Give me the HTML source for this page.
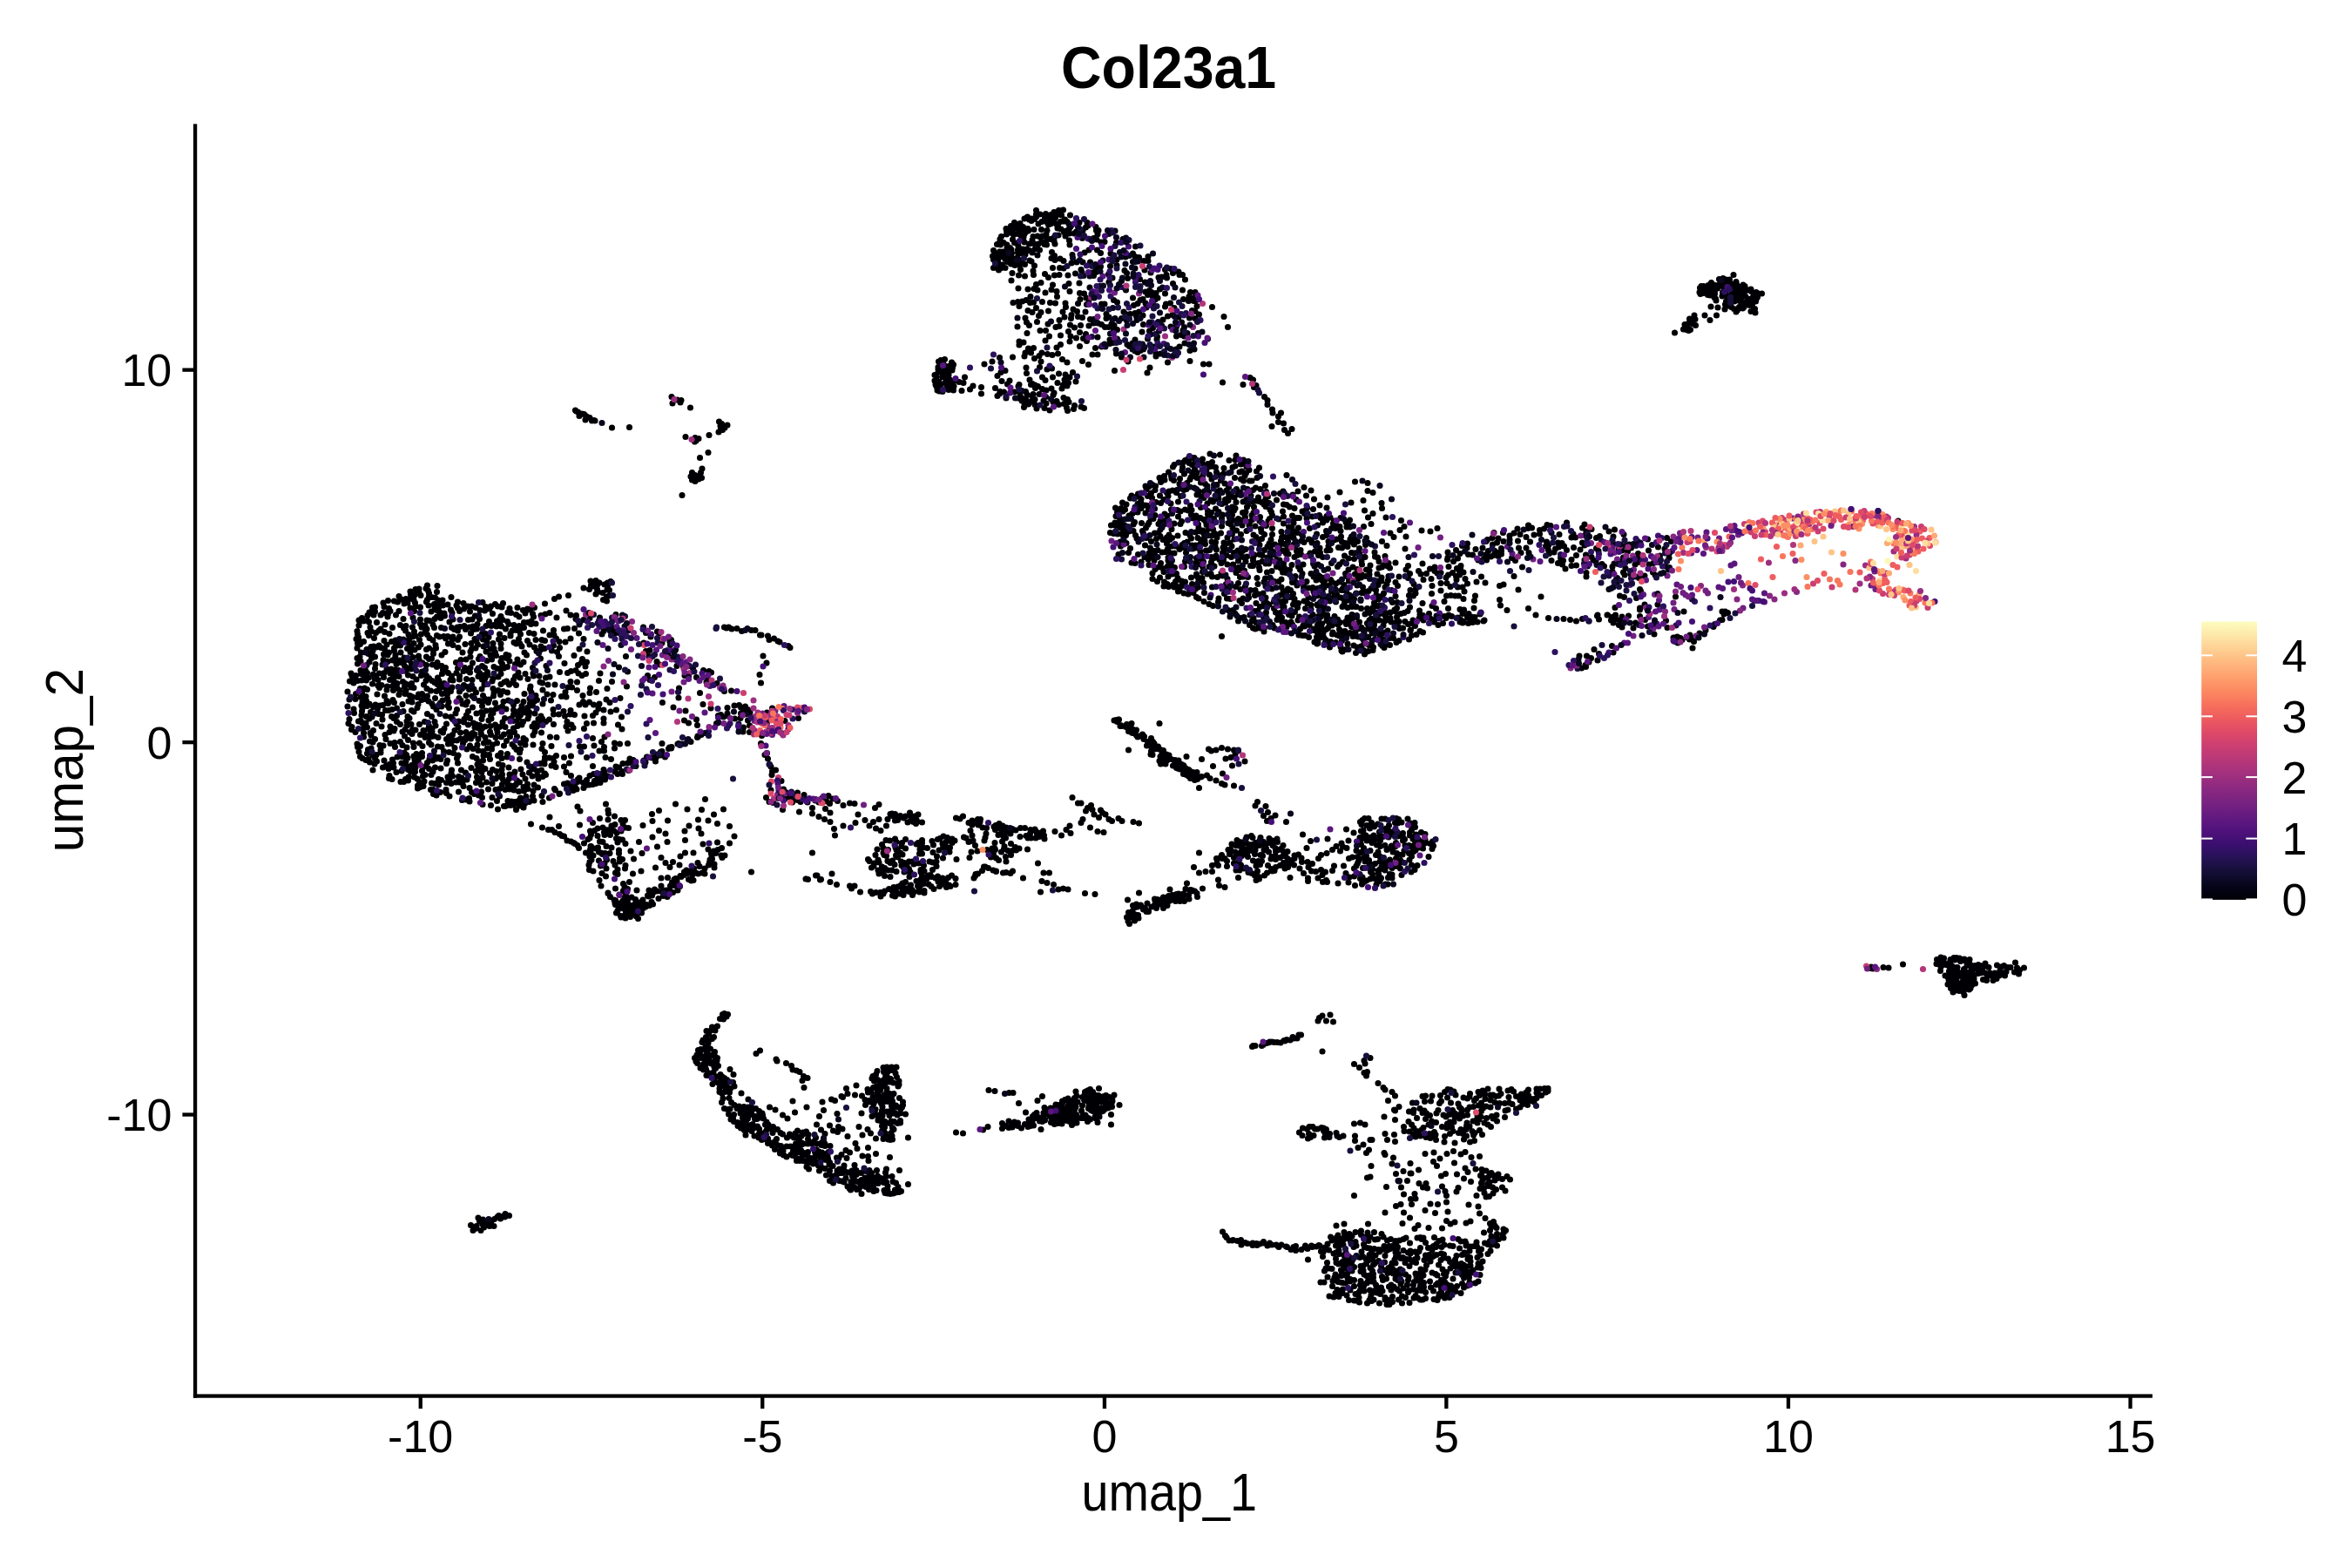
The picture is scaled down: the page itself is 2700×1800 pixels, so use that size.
<!DOCTYPE html>
<html><head><meta charset="utf-8"><title>Col23a1</title>
<style>html,body{margin:0;padding:0;background:#fff;}svg{display:block;}
text{font-family:"Liberation Sans",Arial,sans-serif;fill:#000;}</style></head>
<body><svg width="2700" height="1800" viewBox="0 0 2700 1800">
<rect width="2700" height="1800" fill="#fff"/>
<text x="1341.6" y="100.7" text-anchor="middle" font-size="69" font-weight="bold" textLength="247" lengthAdjust="spacingAndGlyphs">Col23a1</text>
<g fill="none" stroke-linecap="round" stroke-width="7.10">
<path stroke="#000004" d="M925 1009h0m614.5 449h0m90.5-752.5h0m-383-363.5h0m-669.5 451.5h0m983-79.5h0m-362.5 563.5h0m152.5-902.5h0m-352.5 968.5h0m-362.5-602.5h0m929-67h0m-870 305.5h0m570-630.5h0m-813 527h0m1100.5-179.5h0m-910.5 57h0m118 270h0m541 28.5h0m-604.5-69h0m916 315.5h0m-1065.5-467h0m930 112h0m-955-221h0m804.5-69h0m-576 371h0m726.5-367h0m-950 170.5h0m818-243h0m96.5 615.5h0m-207 83.5h0m-704.5-400h0m833 1h0m955 233h0m-1495-287.5h0m483.5-482h0m123.5 245.5h0m542.5-241h0m-708-75h0m-493.5 456.5h0m847.5 761h0m-470-1202h0m-569 439h0m716-317.5h0m-657 465.5h0m699.5-528.5h0m99.5 239.5h0m-503 719h0m691.5 139h0m-16 46.5h0m-1043.5-677.5h0m1020.5 170.5h0m-360-608.5h0m454 1097.5h0m-281.5-791h0m170.5 61h0m283-37.5h0m-775.5 301.5h0m-403-264h0m-175.5-27.5h0m36.5 88.5h0m319.5 467.5h0m638-554.5h0m-995.5 13h0m100.5 118h0m638 426.5h0m320 30h0m-817-589.5h0m860 774.5h0m145-865.5h0m-205.5-24.5h0m-845 120h0m639.5-171h0m-133 732.5h0m215-673h0m-605.5 384h0m422-81.5h0m-550 66.5h0m1574 143h0m-934-268.5h0m488.5-143.5h0m-1055 12h0m574-338.5h0m207 324.5h0m-326 304.5h0m-768.5-243h0m440.5 98.5h0m691.5 105.5h0m-551.5 352h0m748-71h0m-1183-355.5h0m0.5 18h0m672-645h0m-641.5 629h0m-162-91h0m257.5 128.5h0m365 34.5h0m868.5-602.5h0m-388.5 298.5h0m-650 653.5h0m768 135h0m20-180h0m-1223.5-402h0m1037.5-220h0m-945.5 98.5h0m-112.5 24.5h0m1192 661.5h0m-98 44h0m-1072.5-687h0m1000-117h0m-808 174h0m752.5 9h0m10.5 113h0m-1002.5-236.5h0m947.5-102h0m262 624h0m-212-602h0m-942 72h0m518 289h0m-376.5-170h0m745 34.5h0m182 593h0m-123-794h0m-576 568h0m632-762.5h0m-643.5 300.5h0m330.5-401h0m69-136.5h0m381.5 1127h0m-316-538.5h0m223-178.5h0m-835.5 284.5h0m516-542.5h0m260 283h0m122 635h0m-460.5-330.5h0m631.5 270h0m-111-658.5h0m39.5 854.5h0m-88.5-761h0m-371-398h0m-533.5 388h0m677.5 335.5h0m121 278h0m165.5-619.5h0m302.5-316.5h0m-1432.5 551h0m1080-197.5h0m60 725h0m-1034-540.5h0m1005.5 476.5h0m36-105.5h0m-1202-404.5h0m11.5-69.5h0m1173 570h0m-517-372.5h0m288-418h0m-608 385h0m398.5 307h0m219-552h0m145.5 743.5h0m-135.5-755h0m-296 239.5h0m391.5 501.5h0m80-153h0m-841-297.5h0m819-328.5h0m-71.5-66h0m-979.5 309h0m623 35h0m-469-135.5h0m974.5-150.5h0m-439 276h0m-768-151h0m465.5 492h0m661 29h0m193-667h0m-1165.5 142.5h0m629.5 484h0m164.5-303.5h0m542.5-640.5h0m-1024 684h0m-429-179h0m198.5 132.5h0m1122.5-256.5h0m432.5 415h0m-1611-416h0m-1.5 170h0m774-348h0m-133 505h0m-48-649.5h0m-524.5 660h0m458.5-643.5h0m-510 75.5h0m929 853.5h0m-13-678h0m32.5 785h0m-176.5-8.5h0m206.5 0.5h0m-339-844.5h0m-623.5 389.5h0m981.5 457.5h0m-439.5-1183.5h0m-58 51.5h0m-357 888.5h0m-102-333h0m-37.5-375.5h0m-234 279h0m822 524.5h0m-174.5-853h0m-3.5-4.5h0m648 835h0m103.5-509h0m-528-180.5h0m288 82h0m-263-5.5h0m23-77h0m230.5 97.5h0m11 47h0m-1041 68.5h0m-51.5-51.5h0m1079 706h0m35.5-713.5h0m624 376h0m-990 164h0m-735-364h0m435 44h0m-255.5-274.5h0m75 320.5h0m766-275h0m40.5 726.5h0m-292-857.5h0m-289.5 762.5h0m18-349.5h0m440-426.5h0m-773 383.5h0m1075.5 310h0m-550.5-840.5h0m303.5 243h0m-659.5 623h0m366.5-1026h0m530 1004.5h0m-124-323h0m-917.5 94h0m808.5-458.5h0m-489 446h0m624.5 447h0m-463-1061.5h0m538.5 999.5h0m-1034-730.5h0m315.5 669.5h0m484-50h0m-176.5-742h0m-107 724.5h0m-61.5-295h0m494.5 314h0m-380-44h0m-258-263.5h0m320.5-653h0m21.5 692h0m-75-672.5h0m32.5 696.5h0m-280.5-50.5h0m-507.5-234h0m118 31.5h0m681.5-164.5h0m-313 719.5h0m-127.5-575h0m324 498.5h0m-508.5-384h0m533.5 384h0m117-717h0m-801 226h0m498 473.5h0m535-543h0m-893.5 249.5h0m683 49h0m256 267h0m-456-1025.5h0m-154 713h0m396.5-87h0m-154 363.5h0m347-278h0m-402.5-594h0m-362.5 893h0m894-661h0m-808 320.5h0m443.5-320.5h0m11.5-0.5h0m-434.5 394h0m590.5-398.5h0m-782.5 140h0m-146 142.5h0m1077-239.5h0m-314.5-95h0m-720 403h0m885 462.5h0m-778.5-459h0m823-301.5h0m-218.5 221h0m-921.5-50h0m254 61.5h0m360 45h0m-240 276h0m-127.5-241.5h0m407-4.5h0m166 283.5h0m350 35h0m-1010.5-399.5h0m732.5-34.5h0m-246.5-427.5h0m-480.5 474h0m542.5 80.5h0m-429-252h0m742.5-62.5h0m-283.5-333h0m-687.5 566.5h0m904.5-319.5h0m309 794.5h0m315-1015h0m-855.5 935h0m206-707.5h0m-528.5-94h0m527 388h0m22-333.5h0m-600 437.5h0m719.5-267h0m-755.5 306h0m-201-231h0m996-44h0m-770.5-6.5h0m543.5-441h0m418 952.5h0m-524-919.5h0m526 287h0m-581-341h0m-659.5 500h0m627 227h0m-703.5-135h0m1211 573.5h0m-1029-561h0m-132-90h0m679.5-494.5h0m104.5 46h0m-227 942.5h0m168-994h0m136 113h0m-691.5 317.5h0m-167.5 146.5h0m958-267h0m241 879h0m-1161-642.5h0m1002-117.5h0m-991 58.5h0m1458-452.5h0m-350 1134h0m-479.5-1154h0m-316 856.5h0m-261-471h0m-135 120h0m1246 488h0m-340.5-700.5h0m-7 259.5h0m-326.5 464h0m320-712.5h0m-430 712h0m636-639h0m134 791h0m-745.5-172h0m465.5-414h0m-68.5-462h0m140.5 167.5h0m108.5 622h0m-1035-318.5h0m750-295.5h0m291.5 829.5h0m79 56h0m-529.5-512h0m465.5-16.5h0m-1030-264h0m583 284.5h0m-316 262h0m-323-513.5h0m1117 697.5h0m-1082-621.5h0m710.5 476.5h0m-637.5-336h0m861-472h0m757.5 625h0m-553.5-415h0m-1067 236h0m900.5-258h0m142 830.5h0m-121-68.5h0m3 42.5h0m139 16h0m-622-490.5h0m111.5-689h0m410.5 375.5h0m-549 597h0m164-964.5h0m415.5 947h0m-35 173.5h0m-327-1095h0m-4-70.5h0m-64.5-9.5h0m431.5 1186h0m625-328h0m-1245.5-170h0m249.5-517h0m684 226.5h0m-470 314h0m25.5 461h0m193.5-141h0m-284.5-624.5h0m-905 75h0m1074.5-133.5h0m-80.5 38h0m64.5 802h0m-179-562h0m-727.5-118.5h0m568 532h0m-714.5-425h0m1063 547.5h0m311-713h0m-292 711.5h0m-47.5-718h0m-42 0.5h0m347 63.5h0m-177-99h0m596.5 470h0m-295-398h0m-1002 560.5h0m277-33h0m107.5-855h0m295 554h0m-401-506.5h0m-738 444h0m1004.5 530h0m-885-508h0m190.5-71h0m285-413.5h0m434 301h0m-256.5-368h0m550.5 242h0m-919 687.5h0m794 137.5h0m-99.5-15.5h0m49-118.5h0m-420.5-1052h0m722.5 126h0m57.5-62.5h0m-985 666h0m-419-57h0m1069.5 369h0m-938-343.5h0m505 312.5h0m464.5 8.5h0m-777 55.5h0m703-696.5h0m-1146 228h0m-68-47h0m378 200.5h0m1059.5-396h0m-386 810h0m237.5 22.5h0m252-716h0m-1081.5 552h0m683-608.5h0m-991 35h0m1279.5 35h0m-1020.5 479.5h0m392.5-974.5h0m710.5 462h0m-847 292.5h0m472 434.5h0m-979-541.5h0m389 30.5h0m-37 393h0m718.5 37h0m-0.5-703h0m-1206.5 51h0m394.5 65.5h0m718-89.5h0m-926.5 119.5h0m811-144.5h0m-1005.5 211h0m567.5 148.5h0m597 464.5h0m-167.5-915h0m140 55.5h0m-1125 195.5h0m488.5 99h0m418-308.5h0m291 687h0m-845.5-836h0m329 502h0m-21 55.5h0m625 408h0m-1081-472h0m-90-128h0m619.5-387.5h0m374 1026h0m-1057.5-738h0m896.5-389.5h0m286.5 1136h0m-345.5-623h0m-639.5-88.5h0m252.5 511h0m603.5 205.5h0m-305.5-1211.5h0m-601 527h0m763.5-259.5h0m-20 489h0m179-69.5h0m-1031.5-258h0m565.5-249.5h0m-252.5 789h0m556.5-678h0m174 937.5h0m-1151-674.5h0m711 126h0m182.5-355h0m68.5 36.5h0m-679.5 147h0m1127.5-167h0m-830.5 687.5h0m953.5-927.5h0m-525.5 603h0m188.5-1.5h0m-1124.5-102h0m1792.5 247h0m-1251.5 118h0m1223-91.5h0m-1226 161.5h0m-63.5 43.5h0m-400-443h0m690 358.5h0m-607.5-445h0m1064 637.5h0m-319-920h0m60.5 473h0m-163.5-686h0m102.5 572.5h0m-185.5 67h0m351.5-228h0m-62-27h0m273-81.5h0m-546-350h0m-181.5 728.5h0m-258.5-141.5h0m-340-10.5h0m1330.5-234.5h0m-513 650h0m343.5 98.5h0m-23-127.5h0m-739 5h0m-10-305h0m322.5 39h0m280-3h0m-159.5-642.5h0m-555.5 551.5h0m236.5 431.5h0m741-31.5h0m2.5 192h0m-322.5-444.5h0m-224-729.5h0m743 380.5h0m-633.5-304.5h0m663.5 243.5h0m-439.5 79h0m217 761.5h0m-655.5-490.5h0m-219.5 21.5h0m-218.5-73h0m920.5-236h0m54 23.5h0m-278-308h0m-863.5 372h0m1071 240.5h0m-1051-220.5h0m1080-186.5h0m-110 391h0m243 287.5h0m129.5-656h0m-1116 359.5h0m537 295.5h0m125.5-405.5h0m-22-21.5h0m-89 427h0m470 19h0m-447-347.5h0m-255.5 411.5h0m40.5-93h0m51-844.5h0m548.5 533.5h0m-414-593.5h0m-13 89.5h0m143 210h0m-321 699h0m602-715.5h0m-513 356.5h0m893-663.5h0m-641.5 198.5h0m-209.5-242h0m64.5 143h0m188.5 166.5h0m45 49.5h0m135.5 348h0m-85-327h0m-833 299h0m955.5-283h0m-678 657.5h0m584-740.5h0m43 634h0m-55-649.5h0m-519.5 657.5h0m980.5-916h0m-675.5 706.5h0m183-84h0m-206.5-683.5h0m-769 575.5h0m1727.5 283h0m-1713.5-283.5h0m1004.5 127.5h0m-709 266h0m850.5-555.5h0m-444 601.5h0m397.5-582.5h0m-745 26.5h0m543.5-171.5h0m-29.5 420h0m42.5-361h0m-546 701h0m564-322h0m61.5-346.5h0m-169 378h0m22.5-482h0m-803.5 248.5h0m1011.5 619h0m-998-692.5h0m765 309h0m-669-133.5h0m159-89.5h0m-131.5 179h0m591.5-586h0m316.5 320h0m619 388h0m-578.5 171h0m595-139.5h0m-794.5-536h0m171 875h0m-599.5-240.5h0m552-516h0m-970.5 105.5h0m-192-58h0m-9-36.5h0m639.5 275.5h0m249.5-172.5h0m487-192.5h0m-155 716.5h0m-365.5-1085.5h0m582.5 464h0m-1353.5 144.5h0m525 104.5h0m587-46.5h0m-43.5-339.5h0m-918 265h0m363.5 84h0m-578-156.5h0m763-542.5h0m232 742.5h0m-945-257h0m297 253h0m866 498.5h0m-335-1110.5h0m-574.5 660h0m274-16.5h0m562.5 190h0m-476-206h0m-275 213h0m-6-408.5h0m667-199.5h0m-746.5 434.5h0m682.5-471.5h0m-450 761.5h0m568.5-32.5h0m-510-363.5h0m-472.5-167h0m-151 0.5h0m1058.5-77h0m-130 178.5h0m-769.5-43.5h0m1425-494h0m-497.5 266.5h0m-997.5 126.5h0m1082.5 271h0m-234.5-341.5h0m279.5 629h0m-606.5-317.5h0m-204 228h0m-358.5-424h0m1064.5 694.5h0m100-532h0m237.5-332h0m-810 381h0m162.5 283h0m-631.5-504.5h0m960 656.5h0m-911-700h0m461.5-284.5h0m-407.5 350.5h0m512.5 487.5h0m69.5-990.5h0m725.5 40h0m-1305.5 156h0m654-165h0m16.5 83h0m-276 607h0m-409.5-34.5h0m-184-97.5h0m131.5-21h0m970 123h0m183 275.5h0m-356.5-259h0m-437 255h0m412.5-715.5h0m1 5h0m53.5 23.5h0m58.5 60h0m-292.5-236.5h0m372 1080.5h0m-224-873.5h0m-350 770h0m696.5 100.5h0m-1288.5-735.5h0m497.5 576h0m331-979h0m469 966h0m-178-565h0m-1100 53h0m805-341h0m-660 306.5h0m816.5-214h0m-702 463.5h0m55.5-240.5h0m856.5 218.5h0m301.5-278h0m-387.5-2.5h0m-822 264h0m730.5-279h0m-372 292.5h0m147 302.5h0m-184.5 86h0m310-959.5h0m502 357.5h0m-273.5-25h0m-560 621.5h0m389.5-735h0m-793 307h0m785-262h0m107.5 772.5h0m-529-422h0m532-395h0m-647 655.5h0m850.5 83.5h0m-1273-561h0m416.5 458h0m628-577.5h0m94 280h0m-261.5-623h0m303.5 657.5h0m-785-207.5h0m813 627.5h0m-28.5-678h0m112.5 517.5h0m-591-807h0m206 113.5h0m308.5 909.5h0m-281-1080h0m167.5 293h0m-161-6.5h0m213 742.5h0m204.5-161h0m-112.5 230.5h0m-941.5-451.5h0m619-416h0m44 7.5h0m359-3.5h0m-1165.5 273h0m1107.5 380h0m-969.5-240h0m852 187h0m37-529.5h0m99.5 672.5h0m-459-101.5h0m180.5-611h0m-21.5-212.5h0m-709.5 232h0m506.5 602.5h0m436-15.5h0m-403-792.5h0m143 513.5h0m635.5-637.5h0m-951 681h0m103.5 265.5h0m547-649h0m-494-254h0m-187 599h0m649.5 468h0m-164-744h0m-969.5 87h0m726.5 145.5h0m1006.5 168.5h0m-935.5-474h0m279 35.5h0m-760 609h0m787.5 103h0m63.5-33.5h0m-411.5-509.5h0m-159.5-548.5h0m-615.5 485h0m1248-154h0m-274 685h0m-265-949.5h0m188 192.5h0m120 108.5h0m-251-297.5h0m-90-4h0m187 231.5h0m-875.5 217.5h0m561.5 200h0m397-28.5h0m-756 61.5h0m453-734.5h0m1053 797h0m-847-99.5h0m-345.5-24.5h0m-473-111h0m470.5 115.5h0m647 302h0m-888.5-468h0m233.5 204.5h0m-43.5 336h0m224-1085h0m-493 684.5h0m741-311.5h0m-500.5 704.5h0m-412.5-489h0m660.5 427.5h0m-191.5-14h0m363.5-917h0m582.5-21h0m-450 654h0m-3-260h0m739 395h0m-1663-408.5h0m441 265.5h0m537 477.5h0m140.5-195.5h0m-158 157h0m-638.5-120h0m-35.5-6h0m479.5-702.5h0m-796 130.5h0m781.5 309.5h0m-293.5 213h0m159.5-801.5h0m-691.5 389.5h0m-30-75h0m404.5 550.5h0m-222.5-469.5h0m826 138.5h0m125-38h0m-112.5-247h0m-393.5 323h0m-683-256.5h0m925 107h0m-738-18.5h0m489.5-411.5h0m590.5 243h0m-336.5 192.5h0m175.5-175.5h0m-17 21.5h0m-1026 163.5h0m848.5-297h0m-464 693.5h0m705-596.5h0m-871.5 188.5h0m555-582.5h0m641.5 332h0m-1035.5 684h0m-416.5-493.5h0m698 174.5h0m380.5 20.5h0m-1070-170.5h0m35.5-58.5h0m846.5-174h0m-37.5 13h0m273 359h0m-860-120.5h0m-199-132.5h0m-60.5 95h0m777-467.5h0m149.5 281h0m280 637.5h0m-250.5-608.5h0m-887.5 81h0m149-266h0m1603.5 635.5h0m-674.5 383.5h0m99.5-794h0m-683 582h0m499 23.5h0m108.5 134.5h0m-254.5-569.5h0m247.5 619.5h0m-89-29h0m-163-1126h0m-56 17.5h0m-698.5 467.5h0m-193-93.5h0m304 112.5h0m-138.5 9h0m456 425h0m-229.5-767.5h0m983.5 126.5h0m-1360.5 90h0m809 553h0m-629.5-521h0m-182 108.5h0m282.5-133h0m-13.5 253h0m-113-124.5h0m726-18h0m-876 0.5h0m549.5 524.5h0m-486.5-685h0m815.5-93.5h0m-91.5 699.5h0m493-651.5h0m-1097 134h0m354.5 559h0m-420.5-618.5h0m1075 22.5h0m-401.5 560.5h0m16.5-902h0m182.5 590h0m-607 205.5h0m760-464.5h0m-871 260.5h0m24-2.5h0m849.5 512.5h0m-1031-621h0m702-400h0m179 170h0m-183.5-295h0m442 1081.5h0m-686-128.5h0m-470.5-572.5h0m231 3h0m205 192.5h0m-402.5-182.5h0m734.5-423.5h0m-153-6h0m71-57.5h0m516 1016.5h0m-65-606.5h0m-217-84.5h0m97.5 888h0m56.5-1.5h0m-575.5-111.5h0m-16-351.5h0m497-299.5h0m-159 328h0m-193.5-577.5h0m434.5 235.5h0m-938 109h0m596-504.5h0m-372.5 439h0m688-94h0m-1013.5 235.5h0m269.5 350.5h0m656.5-589h0m-847.5 103.5h0m1046.5 632.5h0m-89.5-680h0m-1145.5 18h0m75.5 142.5h0m1199 581h0m7-142.5h0m-1050.5-511.5h0m560-494.5h0m300.5 398h0m33 329.5h0m-312.5-749.5h0m-395 1011.5h0m433.5-860.5h0m-96.5-139h0m354 458h0m91.5 697.5h0m-19-456h0m-421-699.5h0m281.5 444.5h0m-470.5 565.5h0m-243-259h0m928-332.5h0m-408.5 136.5h0m418.5 446h0m-1177-396h0m1188 487h0m205-741.5h0m-350-4h0m-152.5-8.5h0m-803 292h0m319 412h0m680.5-349.5h0m-823 39h0m35-181h0m271.5 143.5h0m-499-226h0m409 627.5h0m20-348h0m-8.5 286.5h0m609.5 176.5h0m-62-28.5h0m-467.5-514h0m454.5-233.5h0m-225-369h0m-880.5 412.5h0m625 221h0m-394.5-79.5h0m1577 248.5h0m-868-480h0m-65.5 193h0m236.5-136h0m-191-313.5h0m-727.5 330.5h0m998.5 572.5h0m-30-315h0m-139.5-512.5h0m144.5 498.5h0m-362 293h0m-644.5-534h0m828.5 234h0m127.5 505.5h0m141.5-833h0m-508-227h0m-634.5 391.5h0m479 167.5h0m-442-54h0m882 71.5h0m-156.5-125h0m-524-360.5h0m1465.5 607.5h0m-1469-346h0m522-187h0m-22 259h0m86-170.5h0m211 763.5h0m-9.5-727.5h0m-94-93.5h0m-1017.5 271.5h0m697-426h0m310 164.5h0m-299-372.5h0m130.5 324h0m4.5-249h0m251.5 638h0m-306 326.5h0m-242.5 62h0m421-710h0m-208.5 649h0m-225.5-52h0m906.5-607.5h0m-958 303h0m-144 70h0m593.5-424.5h0m454 85h0m-680.5-254.5h0m-168.5 943.5h0m227-1038.5h0m670.5 331.5h0m-1230 318h0m890 495h0m90 16h0m-1064.5-617h0m1065 504.5h0m-710.5-37.5h0m13.5-365.5h0m685 328h0m-728-368.5h0m667.5 87h0m322.5-367.5h0m-197.5 801.5h0m-1215.5-683h0m653.5 202h0m60.5-712h0m262 380h0m-669 151h0m981.5-134h0m-1228 243h0m-102.5-14.5h0m923-527.5h0m-796.5 534h0m49.5-50h0m984.5 516h0m-1021.5-535.5h0m561.5 139h0m-205.5 326.5h0m-482-377h0m622 74h0m107.5-519h0m-562.5 463.5h0m571.5 97.5h0m-521.5-113h0m271.5 436.5h0m-538.5-546.5h0m1240 467h0m-749.5 26.5h0m166.5-294h0m-238.5-8h0m-419-228h0m1087-159h0m-287-196h0m373.5 184.5h0m-728.5 235.5h0m987-113h0m-656 256h0m405.5-14.5h0m-2.5 550h0m-1139.5-691h0m-2.5 8h0m442 403.5h0m-45 74.5h0m225-272h0m371 409h0m115.5-808h0m-715.5 625.5h0m662.5-627h0m-329.5-351.5h0m403 444h0m-15.5 298.5h0m-820 17h0m998.5-421h0m-1065 371.5h0m863-301h0m15.5-18.5h0m734 464h0m-1057-653.5h0m174 104h0m184 130h0m-566.5 230.5h0m-604-61.5h0m88.5-31.5h0m814-269.5h0m-848.5 205h0m376 48h0m-139 202.5h0m1007.5-404h0m-216 678.5h0m-673.5-65.5h0m342.5-926.5h0m-298.5 973.5h0m616-688.5h0m-273.5-353h0m-735 501.5h0m1088 721.5h0m-993.5-757h0m1061 682h0m-151 42h0m205.5-717h0m-510.5-452h0m198.5 320h0m-821 145h0m460 255h0m464-305h0m-884 85.5h0m965.5 674h0m-625-124h0m329-54.5h0m74.5-585h0m-889.5 207.5h0m1213-207.5h0m-912.5 322.5h0m720-409h0m70 90.5h0m120.5 28.5h0m-218 300.5h0m-187.5 267.5h0m-45 8h0m325.5 202.5h0m-522.5-479h0m-441.5-295h0m470 296h0m524.5-352.5h0m-527 369h0m492.5-51.5h0m-578 383.5h0m367.5-1005.5h0m89 237.5h0m-96.5 459.5h0m-772.5-216.5h0m-74.5-25h0m38 52.5h0m540.5 170h0m-564.5-344h0m1035 482.5h0m-697 47h0m-45.5-204.5h0m-250-274h0m744 523h0m-17-333h0m472 438.5h0m-310-772h0m193 406h0m373-647.5h0m-1074 952.5h0m-335-434.5h0m1039.5 555h0m-148.5-226h0m89 253.5h0m122-741h0m-635.5 281.5h0m-267-133h0m873.5 445.5h0m-934-537h0m452.5-418.5h0m847.5-13h0m-1563 446h0m250.5 245h0m2-219h0m725.5-265.5h0m115.5 207h0m-1119.5 62.5h0m1128-213.5h0m270 17.5h0m-634 667h0m-204.5 56h0m-287.5-475.5h0m476.5-466h0m165.5 465.5h0m178 124h0m-1107.5-201.5h0m1608-446.5h0m-495.5 279h0m-74-45.5h0m476.5 161h0m-435 250h0m-325-695.5h0m425.5 448h0m419.5-390.5h0m-777.5 29h0m-783.5 386.5h0m130 105h0m-99.5-163h0m526 652.5h0m316.5-712h0m134.5-84.5h0m234.5 878.5h0m-1153-696.5h0m837-193h0m218 197h0m-438-448.5h0m-735.5 414.5h0m995.5 714.5h0m-25-866h0m-353.5 468h0m246-413.5h0m39-223.5h0m-21.5 221h0m146 82.5h0m-435 562h0m655.5-556h0m-59-0.5h0m-938.5-220.5h0m421-41h0m304 99h0m-149 748h0m74-948.5h0m249.5 661.5h0m-242.5-661h0m265.5 1134h0m574.5-877h0m-1226 325h0m718.5 552h0m-276.5-836.5h0m-894 170.5h0m930.5-233.5h0m527.5-198.5h0m-698.5 912h0m207-575.5h0m158-110.5h0m-1149 234h0m885.5-282h0m-317 682.5h0m-481-413h0m294.5 465h0m-382-566.5h0m265.5 312.5h0m770.5 265h0m-956.5-375h0m1086 567.5h0m-1184-791h0m1009-15.5h0m850.5 427.5h0m-1798-210h0m1022.5-277h0m-251-227h0m-69 76.5h0m403.5 892h0m-889-575h0m442-497.5h0m-628 476h0m1011-143h0m-98 369h0m124.5-53h0m-761.5 277.5h0m-92.5-186h0m-231-192.5h0m1033.5 456.5h0m-364.5-1032.5h0m-706 505.5h0m432.5 544.5h0m984.5-660h0m-460.5 29h0m283 749.5h0m-537-429h0m424.5-412.5h0m-52.5 116.5h0m-804.5 339.5h0m495-783.5h0m357 485.5h0m-877 138.5h0m753 75.5h0m362.5-312.5h0m-568.5-339.5h0m-354.5 576h0m772 604.5h0m-956.5-769.5h0m-230.5-38h0m1332.5-65.5h0m-719.5-204.5h0m106-43h0m529.5 269h0m-1006.5 184.5h0m320.5 450h0m-337-596h0m317.5 627h0m-43 41.5h0m461-362h0m-236.5-706h0m29-23h0m-418 939.5h0m486-615h0m-11-274.5h0m-97-14.5h0m678.5 367h0m-1208 233.5h0m1243.5-162.5h0m-314.5 757.5h0m-407-208.5h0m-398.5-423.5h0m701.5-271.5h0m843 529h0m-1093 164h0m-266.5 71.5h0m43.5-107h0m-579-465.5h0m-11.5-61h0m985.5-109h0m187.5 647h0m-144.5-599.5h0m-150-17h0m389 74h0m38.5 547h0m-424-686.5h0m-686.5 207h0m719.5-178h0m-170.5 693.5h0m188.5-664.5h0m-727.5 157h0m929.5 635h0m-754.5-912h0m-227.5 329.5h0m640.5 442.5h0m642.5-632h0m-937 675.5h0m121-327h0m-521-281.5h0m1115.5 241.5h0m256.5-294.5h0m-287 785h0m-38-786.5h0m-886 330h0m836-251.5h0m728 395.5h0m-1833-293h0m57-3h0m1387-88.5h0m-1054-203.5h0m1364 565h0m-1685.5-418.5h0m1180.5 588h0m-654.5-31.5h0m-495-452h0m869 108h0m-319.5 94h0m459.5-17h0m-994.5-123h0m883-321h0m130.5 113h0m-1046 125h0m97-72h0m299.5 186h0m578.5 106h0m-901-250.5h0m760-368.5h0m-94.5 9.5h0m752.5-40h0m-491 304.5h0m-14 780.5h0m755-331h0m-1162.5-82.5h0m288 10.5h0m-796-201h0m974 638.5h0m130-60.5h0m597-280h0m-1802.5-384h0m322.5 265.5h0m576.5 19.5h0m896.5 75h0m-1453.5-98h0m371-703h0m1086 828.5h0m-739-458.5h0m-199-41h0m-567 240h0m-122.5 69h0m771.5-38.5h0m323.5-228.5h0m550.5 453.5h0m-1846-422.5h0m239 196.5h0m752.5 91h0m-3-466.5h0m-897 315.5h0m529.5 107h0m288.5-275h0m-12 188.5h0m-70.5 417h0m571.5-633h0m-362 787.5h0m-639.5-610h0m475.5-512.5h0m315.5 647.5h0m-404 326h0m-481-315h0m664-304h0m-28.5-32.5h0m72 295h0m-586 365.5h0m554-626h0m-829.5 160h0m181-18h0m935.5 482.5h0m-345.5-723.5h0m930.5 553.5h0m-647-150h0m8 337.5h0m81.5-670.5h0m-690 343h0m353-389h0m-206.5 372h0m134-652h0m226.5 421h0m-237-116.5h0m-594.5 431h0m949 265.5h0m-216-300.5h0m84.5-267.5h0m-310.5-375.5h0m247 300h0m-947 123.5h0m800-173.5h0m-86.5-252h0m-668.5 486.5h0m81 59.5h0m162.5 293h0m21.5-383.5h0m573.5 195.5h0m-416.5 229.5h0m1020-917.5h0m-628 289h0m-465 646.5h0m504.5-682h0m284 811h0m-1103.5-621h0m993 476.5h0m41.5 231h0m308.5-1108h0m-1432.5 322.5h0m649.5 295h0m464-44h0m-1128.5-146h0m944-81.5h0m-990.5 74.5h0m191.5 28h0m587.5-390h0m-148 3h0m501 313.5h0m-1090.5 144.5h0m525.5 138h0m444 401h0m542.5-1097.5h0m-605 275h0m-106.5 14.5h0m-222 386.5h0m586 455.5h0m-1092.5-60h0m-15-559h0m473.5 524.5h0m-545.5-571h0m1068 627h0m-280.5-1165h0m202.5 704.5h0m123.5 33h0m-780.5 211.5h0m904-590h0m-87.5 381.5h0m-218.5-449.5h0m-93 293.5h0m-308 501.5h0m-37.5-17h0m-155.5-108h0m1466-104.5h0m-1671.5-320.5h0m1062 693h0m-333-453.5h0m-148.5-79h0m276.5-17.5h0m-966.5-255h0m666 268h0m194-376.5h0m54 842.5h0m237.5 42.5h0m-699.5-131h0m532.5-610.5h0m-272.5 282.5h0m401.5-340h0m-587 575h0m-119.5-331h0m452-320.5h0m-528 592.5h0m-342-325h0m784 80h0m-640-63.5h0m173.5 132.5h0m729.5-355.5h0m-651.5 661h0m487.5-962h0m219.5 637.5h0m-29.5 471.5h0m-358-196h0m-320 25.5h0m432.5-881.5h0m-123 50h0m-645.5 954h0m448.5-36h0m-282.5-350.5h0m129.5-187h0m1134.5-471h0m-1097 491.5h0m-222-132h0m1095.5 538.5h0m-1173.5-532h0m950.5 700h0m-470-493h0m139.5-513.5h0m373 329.5h0m0.5 540h0m-491-843h0m511 1034h0m-997-575h0m1104 435h0m-510.5-380h0m400.5-2.5h0m-401-7h0m-260-35h0m283-643h0m-123.5 710.5h0m634.5 438.5h0m-1160.5-722.5h0m1103 646.5h0m-1037.5-434h0m208.5 256.5h0m-298-471h0m843-25h0m-957.5 102.5h0m454.5 429.5h0m123.5 44.5h0m678 172h0m-449-979.5h0m633.5 274.5h0m455 387.5h0m-1717.5-386.5h0m1010.5 763.5h0m-224.5-869.5h0m180.5 341.5h0m-44-357.5h0m-1057.5 288.5h0m1218-170h0m319-369h0m-55.5 387.5h0m-1334 74h0m-77 46h0m1464-509.5h0m-1432 580.5h0m722.5-91h0m-377.5 390h0m-175.5-183.5h0m-288-332h0m783-316h0m-729 304.5h0m830.5 163h0m-839-131h0m352.5 231.5h0m141 358.5h0m713 132h0m-89-6h0m-844.5-575.5h0m520-269h0m-195 407.5h0m-281-238h0m733 679.5h0m-943-628h0m858.5 376h0m-966-406.5h0m95.5 55h0m548.5 448h0m-431.5-802.5h0m889.5 135.5h0m-1-32.5h0m27 851.5h0m-1115-599h0m-20.5-149.5h0m1135 282.5h0m-1191-224h0m158.5-57h0m201.5 266h0m646-302h0m-377.5 351.5h0m627 308.5h0m-94 97.5h0m12.5-425.5h0m-1117-266.5h0m936-166.5h0m-930 202h0m535 224.5h0m123-38.5h0m-512-118h0m564-581h0m212.5 372.5h0m-463 297h0m47.5 66.5h0m-486.5-150h0m490.5 159.5h0m684 480h0m-310-446.5h0m-551 185h0m-222.5-454.5h0m713.5-180h0m-720.5 117.5h0m1253-87.5h0m-900 731.5h0m757 11h0m-786-20h0m80-384.5h0m-579.5-158h0m1187.5-54.5h0m374-380.5h0m-1405 418.5h0m1078-67h0m-271.5-61.5h0m306.5 808h0m-329.5-574.5h0m323.5 462.5h0m573.5-221.5h0m-1533-107h0m-18.5-24h0m179-68h0m671.5 301h0m-307 31h0m-364-375h0m-317-78.5h0m364 530.5h0m566-655h0m-161 355.5h0m-687-208h0m-57-59.5h0m-96 136.5h0m833-231.5h0m117.5-69.5h0m318 662.5h0m-1346.5-419h0m1033.5-116.5h0m-913.5 107h0m1067 113h0m-843 83.5h0m800.5 442h0m-1120-627h0m1194.5 640h0m86-788.5h0m-1301 17.5h0m437 561.5h0m458-418h0m-802-2h0m300.5 329.5h0m-370-431.5h0m993.5-316h0m-138 603.5h0m-181-69h0m184 71h0m167-320h0m-344-277h0m263.5 129.5h0m-952 212.5h0m115.5-6.5h0m1111 668.5h0m-1218.5-566h0m1037.5-290.5h0m398 48h0m-315.5 591.5h0m-799.5-289.5h0m773-326h0m-390 334.5h0m-490.5-198h0m-82 76.5h0m1680 294.5h0m-606 151h0m-1048-419.5h0m55-19.5h0m339 516.5h0m30-359.5h0m-329.5-320h0m680.5-78h0m193 830h0m-46 31.5h0m-326.5-497h0m-50-651h0m-657 529h0m380 464.5h0m494-936.5h0m38 226h0m-290.5 393.5h0m1126 122h0m-1070.5 182.5h0m493.5-38.5h0m-458.5-992.5h0m381 472h0m172 531h0m-66-624h0m-462.5-302.5h0m-558 399h0m331.5 292.5h0m553-338.5h0m-112.5 27h0m134-17h0m85 777h0m-404-448h0m184-422.5h0m255 110h0m-294-67.5h0m-231 314h0m342 47.5h0m-84-134h0m288.5 491.5h0m-529.5-923.5h0m219 135h0m-211-172h0m211.5 265.5h0m20-8.5h0m-727 296.5h0m612.5-110h0m-687.5-155.5h0m968.5-31.5h0m-1012 263h0m869-256.5h0m-1039 195h0m429.5 379.5h0m-333-473.5h0m1164 579h0m-396.5-81h0m-711-367.5h0m1013.5 523.5h0m-152-834.5h0m23 394h0m-238-735h0m274 377h0m764 506.5h0m-1158.5-113.5h0m63-61.5h0m493-300.5h0m-271.5-273h0m-343 878h0m195.5-827.5h0m483.5 860.5h0m107.5-650.5h0m-707 301.5h0m-473-235.5h0m-127 197.5h0m1065.5-214.5h0m-1133.5 48h0m888-124.5h0m-360 714h0m-251.5-309h0m261.5 292h0m-367-578h0m-125.5 11h0m208.5 195.5h0m852-214.5h0m-292 557.5h0m186.5-637.5h0m-825 185.5h0m929 627h0m-364.5-1205.5h0m454.5 1110.5h0m325-1033h0m-301.5 1060h0m-188.5-812h0m-856.5 311h0m670.5-567.5h0m258.5 1123h0m-231.5-819.5h0m-290 638h0m522-552h0m-733.5 519.5h0m-115.5-340.5h0m1236.5-514.5h0m-1314 406.5h0m1.5 58h0m-154.5-8h0m1347-202h0m-1282 61.5h0m75.5 34h0m-172.5 14.5h0m134 165.5h0m1004 549h0m-921.5-683h0m269.5 468h0m-397.5-342.5h0m-100-168.5h0m289.5 323.5h0m-115.5-193h0m799.5-243h0m-883.5 184.5h0m823.5-211.5h0m290.5 900h0m637.5-371.5h0m-546 234h0m-1261-555h0m750.5-364.5h0m-26.5 854.5h0m414.5 166.5h0m-117-849h0m-693.5 170.5h0m206 568.5h0m164-1043.5h0m-746 553.5h0m752 122.5h0m-22 22.5h0m-647.5-152.5h0m45-30h0m1070 640.5h0m-59.5-444h0m-35.5-318h0m-988 119.5h0m832.5-189h0m80-73.5h0m243.5 915h0m-276.5-838.5h0m226.5 863.5h0m-130.5-518.5h0m-27-409.5h0m152 812h0m19 59h0m-218.5-452.5h0m-438 380h0m-342.5-403h0m-2.5-216h0m537 231.5h0m347.5-343.5h0m-86 342h0m149 418.5h0m8.5-700.5h0m-203-107.5h0m-223.5-315h0m-749 602.5h0m850-507.5h0m325 594h0m-29-10.5h0m-181-297h0m128-56h0m-959.5 172h0m740-369h0m242.5 197h0m-969.5 219h0m474 184h0m-440.5-293.5h0m1084.5 739.5h0m-764.5-531h0m518.5 55h0m-543 312.5h0m-328.5-394.5h0m602.5 409.5h0m644-584.5h0m-800 532.5h0m245 34.5h0m-42-10.5h0m-205.5-241h0m813-418.5h0m-1307.5 283.5h0m1725.5 225h0m-229.5-770h0m-426 367h0m-728 578.5h0m349-15.5h0m290 20h0m-14.5-656.5h0m-535 274h0m-289.5-441.5h0m-120.5 409.5h0m839.5 138.5h0m-575.5-176.5h0m409.5-584h0m-762 430.5h0m144 235h0m577.5-662.5h0m328 733h0m-558.5 327.5h0m219.5-68.5h0m-210.5 80h0m253.5-1077.5h0m-363.5 1030.5h0m750.5-563.5h0m7 753h0m178.5-841.5h0m-160 762.5h0m-318-1056h0m943 771.5h0m-595.5 349h0m31-758h0m-245-101.5h0m-428 644.5h0m20.5 40h0m522-620.5h0m-388.5 335.5h0m425.5 5.5h0m-944-188h0m637-475.5h0m-273 606.5h0m377.5-330h0m-142 323.5h0m188-353.5h0m-231.5 363h0m343.5 530.5h0m-1076.5-639.5h0m-43-53.5h0m1061.5-84.5h0m-714 29.5h0m809.5-3h0m-62 703h0m-764-562.5h0m877.5-149.5h0m-283.5-411h0m112.5 672.5h0m-213.5 39.5h0m310-472.5h0m-1045.5 231.5h0m446 132.5h0m-57.5 12.5h0m1393.5 194h0m-1027.5-751h0m449.5 997.5h0m-46.5 82h0m-634-174h0m-332.5-610.5h0m-53.5 232.5h0m-184.5-166h0m1514-22.5h0m-1164 503.5h0m748 228.5h0m-599.5-144h0m240.5-1035h0m217 734.5h0m-836.5-204h0m16.5-53h0m792.5 251.5h0m-872-168h0m348 456h0m784 170.5h0m-1085.5-673h0m446.5 519.5h0m519-582.5h0m491-379h0m-1481.5 401.5h0m751.5 96h0m-575 107h0m495 348h0m-330.5 1.5h0m-166.5-268.5h0m501.5 248.5h0m-641-515.5h0m421.5 610h0m749-109.5h0m-156.5 236h0m-271-857h0m-740.5 290.5h0m1118 529.5h0m-223-862h0m-150.5 71.5h0m-80-363.5h0m-344.5 1001h0m-284.5-483h0m946 664.5h0m-720.5-218h0m1022.5-633.5h0m-585 628h0m-376-432.5h0m689 614h0m-562.5-412.5h0m59-10.5h0m-490.5-310.5h0m343 625.5h0m-88.5-514.5h0m-96.5 47h0m678 561.5h0m-985-700h0m841.5-150.5h0m-16.5 695h0m-675-456.5h0m1026 674.5h0m-1080.5-648.5h0m1010 142.5h0m-111.5-8h0m-840.5-147.5h0m1108 533h0m-1245.5-651h0m370.5 539h0m-272-536h0m708.5 550.5h0m-733.5-475.5h0m1433.5-443.5h0m-1458 449h0m-84-47h0m299 297h0m894.5 222h0m-104-600h0m-79 55h0m108.5-93.5h0m-1042.5 160h0m1018 223h0m-142-360h0m235 824.5h0m3.5-128h0m-899-305h0m-34.5-365.5h0m-277 120h0m1427-85.5h0m-1361.5-2h0m1101.5 750h0m-413.5-1145.5h0m380.5 1140.5h0m-959-650h0m724 221h0m-696.5-191h0m616.5-566h0m-272.5 735h0m744 361.5h0m-333-750h0m-453 709h0m632-724h0m-47.5-10h0m42 833h0m-227-810h0m-220 392.5h0m-634.5-320.5h0m900.5 204h0m-362 365.5h0m673.5 58h0m-27.5 120.5h0m-283-398h0m211 370.5h0m-811.5-397h0m725 182.5h0m-455.5-169.5h0m969.5-682h0m-672 695h0m-927-240h0m811.5 496.5h0m227-694h0m139 114.5h0m-518 256.5h0m-508-135h0m1050.5-116.5h0m-632.5 624.5h0m753-668h0m-1226.5 182.5h0m1086.5-215h0m-52 88h0m345.5-7h0m-1292.5 44.5h0m261 59.5h0m752 162h0m-719.5-234h0m743-75.5h0m-418.5-432h0m-217.5 1103h0m-385.5-627h0m321.5 199h0m-200.5 107h0m97 176.5h0m-333-300.5h0m736 382.5h0m1032-152.5h0m-1533.5-115.5h0m810 147h0m-1025.5-399.5h0m-25.5-19.5h0m1097.5-46h0m-914 21.5h0m756-73.5h0m-831 138h0m594-357.5h0m-634 483h0m431 105.5h0m-129 271.5h0m666 7.5h0m-464-352.5h0m163 340.5h0m220.5-309.5h0m125.5-244h0m125 723h0m-387.5-396h0m-197-71h0m126-34h0m-281 362h0m580-335h0m-1099-276.5h0m7.5 73.5h0m1186.5 210.5h0m-752 317h0m831-661h0m-378 5.5h0m-168.5 317.5h0m-698-219h0m1182.5 528h0m-282-401.5h0m318.5-212h0m-961 314.5h0m-259-183.5h0m1148.5 637h0m-1088.5-607.5h0m406.5 484h0m-429-426.5h0m902-257.5h0m-686.5 331.5h0m-111.5-230h0m878.5-14.5h0m-734 329h0m-111-260h0m-58 29h0m888.5-133.5h0m-23.5 12.5h0m249.5 741.5h0m-278-804.5h0m161 840h0m1-758h0m-1068 78.5h0m634 192h0m226.5-325h0m-345.5 575h0m-212.5-284.5h0m-278.5-122h0m865-125.5h0m-901.5 148.5h0m608-394h0m362 199h0m-780 254h0m-124 8h0m944 93.5h0m-904.5-101.5h0m775.5-283h0m304 13.5h0m-419.5 636.5h0m-646-362.5h0m545-616.5h0m547 996h0m-795.5-64.5h0m471.5-672h0m-868 333.5h0m182-74h0m-188.5-122h0m1779.5 420h0m-1150.5 191h0m-608.5-586h0m1003-96.5h0m51.5 879h0m285-809.5h0m-716 316.5h0m179-365h0m-700 314.5h0m641 326.5h0m-95-989.5h0m343 444.5h0m-43.5-135.5h0m-182.5-1h0m376 47.5h0m-848.5 332.5h0m810.5 473h0m-827.5-437.5h0m232 358.5h0m-305.5-878.5h0m-303 279h0m922.5 97.5h0m-752-149.5h0m1009.5 715h0m65.5 23.5h0m-471.5-173h0m325 159.5h0m-513-179h0m-595.5-519.5h0m1103-96h0m474.5-302.5h0m-750.5 919.5h0m308-580h0m-50.5 304.5h0m-986-294.5h0m937 314h0m-126.5-409h0m-93.5-128.5h0m106 97.5h0m-303.5 369h0m-227 52.5h0m1190-656h0m-1379 573.5h0m913.5 527h0m374.5-775h0m-1221 327h0m647-395.5h0m-823.5 186.5h0m1036.5-35.5h0m86.5 215.5h0m-476 20h0m-328 1.5h0m561-415.5h0m-590-96h0m273.5 547h0m505.5-52.5h0m-40-342.5h0m-669.5 650.5h0m157.5 37.5h0m-480-606h0m653-339.5h0m331 650h0m-79-24h0m-44-425.5h0m-927 168h0m1231.5-62h0m-165 58h0m-311 229.5h0m117-297.5h0m-18.5 200h0m-847-106h0m66 145.5h0m1166.5-281h0m56 67.5h0m-186.5 762.5h0m34.5 18.5h0m103-118h0m-705.5-117.5h0m-74.5-309.5h0m569.5-288h0m179.5 695.5h0m-114.5-588h0m4-101.5h0m-160.5-55.5h0m-231.5-304h0m189.5 326.5h0m91.5-121.5h0m-856.5 398.5h0m780.5-221h0m79.5-51.5h0m-711 243h0m188 478h0m541-659.5h0m757 453.5h0m-794.5-512h0m223.5 41.5h0m-207 320.5h0m-241-718.5h0m-82 694h0m185-300h0m-915 159h0m300.5 204.5h0m-154.5-283h0m624-373h0m-282 969.5h0m282-1052.5h0m-96.5 699h0m-495-78.5h0m631-428h0m-305 852.5h0m1046.5-984h0m-1448 517h0m1047.5-175h0m-199.5 210.5h0m-589 125.5h0m410.5-709.5h0m77 960h0m182-671.5h0m-759.5 220h0m483-372h0m506 258h0m-939 341.5h0m545-743h0m313 1136h0m-746.5-143.5h0m-188-819.5h0m-194.5 408h0m965-306h0m552.5 130.5h0m-519.5 232.5h0m-583.5-106.5h0m-198 67h0m626-576h0m-120 125h0m-437 575.5h0m-81.5-309.5h0m1046.5 639.5h0m-514.5-927h0m-777.5 427h0m471 470h0m185-307h0m912.5-656h0m-335 332.5h0m-471.5 601.5h0m-639.5 115.5h0m275.5-171.5h0m1478-119h0m-378-735h0m-519 279h0m845.5 474h0m-1017 154.5h0m-232-35.5h0m578.5-551h0m-970-3h0m-39.5 194h0m771.5-478h0m-127.5-81.5h0m-28 106h0m-455.5 592h0m726.5-434.5h0m-485 754.5h0m425.5-367h0m-446 344.5h0m653.5-335.5h0m-1069-154h0m711.5-579.5h0m-9.5 1022.5h0m-191.5-267.5h0m-221 207.5h0m201 19.5h0m944-900h0m-436 1095h0m479.5-1082h0m-610.5 239.5h0m-422 755.5h0m640.5-635.5h0m-1007.5-18h0m933 765h0m-175-567h0m-521 399.5h0m-151.5-342.5h0m-11-283.5h0m856 55.5h0m-112.5 256h0m87-341h0m-88.5-9h0m115 372h0m-536.5 246h0m142-944.5h0m-588.5 1103.5h0m265-170.5h0m-0.5 9.5h0m760-625h0m-387.5-341h0m-704 609h0m1756 231h0m-1492-103.5h0m-197.5-150.5h0m1109.5 587.5h0m-1206-657.5h0m55-56h0m359.5 175h0m-288-139h0m955.5-79h0m-188-135h0m87 865.5h0m-887-669.5h0m298 527h0m605-652h0m-748.5 418.5h0m-181.5-149.5h0m954 83h0m-273-522.5h0m-189 536h0m51-555.5h0m-112.5 850h0m540-562h0m478.5-405h0m-1287 625.5h0m774 479.5h0m-757.5-394.5h0m-199-304h0m1059-1.5h0m-39 262.5h0m-384.5-48.5h0m536 458.5h0m-968.5-440h0m905.5 383h0m-134-659.5h0m249 563h0m-1266.5-475.5h0m28.5-58h0m747.5-380h0m-662.5 532h0m211-322h0m174.5 712.5h0m-334.5-380.5h0m916 128h0m-97.5-375.5h0m-406.5 369.5h0m261.5 49.5h0m223-51h0m-1077-255.5h0m918.5-184h0m216 181.5h0m-1087.5 139.5h0m-1-187.5h0m816.5-345.5h0m-772.5 413h0m913 171.5h0m103.5-271.5h0m-258 282.5h0m289-203h0m-390-304h0m-646 384.5h0m980 628.5h0m44.5 0.5h0m-154.5-795.5h0m109.5 775.5h0m30.5-697.5h0m-330 536.5h0m426.5 191.5h0m-312.5-1107h0m175.5 950h0m16.5 161h0m-115-487h0m372-324.5h0m-787 590h0m559.5 253h0m384-1163h0m-515 655h0m-612.5 265.5h0m467.5-200.5h0m68.5-170.5h0m-170-602.5h0m-643.5 460h0m1076 705.5h0m-10.5-24.5h0m-971.5-649.5h0m29.5-289.5h0m1082.5 121h0m-742 689.5h0m-294.5-243h0m597-6h0m385.5 232h0m-336-384.5h0m448.5-138h0m-155.5 687h0m-497-458.5h0m-221 356.5h0m382.5-699h0m-34.5-273.5h0m306.5 595.5h0m-164-373.5h0m88 98h0m-613 56h0m-249.5 29h0m713-245h0m-156.5-150h0m371.5 1120.5h0m-533.5-559h0m-495.5-64h0m119-3.5h0m892.5 612.5h0m-283.5-1093h0m83.5 161.5h0m6.5 75.5h0m191.5 381h0m80-32.5h0m-622.5-9.5h0m-187 274.5h0m281.5-280.5h0m-59 50.5h0m588.5 472.5h0m-266.5-862h0m896.5 492h0m-1260 182h0m639 145h0m-146.5-715.5h0m-93-187h0m102.5 179.5h0m-47-63.5h0m151.5 59.5h0m-729.5 602.5h0m-323.5-468h0m140.5-14.5h0m708.5-297h0m440 95.5h0m-335 78.5h0m462.5-388h0m-977.5 965h0m-523.5-515h0m543 192h0m639-255.5h0m-68 749h0m-1163-667h0m1034 204h0m19.5 198.5h0m-90.5-501h0m-165-315h0m754-50h0m-577.5 245.5h0m-844 219h0m846.5 184.5h0m861 133.5h0m-337.5-730h0m75.5-28.5h0m-285.5 1071h0m-507-151.5h0m211.5-726.5h0m169.5 73.5h0m-1033 149h0m1126-57h0m-95 288h0m-1074.5-236h0m-113 21h0m1178-100.5h0m-307.5-88.5h0m89.5-247h0m124.5 313h0m-1074.5 146h0m1764 302.5h0m-1053.5-112h0m1159 122h0m-1037.5 140.5h0m-760-576.5h0m596.5-233.5h0m-650 378.5h0m158-48h0m1111 650.5h0m-1031-633h0m400.5-380.5h0m-507.5 304h0m357 518.5h0m102-12.5h0m970-888h0m-433.5 1139.5h0m68.5-811h0m-974 237h0m140.5-56h0m798 642h0m-33.5-503.5h0m-733.5 252.5h0m1161.5-892.5h0m-1415 1051h0m829-525h0m-776-167.5h0m718.5-36h0m156 762.5h0m224.5-79.5h0m-189-654h0m701.5 431.5h0m-503-484.5h0m-1084.5 172h0m123 206.5h0m1219-681.5h0m-957.5 596.5h0m171.5-657h0m-637.5 625.5h0m-118.5-147h0m194-21.5h0m575 544h0m-420.5-485.5h0m768-55h0m-178.5-140h0m67-111h0m360 157.5h0m-740.5-204.5h0m76-173.5h0m-713 546.5h0m1185 653h0m-603.5-446.5h0m529.5-337.5h0m-684.5 600h0m87 54h0m-153-344h0m536.5-675.5h0m54 276.5h0m-958.5 128.5h0m1392-84.5h0m-787.5 324h0m-589.5-69h0m212.5-111.5h0m842 522.5h0m-488-72h0m-615.5-408h0m521.5 487.5h0m376-472.5h0m692-486h0m-476 814h0m138.5 161.5h0m-638.5-32.5h0m710.5 119.5h0m-1148.5-655h0m969-100.5h0m99 304.5h0m-952.5 0.5h0m-112.5 430.5h0m-123.5-528h0m558.5 396h0m382.5-708.5h0m280 740h0m-1233.5-417.5h0m10.5-144h0m556.5 551.5h0m-104-371.5h0m-462-127h0m1201 545.5h0m-1037.5-593.5h0m556.5-290h0m-658.5 259.5h0m386.5 587h0m-92.5-85.5h0m624.5-614h0m10.5-163.5h0m85.5 233.5h0m-246.5 599.5h0m142.5-364.5h0m-419 361.5h0m1010.5-920h0m-761.5 587.5h0m-96 364.5h0m-175 27.5h0m53-54h0m338-688.5h0m489.5 88h0m-81.5 583h0m-940.5-530.5h0m577.5 259.5h0m-857.5-289h0m989.5 0h0m-140-252.5h0m167 1031.5h0m-512-490.5h0m566-261.5h0m-17 743.5h0m-444-1192.5h0m96.5 685h0m-760.5-153h0m1740 311h0m21 23.5h0m-806-193.5h0m244 315h0m-640-293h0m-590.5-272.5h0m1039-17.5h0m-485 696h0m539.5-81.5h0m-180-871h0m-225-123h0m1131.5 830.5h0m-923.5-482.5h0m380.5 628h0m-524.5-251h0m467 235.5h0m-835 28h0m-153.5-599.5h0m695-43.5h0m-800 116.5h0m90 61h0m953 149.5h0m-48 356h0m-369.5-911h0m366.5 272h0m-750 567.5h0m673-570h0m-658 590.5h0m610-798.5h0m54.5 252.5h0m348.5-113h0m-1337.5 278h0m756.5-278.5h0m-257 658h0m425.5-695.5h0m-110-33.5h0m-360.5 821h0m66.5-374h0m-498-76h0m732-507h0m1011 702h0m-885-484h0m-259.5-174.5h0m-406.5 277h0m672.5-99.5h0m-912.5 81h0m146 172h0m508-615h0m-309.5 456.5h0m853.5 719h0m-1202-694h0m28.5-3h0m1015 729h0m-1081-723.5h0m1000 447h0m-446 111.5h0m413-668h0m178.5 827h0m-238-803.5h0m635-328h0m-278 1018.5h0m-187-631h0m-2.5 758h0m10.5-802h0m-802 190.5h0m-143-168.5h0m1163.5 554h0m490-139.5h0m-999.5 160.5h0m148-545h0m526.5 2h0m-366.5-69.5h0m-256.5-84.5h0m19 54h0m126 343.5h0m-201.5 286h0m-729-397.5h0m689.5-588h0m127.5 33h0m-562 613.5h0m807 511.5h0m-900.5-952h0m878.5 147h0m34 847.5h0m-567-199.5h0m-486-532.5h0m771-344h0m-445 871.5h0m677.5-559h0m162.5 638.5h0m-969-309.5h0m183 257.5h0m-367.5 105.5h0m1046.5-131.5h0m17-540h0m-547 264.5h0m525.5-295.5h0m-370.5 575h0m-50-810.5h0m-660 345h0m333 457.5h0m188.5-242.5h0m-24.5-32.5h0m340.5 31h0m-544 179h0m773-533.5h0m-140-55h0m18.5-25h0m-181.5 665.5h0m298-298h0m-112.5-256h0m-248.5-387.5h0m419 1131h0m-339-854.5h0m-893 181h0m1071.5-148.5h0m60-21h0m61 137h0m-513-324h0m-386.5 555h0m565.5 278h0m352 240h0m23-48.5h0m-1024.5-597h0m324 483h0m408-1018.5h0m168.5 412h0m-806.5 165.5h0m-87-110h0m567.5-460.5h0m-585.5 611.5h0m819 37.5h0m-229.5-7h0m351 522.5h0m-302-1098.5h0m394 592.5h0m-1202.5-211.5h0m1226.5 700h0m-456.5-1193.5h0m-334.5 1015.5h0m-319-562.5h0m1038.5-59h0m-383.5-256.5h0m754-74.5h0m-1250.5 614.5h0m98.5-404h0m297.5 397.5h0m420.5-330.5h0m-378-329h0m24 66h0m542.5 924.5h0m-632-308.5h0m557.5 528h0m-603-204h0m-554-381.5h0m1018-186h0m-160 319.5h0m43-511.5h0m-171.5-253.5h0m-294.5 1059h0m604.5-634.5h0m439 25.5h0m-432-51.5h0m151 653h0m-593.5-315h0m-533-237.5h0m1131.5 690h0m-422-1193.5h0m330.5 438.5h0m-1098 145h0m-51-127h0m945-131h0m-946 183h0m54.5-75.5h0m432.5 605.5h0m-437-488h0m1115.5 536.5h0m-1032.5-543.5h0m16 2.5h0m939.5-100.5h0m-568 629.5h0m-458-655h0m837.5-39h0m217 58.5h0m416-388h0m-983.5 982.5h0m239-21h0m-2-956.5h0m271 1106h0m50-829.5h0m-400.5-150h0m-638 336.5h0m849-445h0m-351.5 886h0m380.5-622.5h0m193.5 60h0m-19 311.5h0m0-290.5h0m-402 269h0m360.5 349h0m-680.5-584h0m759.5 10.5h0m-304 315h0m-819-161.5h0m805-607.5h0m-469.5 928h0m493-839h0m-230 627h0m478-343.5h0m-74.5 344.5h0m-647-275.5h0m586.5-192h0m551-200.5h0m-1041.5 985.5h0m416.5-938h0m105 262.5h0m-1019.5 95h0m1210.5 558.5h0m-1065-505.5h0m461 195.5h0m160 30.5h0m-792-177h0m709.5 131.5h0m496.5 15h0m-289-115h0m-18.5-266.5h0m300 863.5h0m353-1133h0m-1348 487.5h0m205.5 380h0m891 172h0m-180 96.5h0m174.5-138.5h0m-481.5-50.5h0m144-395h0m250.5 489h0m-22.5-89h0m-404.5-1031h0m299 417.5h0m-968 177h0m1047 567.5h0m-341-132h0m671-649h0m-456 342.5h0m-872-114.5h0m771 182.5h0m232-381h0m5.5-12.5h0m-289-12.5h0m-476.5 591.5h0m783-213h0m-836 8h0m748-348h0m-781 363.5h0m-156-334h0m623.5 249.5h0m635-194h0m-1279-26.5h0m986 755.5h0m-570.5-473.5h0m469 411h0m89.5 11h0m-859.5-617h0m928.5-102.5h0m-1148-26h0m905.5-65h0m149.5-40h0m-269 674h0m-635-340.5h0m830.5-353h0m-346 415.5h0m638.5 274h0m-348-842.5h0m-537 570h0m975-335h0m-730-208h0m-630 326.5h0m1123-128.5h0m-562.5 288h0m233-5.5h0m-150 39.5h0m378-311h0m145 793h0m89.5 12h0m-337.5-441.5h0m217.5 1.5h0m84.5 414.5h0m-67-459h0m-36 510h0m-303-1216.5h0m-492.5 765h0m950.5 391h0m-781-98h0m-15.5-8.5h0m22.5-304.5h0m68.5 343h0m338.5-474h0m116-304.5h0m182 818.5h0m-805.5-159h0m-399.5-529.5h0m141.5 177h0m616.5-501.5h0m-646.5 426h0m743.5-233.5h0m-791.5 299.5h0m815.5-250h0m-365 676.5h0m744.5 44.5h0m-363.5-1005.5h0m-767 582.5h0m930.5 514h0m-695.5-885h0m-337.5 274h0m646 131h0m-538-256.5h0m-72.5 172.5h0m-6-58.5h0m1648.5 300.5h0m-700-475h0m-114 232h0m103-162.5h0m109.5 767h0m70-27.5h0m-1090.5-614.5h0m1094 622.5h0m40.5-200h0m-805-418.5h0m163 511h0m-101-39.5h0m571-604h0m-195.5-392h0m-789.5 369h0m682-218.5h0m-489 434h0m838.5-218.5h0m-902.5 149.5h0m677-468h0m-805.5 314.5h0m805.5-377h0m37.5 312h0m431-5h0m-720.5 377.5h0m-491.5-261.5h0m302.5 576h0m524-679.5h0m183.5 856h0m-1035.5-554.5h0m765-633.5h0m-96.5 1001h0m-321.5 28h0m128.5-72h0m572-300h0m154.5 318.5h0m-53.5 0.5h0m-969-205h0m-112-274.5h0m-202.5 58h0m912.5-484.5h0m-783 472.5h0m625-528h0m423 361.5h0m-142.5-9.5h0m-732.5 387.5h0m771-457.5h0m22.5-10.5h0m-45 433h0m418-373h0m-1085.5-127.5h0m196.5 864h0m635.5-30h0m-171-725h0m-890 137.5h0m-127.5 122.5h0m830-499.5h0m341.5 275h0m193.5-19h0m-541.5-220h0m362.5 242.5h0m-693.5 268h0m50 444.5h0m502.5-672h0m68-52h0m-280-347.5h0m-340.5 1011h0m534-607.5h0m-81.5-46.5h0m-794 108h0m827-68.5h0m-558 125h0m756 543.5h0m-603.5 12h0m1312.5-256.5h0m-1595-235h0m20.5 165h0m256 291.5h0m619.5-616h0m-79-48.5h0m-206-5h0m-856.5 205h0m1165 541.5h0m-485.5-426h0m-84.5-18h0m-173-69h0m66.5 459h0m205-1087h0m81 990.5h0m-535-370.5h0m223 402.5h0m716.5-621.5h0m-620.5 267h0m397.5-327h0m-915 304.5h0m700-539.5h0m-380.5 790h0m647.5-177h0m-159-392h0m-839 165.5h0m-54.5-7h0m180.5 137h0m1020 566h0m-1065-718.5h0m394 613h0m640-397h0m-945.5-134.5h0m-98-18h0m1113.5 476h0m-36 186h0m-61-44h0m-39.5-729h0m-525.5 296h0m-153.5 307h0m-334.5-563h0m966-40.5h0m505-359h0m-537.5 371.5h0m-634 274h0m663.5-328.5h0m40-16.5h0m131.5 847h0m-1097.5-632.5h0m57-6.5h0m798-132h0m-532 53h0m448-371.5h0m655-62.5h0m-1071.5 979h0m661.5-297h0m-1025.5-239.5h0m461.5 233.5h0m178-739.5h0m320 1030h0m-227-693.5h0m389 653h0m-78-302h0m-965-246h0m1338-353h0m286.5 751.5h0m-708 319.5h0m-236-786.5h0m235.5 59h0m-979 56.5h0m833.5-210h0m215 751.5h0m-417-269.5h0m-183 242.5h0m1004.5-922.5h0m-1509 467h0m845.5-132h0m-466 134h0m546.5 188.5h0m-11.5-406h0m129.5-18.5h0m430-243.5h0m-1275.5 387.5h0m-132 193h0m919-260h0m-1078.5 115.5h0m982.5-138.5h0m-25.5-230h0m900 706.5h0m-1045-86.5h0m-578.5-61h0m-166.5-284h0m710-343h0m-19-44h0m-718.5 568.5h0m972 109.5h0m-37-422h0m-864 305h0m478 93.5h0m-354.5-182h0m272 561.5h0m-381-418.5h0m-13-70h0m1033 483h0m-1090.5-468h0m761.5-488h0m1006 760h0m-459 128h0m-1295-382h0m90.5 9.5h0m875-270h0m-1033 166.5h0m101.5 122.5h0m738.5 357.5h0m96.5-377h0m594-144h0m-94-82h0m-816 343h0m-452.5-96.5h0m-18.5 505h0m130-443.5h0m862-262h0m90 626.5h0m341.5-970.5h0m-629.5 26.5h0m-661.5 608h0m1186-279.5h0m-853 529h0m1224-110.5h0m-804.5-549h0m-148.5-286h0m-101.5 672h0m-401-410.5h0m1036 205.5h0m-622.5-410h0m339.5 367h0m-521 565h0m139-836.5h0m373 860.5h0m-256-698h0m-571 270.5h0m-122.5-137.5h0m218.5 495.5h0m-309-474h0m730-405.5h0m-568 418h0m1024 629h0m-853.5-160.5h0m-193-293h0m-29.5-175.5h0m51 197.5h0m678.5 58h0m-248.5-61h0m517 437h0m-72.5-674.5h0m-361-426.5h0m485 986.5h0m-352.5-945.5h0m23.5 233h0m-739 250h0m-21 568h0m1054.5 25.5h0m-26.5-118.5h0m-750.5-24.5h0m566.5-293.5h0m334.5 280h0m-476.5-653h0m20-292h0m48.5 300h0m131 575h0m453-462h0m-252.5 568h0m-582-862.5h0m228.5 157h0m-580 280h0m401 377.5h0m319-535h0m111 723h0m-1087.5-576h0m23.5-175.5h0m470 655h0m-528.5-521.5h0m190-74h0m766.5 152.5h0m175-217h0m93 583h0m-847-778h0m31.5 782h0m858.5-12.5h0m-737.5 98h0m-430.5 41.5h0m411.5-69h0m52.5-82h0m453-535.5h0m-903.5 160h0m-108-165.5h0m707.5 245.5h0m449 484h0m35.5-130h0m-280-970h0m-178.5 616.5h0m-511.5-275.5h0m679.5 205.5h0m196-171h0m-559 551.5h0m214-816.5h0m-499.5 602h0m882.5-77.5h0m-1093.5-97.5h0m447.5 43h0m445.5-322.5h0m-418.5 727h0m82-377.5h0m495.5 499.5h0m-509-430h0m409-24h0m116.5-35.5h0m-999.5-98h0m982.5-166h0m-1100 84h0m816 499h0m-462-725h0m768 16.5h0m-208-2h0m275 797h0m-18 80.5h0m-1068-738.5h0m362 618.5h0m304.5-1064.5h0m477 1006.5h0m-96.5-7.5h0m-1124.5-568h0m910.5 315h0m-620-43.5h0m954 452.5h0m-210.5-825h0m-41.5 378.5h0m100-224h0m-19.5 682.5h0m-23.5-824.5h0m-329.5-310h0m475 357.5h0m-1132.5 250.5h0m355 321h0m-417.5-378.5h0m838.5-494h0m-764 511.5h0m351.5 471h0m-238-619.5h0m313.5 657.5h0m1039.5-1009.5h0m-679.5 265h0m153-46h0m382 51.5h0m-1396.5 95h0m976 249h0m-777 10h0m1576 137.5h0m-773.5-119.5h0m-332-49.5h0m-225 283h0m-104-731h0m589.5 914.5h0m104.5-735h0m-707.5 541.5h0m-217.5-517.5h0m-0.5 162.5h0m849-226.5h0m223 844h0m-707.5-167.5h0m-383.5-619.5h0m434.5 664.5h0m-392.5-460.5h0m644 372.5h0m399 36h0m-1138-601.5h0m1420.5 27.5h0m-1295 140h0m906-187.5h0m104 27h0m-368.5-320.5h0m-528.5 549h0m931 317.5h0m-139.5-638h0m49.5 867.5h0m-1005.5-94h0m932-397h0m-919-270.5h0m-113 140.5h0m1004.5-231h0m167 819.5h0m-457-988.5h0m442.5 812h0m-353.5-447h0m252.5 627.5h0m440-759h0m-674.5-114h0m-213-163h0m539 184h0m-1195 252h0m1036.5-375h0m-277-53h0m982.5 165h0m-1441 349.5h0m788.5-257.5h0m125.5 795.5h0m-1088.5-642h0m808.5-486h0m268 626h0m-346.5-152h0m-670.5 60h0m1122-278h0m-1244 299.5h0m102-139.5h0m1414.5-437h0m-662 695h0m112.5-340h0m-99.5-149h0m345.5 879.5h0m-140-820.5h0m-568.5 705.5h0m667-654.5h0m-1039.5 204h0m618.5-555.5h0m98 574h0m-582.5-124h0m653.5 673.5h0m-406-425.5h0m918.5-297h0m-316.5-38.5h0m-523-241.5h0m917-77.5h0m-378 622h0m-258.5-74.5h0m304.5 571.5h0m-237.5-786h0m-486.5 584.5h0m-71-426h0m416.5 1h0m-824.5 55h0m1047.5-179.5h0m-607.5 585.5h0m475-652.5h0m-391.5 619.5h0m-491-461h0m433 523h0m247-1041h0m368 1199.5h0m-786.5-468.5h0m385.5-560h0m40-98.5h0m136 472h0m-619.5 155h0m660 37.5h0m24-486.5h0m-629.5 430h0m-348-194.5h0m96-41.5h0m947 240h0m44.5 29.5h0m756.5 119.5h0m-1790.5-233.5h0m1177 545.5h0m5.5 15h0m-97.5-697h0m-517 529.5h0m-143 36.5h0m2 4h0m920.5-693.5h0m-587 657h0m415.5-572h0m-273 183.5h0m-892-51h0m1027 452.5h0m94-587.5h0m-52 11h0m-616.5 614h0m401.5-787h0m-755.5 205h0m1091.5 725h0m-110-734.5h0m733.5 372h0m-1683-386.5h0m1082-59.5h0m-321 218.5h0m-834-132.5h0m273.5 239h0m722.5-276h0m432.5-384.5h0m-613.5 254.5h0m210-12.5h0m81.5 725h0m-650 18h0m22.5 49h0m1230.5-266.5h0m-1256.5-158.5h0m950-197.5h0m-912.5 545.5h0m26.5-288.5h0m517 485.5h0m-128.5-949.5h0m180.5 191.5h0m-69 701.5h0m63.5-447h0m-1147.5-177h0m800-482h0m-846 499h0m949-136h0m227.5 747h0m-1100-539.5h0m557.5 105.5h0m475 14h0m-518 239h0m-297.5-399.5h0m-279-54.5h0m703.5-367.5h0m470.5 924h0m267-657.5h0m-274.5 290h0m-172.5-338.5h0m-91-103h0m-108.5 711.5h0m83.5-924.5h0m249.5 1139.5h0m425.5-1117h0m-357 302.5h0m-1087 238h0m-56 10h0m737.5 356.5h0m-467-238h0m-112.5-341.5h0m1049.5-54.5h0m257.5-296.5h0m-1525.5 454.5h0m1298.5 479h0m-976.5-234.5h0m683-417.5h0m202.5 39h0m-395.5-295h0m-675 1039h0m204.5-651h0m-250-48h0m242 161.5h0m245 402h0m-513.5-433h0m676-435.5h0m107.5 194.5h0m-472 640h0m481-621.5h0m-681.5 189h0m724-161h0m392.5 780.5h0m-723.5-147.5h0m676-593h0m39.5 756h0m-6.5-83.5h0m-150.5-380.5h0m-736-482h0m823 804.5h0m-741 27.5h0m696 143h0m-323.5-1194h0m23 381.5h0m131.5-94.5h0m-549.5 328h0m-330.5 520h0m930-790.5h0m-819 337.5h0m968.5 347.5h0m-599-323h0m539-261.5h0m-1105 18.5h0m724 232h0m316-223.5h0m-418.5-317h0m435.5 885.5h0m-815.5-326h0m768-303.5h0m-460.5 573.5h0m665 180.5h0m-640.5-410.5h0m637.5-306h0m-105.5 723h0m-319-1120h0m415.5 1144.5h0m66.5-208h0m-1230-479.5h0m1093.5-58.5h0m-229.5-373.5h0m-767.5 573h0m93-124h0m-235 65h0m1034-137.5h0m-635.5 115h0m368.5-573h0m-528.5 769.5h0m-44-240.5h0m1054.5 468h0m-5 117h0m-1277-632h0m773-487h0m-648 668.5h0m-19.5-36.5h0m154 52.5h0m-153.5-21.5h0m1023.5 73h0m-37.5 441h0m-1020.5-688h0m187 37.5h0m1090-150h0m-1289 93.5h0m860.5 306.5h0m197-58h0m-1028.5-273.5h0m364 607h0m706.5-602.5h0m-552.5 566.5h0m487.5-678.5h0m-1005 93h0m1723.5 424h0m-770.5-435.5h0m-543.5 648.5h0m262-1081h0m230 367.5h0m-304.5 369h0m-318.5 19h0m535.5 36h0m219.5-398.5h0m-153-64.5h0m569.5-228.5h0m-968.5 959.5h0m166-1039h0m19.5 1026h0m169-972.5h0m-873 441.5h0m-33-55.5h0m1201.5 637h0m-639.5-76.5h0m-77.5-328h0m685-250.5h0m-528.5 281.5h0m679 285h0m-1358-494.5h0m274-89h0m646-348h0m-682.5 403.5h0m500.5-447.5h0m72.5 167.5h0m-430 388h0m721-217h0m-621.5 661h0m270.5-1014.5h0m-462.5 765.5h0m1285.5-695.5h0m-1123 511h0m577.5 589h0m34.5-736h0m-19-90h0m-264-277h0m-617 407.5h0m991.5 207.5h0m-505.5 2.5h0m-247-166.5h0m627.5 191.5h0m-814-92h0m808.5 124.5h0m-1017.5-188.5h0m1005-181h0m377.5-32h0m-617.5 685h0m300-599.5h0m98.5-8h0m-318.5-413h0m400.5 995.5h0m-222-678h0m271.5 681h0m291-910.5h0m-386 349h0m-312.5 348.5h0m-613.5-71h0m926.5 490.5h0m-1184-755h0m131.5 110.5h0m1413-498.5h0m-239 335h0m-1324 165.5h0m996 148.5h0m-196-536h0m54.5-64h0m-666.5 373.5h0m868.5-54h0m-73-131h0m-315.5 404.5h0m668 292h0m-507.5 8.5h0m103.5-706h0m-260-131h0m-544.5 264h0m68.5 17h0m1020.5 719.5h0m-290-397h0m-775.5-120h0m1090.5 494.5h0m-948.5-704.5h0m520.5 569.5h0m-398.5-19.5h0m831-546h0m-934.5 331.5h0m-147-274h0m-10 65h0m637-484.5h0m40.5 932.5h0m645.5-561h0m-453 481.5h0m-94-551.5h0m-709.5 221.5h0m-80-3h0m943.5-169h0m-95.5 287h0m167 10.5h0m-1131-233h0m962.5-151h0m-367 755.5h0m188-1115.5h0m409.5 1170.5h0m-74-679.5h0m-208.5 291.5h0m-119.5 251.5h0m-687 126.5h0m228-957h0m-55 579h0m-5.5-58.5h0m974-306h0m26 742.5h0m-1040.5-508h0m-238-38h0m1025-242.5h0m-442 633h0m-329.5-585h0m1066.5-55.5h0m-578-330.5h0m-421 582.5h0m829 611h0m-400.5-1227.5h0m267 948.5h0m129 214h0m59-130h0m47.5 4.5h0m-275.5-300.5h0m146 481h0m0 23.5h0m-519-555h0m-450.5-179h0m22 62.5h0m-88.5 62.5h0m1113.5 413h0m-322-652h0m-479.5 284h0m794.5-248h0m-80 757h0m68.5 25h0m-359.5-533.5h0m-124 35.5h0m461.5-10.5h0m-138.5-249.5h0m-234 575.5h0m-672.5-395h0m227.5 131h0m436-773h0m126.5 424.5h0m-156.5-336h0m173 32h0m272 612h0m-1197.5-191h0m259-105.5h0m957 2h0m-1144.5 29h0m482 212h0m1298 194.5h0m-1485.5-106h0m-321-226.5h0m1317-156.5h0m-205.5 383.5h0m-52-304h0m-314.5-312h0m345.5 248.5h0m-568.5 714.5h0m261-1085h0m219 378.5h0m112 782.5h0m-299-821.5h0m-2.5 655.5h0m382.5 6h0m-289.5-650.5h0m234 79.5h0m276.5 8h0m-607 115h0m703.5-487h0m-1297 671h0m966-353h0m-1098 128.5h0m793 86.5h0m-416.5 460.5h0m210-887.5h0m-719.5 305h0m227 49.5h0m634.5 26h0m-25 454h0m1008-151h0m-1585.5-273h0m1301-532h0m-772.5-30.5h0m9.5 64.5h0m601 304h0m-874 639.5h0m-345.5-581h0m841.5-172h0m-224.5 410.5h0m288-366h0m165.5 848.5h0m-217-801.5h0m-728.5 363h0m747-356h0m-593 217.5h0m287.5-489.5h0m284.5 596.5h0m285.5-359.5h0m-1022.5 431h0m-305-304.5h0m410.5 444.5h0m583.5-639h0m-111-176h0m540.5 338h0m-685.5-425h0m-342.5 915.5h0m796.5-211h0m-788 232h0m928.5-540.5h0m-565-255h0m-434.5 353.5h0m-343.5 55h0m1262.5 614.5h0m-427.5-174.5h0m-405.5-777h0m-28.5 351.5h0m-129-36h0m579.5 476h0m-759-402.5h0m1296-259.5h0m-1055.5 419h0m95.5 223.5h0m-279.5-489h0m123-11.5h0m-129.5 47h0m-131-80.5h0m561.5 524h0m301-865.5h0m-781 481.5h0m59.5-28.5h0m959.5-219.5h0m-298.5-283h0m-179 648.5h0m329.5-307h0m323.5 629h0m-906.5-305.5h0m685 191h0m-291.5-936h0m-3.5 190.5h0m539.5 953.5h0m-1087.5-596.5h0m183-270h0m871.5 735h0m102.5-669.5h0m-406-61h0m445 59.5h0m-163 821h0m-53.5 4.5h0m-424-1057.5h0m-407 643h0m624.5-375h0m250.5 803.5h0m-1009.5-655.5h0m288 547.5h0m365-724.5h0m-813 229h0m682.5-553.5h0m-156 956.5h0m720-611.5h0m499.5 477h0m-1598-233h0m253.5 417.5h0m-139.5-418h0m903 95.5h0m-196 2h0m-1009-106.5h0m380.5 122h0m805.5 288h0m-414-812.5h0m165.5 135h0m-285.5-166h0m190 396.5h0m139-173h0m83.5 792h0m-138.5-1063.5h0m156 321.5h0m-798.5 67h0m624.5 258h0m-873-240h0m955-213h0m-127-182h0m342 216h0m-104.5 820h0m-327-1114h0m151.5 573.5h0m-896.5-165.5h0m615.5 286.5h0m444-383.5h0m196 623h0m-1265.5-428.5h0m237.5 70h0m813-268.5h0m-498 735.5h0m240-1103h0m449 1129.5h0m-337.5-761.5h0m-134-165h0m-79-148.5h0m261.5 1110.5h0m-981.5-695.5h0m1116 722.5h0m-952-607h0m72.5 85.5h0m21.5-131.5h0m388.5-364h0m-278 573.5h0m-133-98h0m933-194h0m-410.5-257.5h0m202 132h0m-781.5 288.5h0m-106.5-30h0m1033-247h0m-617.5 706h0m-220-313h0m1058-362h0m-71 827h0m-106-488.5h0m-1095-159h0m673-516h0m-722.5 404.5h0m1093.5 12h0m-596.5 619h0m478.5-773h0m183 93.5h0m-19-94h0m-774 424.5h0m-247-130.5h0m178.5 200h0m182-127.5h0m-356-85h0m-25.5-116.5h0m470 269h0m-543.5-247h0m939.5-91.5h0m37 311h0m-249-525h0m51.5 830h0m-767.5-495.5h0m-8 6h0m992.5 650.5h0m98-441.5h0m-999.5-124h0m-61-15h0m1446-474h0m-1464 452h0m302.5 200h0m58-201.5h0m277-390h0m579 1027h0m-1-823.5h0m-129.5 778h0m-537-474h0m164 352h0m-19.5-1032.5h0m55-13h0m378 1213.5h0m-1125.5-712h0m976 233h0m-395-40.5h0m337-420h0m337 100.5h0m268-282h0m-1583.5 422.5h0m779-516h0m-722.5 582h0m1056.5 621.5h0m-1096-697h0m45 9.5h0m894 130h0m-929-148.5h0m1298.5 524h0m-448.5-667.5h0m-555 454.5h0m-63.5-256h0m478.5-388h0m-584 411h0m1678 295h0m-1041 162h0m608-661.5h0m427 491h0m-1543-419.5h0m-211 143h0m721.5-459.5h0m-224.5 978h0m434.5-480.5h0m-715 60.5h0m-66.5-84h0m965.5 635h0m-397-1090h0m284.5 303h0m-875.5 94h0m760.5 98.5h0m214-174.5h0m277-67h0m-617.5-380.5h0m-662.5 457.5h0m-112.5 15.5h0m890-109h0m892.5 500.5h0m-1825.5-287.5h0m290 197.5h0m1263-719.5h0m-336 1128.5h0m-749-534h0m330-643h0m481.5 985h0m-126-532.5h0m-436 252h0m-674-208.5h0m707.5-303.5h0m-422 296h0m77.5 404h0m802.5-451.5h0m-1127.5 183.5h0m1057-247.5h0m166.5 52.5h0m-403-124h0m94.5 431h0m62.5-439.5h0m-50-28.5h0m-38.5 83h0m103-36.5h0m200.5 119h0m-673.5 573h0m-552.5-435.5h0m1013-259h0m-455.5 434.5h0m-354-19.5h0m925.5 439h0m-1178-612.5h0m1152.5 627h0m-1097.5-558h0m441.5 418h0m951.5-653h0m-1257 139.5h0m1331-432h0m-701 890.5h0m351-547.5h0m-550.5 232.5h0m-478.5-224.5h0m242.5 200h0m-317-173.5h0m496.5 610.5h0m480.5-370h0m428.5-338h0m-873.5 648h0m-306.5-301h0m718.5-34h0m-376 34h0m-510 408.5h0m155-543h0m747.5-277.5h0m141 874h0m238.5-826h0m-327.5 65h0m-481.5 530.5h0m192-796h0m724.5 300h0m-1413 169h0m27.5-164h0m946.5-41.5h0m752 441h0m-292.5-795h0m-1494 528h0m929.5 29.5h0m-271 47.5h0m-376.5-73.5h0m-107-185h0m-181.5 75.5h0m1767.5 345h0m-1021-853.5h0m106.5 596h0m-676.5-160.5h0m-175.5 188.5h0m1551.5-540h0m-840-64.5h0m365 376.5h0m68 72h0m-375 571.5h0m339 60.5h0m24-88.5h0m-789.5-37.5h0m800.5 205.5h0m-267-834h0m-86.5-267.5h0m109.5 314.5h0m423.5-10.5h0m-74 723h0m3.5-732h0m289.5-276h0m-9-20.5h0m-345 949.5h0m-1068-464h0m660-347h0m450.5 803.5h0m-1073.5-445h0m715.5-275.5h0m-663.5 125h0m213 59.5h0m333 534h0m790.5-935.5h0m-1417.5 494.5h0m-183-48h0m1112 427.5h0m-21-517h0m-1027.5 44h0m699.5-451.5h0m152.5 283.5h0m500 187h0m-1064 112h0m642-319.5h0m78 886h0m126-452h0m-31.5-267.5h0m-978 210h0m-119-105h0m1025.5-234h0m-175.5 60.5h0m179-8.5h0m-545 714.5h0m639-13.5h0m-49-653h0m-237.5-73.5h0m98 250.5h0m-872-148.5h0m665 567.5h0m-481-394.5h0m151.5 396h0m456.5-423.5h0m52.5-285.5h0m-305-144h0m-641 428h0m791-394h0m-518 427h0m-96.5-8.5h0m116.5 163.5h0m239-119h0m-506-84.5h0m-37.5 35h0m360.5 129.5h0m-124-294h0m766-269h0m-244.5-94h0m-575 573h0m209 59.5h0m496 64h0m-828.5-324h0m184-245h0m826 146h0m-670 354.5h0m888.5 306h0m-32.5-624.5h0m-53 336.5h0m17-321h0m-313 365.5h0m-327 240h0m532-592.5h0m113 755h0m-280.5-907h0m483.5 82.5h0m-75 636.5h0m-371-267h0m154.5 509.5h0m-57-786h0m-250-396h0m-454.5 905.5h0m1182.5-867h0m-627 198h0m-33.5 305.5h0m323-159.5h0m-74.5 3h0m-177 181h0m184.5 612.5h0m-212-460h0m51.5-446h0m-795.5 236h0m1048.5 513h0m-1157-458.5h0m1096.5 128h0m-281.5 38h0m-585.5-4h0m76 206h0m421.5-847h0m322.5 1056h0m59-5h0m1.5 31.5h0m-1136-694h0m405 521.5h0m692-612.5h0m-211.5-329.5h0m-4 220h0m196 54h0m-1130 141h0m745.5 194.5h0m293.5 7.5h0m123.5 440h0m-1050.5-725h0m1602 412.5h0m-130.5-769h0m-1236.5 121h0m696.5 217h0m-980 232.5h0m648.5-609.5h0m64.5 983.5h0m672-585.5h0m-511.5 190.5h0m381 363.5h0m-932-258h0m367.5-744.5h0m183 744h0m-28.5-431.5h0m-3-248.5h0m229 1104.5h0m-175.5-844h0m195.5 158h0m-210-124h0m170 44h0m-166 36.5h0m-205-426.5h0m-595.5 518h0m-65.5 68.5h0m263.5-60.5h0m233 485h0m649.5 203h0m-79-826h0m102 793.5h0m-228-868h0m-265.5 413.5h0m279-370h0m-619 216h0m710 106.5h0m-346.5 77.5h0m-705.5-158.5h0m-89.5-63h0m640.5 215h0m377.5-439h0m-57.5 81h0m392-49.5h0m-962 583.5h0m77 103h0m79.5 53h0m404-821h0m-909.5 343h0m1086.5-227.5h0m-600 683.5h0m1043-978.5h0m-841.5-74.5h0m250.5 713.5h0m-593-176.5h0m695-122.5h0m122 684.5h0m380-1023.5h0m-927.5 616.5h0m-291-136.5h0m792 122h0m-218.5-268h0m-818.5 46h0m1002.5 678h0m-918-660.5h0m1346.5-413.5h0m-1202.5 664.5h0m901.5-311.5h0m-1099.5 156.5h0m64-43h0m-159-114.5h0m929-319.5h0m-70 3.5h0m207 1062h0m-785.5-475.5h0m-151-254.5h0m-145.5 198.5h0m146-183h0m461 274.5h0m-22 35h0m-449.5-200h0m423.5 537.5h0m405.5-368.5h0m4.5-446.5h0m-814 169.5h0m133.5 218.5h0m46-383.5h0m503 78.5h0m-48-211h0m-753.5 363h0m857 101h0m-710.5 28.5h0m987-210h0m-394.5 585.5h0m-82.5-312h0m-464-8.5h0m727-265.5h0m277 730h0m-530-1163.5h0m498 1113h0m638-270.5h0m-1635-215h0m939 490h0m-670-405.5h0m694 304.5h0m-909-243.5h0m-238-138h0m574.5 65.5h0m115.5 299h0m699-633.5h0m121.5-293h0m-802.5 939.5h0m362 191.5h0m-880-665.5h0m853 491h0m-734.5-297.5h0m1152.5-629h0m-1422 406h0m683-495h0m470.5 384.5h0m-374.5-305h0m391.5 347.5h0m-327.5-73.5h0m174.5 783.5h0m104.5-713.5h0m-764 596.5h0m549-608.5h0m148.5-17h0m-20.5-54.5h0m79.5 871h0m-179.5-518h0m149 373.5h0m-156.5-626.5h0m-949.5 42h0m1016-45.5h0m-95.5-98.5h0m389.5 9.5h0m-1354.5 210.5h0m1230.5 619h0m580.5-331.5h0m-1524-388.5h0m59-235.5h0m886 126.5h0m-348-55.5h0m-72.5 689.5h0m75-914h0m-628 532h0m1004 547.5h0m-893-202h0m521.5-205.5h0m235.5-57.5h0m-351-701h0m-789.5 571.5h0m735.5-488h0m-27.5 601.5h0m35.5-667.5h0m-513 476.5h0m1219.5-62.5h0m-1359.5 154h0m1021.5 596.5h0m152 3.5h0m-232.5-744.5h0m-934.5 95h0m-39.5-42.5h0m967.5-35h0m-757 272h0m1271-291h0m-1547 175h0m137-81.5h0m821-377.5h0m-134 842h0m-396.5 37h0m815 154h0m-1137-630h0m1242-195h0m-581-179.5h0m-505.5 281.5h0m126.5 464.5h0m754-205h0m-732.5 297.5h0m976.5-518h0m-269.5-162h0m-215 268.5h0m-601 161.5h0m755.5 157h0m-895.5-454.5h0m1106 706h0m-1119-732h0m1187 538.5h0m-1207-471.5h0m856.5-139h0m-396 623h0m706-630h0m-17.5-11h0m-481-205.5h0m1017.5 702.5h0m-665 315h0m-554.5-205h0m-401-369h0m1256.5-173h0m-537.5-117h0m-77.5-263.5h0m-729 541h0m-102.5-104h0m904.5 291.5h0m160.5-475h0m-759 473.5h0m788 455h0m-226-646.5h0m-121-459h0m-25-85h0m1079 808.5h0m-637-494h0m-120 75.5h0m417-39.5h0m-262.5 828h0m-609-220.5h0m843.5-595.5h0m-1275 261h0m1145.5-280.5h0m-429.5-236h0m422.5 1008h0m-1263-518h0m1113 97h0m143-303h0m-157 754h0m-214-416h0m-860-338h0m449.5 249h0m147-494h0m535.5 834h0m70 32h0m-1249.5-461h0m911-293h0m-111.5-141h0m-339 891.5h0m-398.5-603h0m1112.5 778.5h0m-126-773.5h0m-408.5 252h0m-340.5-91h0m358.5-430.5h0m441.5 555.5h0m169.5 414.5h0m-1155-526h0m969-164.5h0m-316-267h0m-115.5-32.5h0m-85.5 505h0m536-178h0m700 365.5h0m-1026.5 173.5h0m154.5-638.5h0m310 650.5h0m318.5-959h0m-821-72.5h0m-684.5 571.5h0m850.5-300.5h0m104 430.5h0m-494 391.5h0m473.5-713.5h0m-405.5 663.5h0m297-460.5h0m-612.5 150.5h0m813.5 174h0m-852-335.5h0m1298-502h0m-472.5 313.5h0m-977.5 72.5h0m711 544h0m21.5 0.5h0m-575-272h0m797.5-2.5h0m-82 10h0m95-333.5h0m87.5 294h0m-424-523.5h0m296 217h0m-417 321h0m60.5 40.5h0m-335-44h0m598.5-660h0m265.5 385h0m-397-430.5h0m299.5 396.5h0m-344.5 627.5h0m-404.5-827.5h0m757.5 512.5h0m-252.5 288.5h0m-1.5 15.5h0m677.5-951h0m-904 695.5h0m650.5 325.5h0m-451-422h0m321-196h0m399-401h0m-598 562.5h0m-32.5-16h0m482.5-240h0m-1336 248h0m149-138h0m583-439.5h0m-74.5 660h0m492.5 505h0m-606.5-499.5h0m-331.5-288h0m1567.5 438.5h0m-1182-115.5h0m-271 202h0m772-565.5h0m-242-4.5h0m118.5 357.5h0m-36.5-15h0m-66-442.5h0m215 115h0m-571 626.5h0m-538.5-499h0m1075.5-217.5h0m159.5 704h0m-262-591.5h0m-819 207.5h0m86-102.5h0m318.5 459.5h0m162.5-837h0m-452.5 617h0m1208.5-288h0m-1221.5 234.5h0m-246-137h0m784 103.5h0m139-308h0m69.5 359.5h0m-100-98h0m-877.5 8.5h0m403.5-13h0m477-293h0m-821.5 153h0m822.5 278h0m-45.5-364h0m-510-138.5h0m547.5 148.5h0m-807 96.5h0m921.5 430.5h0m-872-301h0m394.5 463.5h0m480.5-728h0m-512 629h0m1342-148h0m-1125-770h0m446 1096h0m-326-1142h0m-284.5 965h0m-346-358h0m-201.5-222.5h0m158.5 273.5h0m539 340h0m-331.5-32h0m-286-507h0m465.5 483.5h0m-599-391h0m261-174h0m686.5-140.5h0m-777 323h0m106-8.5h0m-204.5-155h0m856-73.5h0m145.5 570.5h0m81.5 276h0m-987.5-558h0m-100-49.5h0m1376-144.5h0m-1371 0h0m675-407.5h0m382 1162.5h0m-701-194.5h0m788 148.5h0m-251.5-740.5h0m-430 242h0m1046.5-573h0m-550.5 269h0m-787.5 151h0m76 210h0m435-523.5h0m-343.5 517.5h0m340-683.5h0m147.5 272h0m122 865h0m-299-453h0m-540-142h0m914.5-118.5h0m-588 295.5h0m542-302h0m45 19.5h0m-261.5 545h0m-558-446.5h0m-204-43.5h0m1231.5 476.5h0m266-907.5h0m-135.5 305.5h0m-504 15h0m368-59.5h0m-382.5 259.5h0m247-161.5h0m-299-126.5h0m697-247.5h0m-639.5 298h0m-667.5 334.5h0m1593 143.5h0m-1842.5-366h0m1158.5-21h0m-995.5-8h0m770-40h0m92.5 20h0m122 286h0m6.5 326h0m-533.5-308.5h0m-52.5 278h0m12-40h0m179 55.5h0m410-353.5h0m-765-444h0m-215.5 220.5h0m1222.5-72h0m-113.5 772h0m-245.5-446h0m-27-345h0m127.5 323h0m393.5-229h0m-939.5 646.5h0m-160.5-642.5h0m45 193.5h0m246 370h0m304.5-596.5h0m-779 283.5h0m592-371h0m426.5 649h0m-133.5 71.5h0m-212-725h0m307.5 883.5h0m-324-442.5h0m-689-74.5h0m661-603h0m-856 428h0m1258.5 612.5h0m-116.5 47.5h0m-23-730h0m681.5 396.5h0m-650.5 154h0m-1051.5-472h0m522.5-377h0m594 835.5h0m106-5h0m-1248-494.5h0m-10 31.5h0m367.5 526h0m587-714h0m102 845h0m350.5-708h0m-1408 149.5h0m1012.5 285.5h0m-927.5-253.5h0m457 53.5h0m950-641h0m-399.5 633h0m-441-649h0m-629 532h0m1708.5 289.5h0m-1220.5 220.5h0m-554.5-603.5h0m827-145h0m183.5 72h0m-92 14h0m-979 161h0m1071.5-256h0m37 134h0m11.5 3h0m313.5-61h0m-1045-126.5h0m689 179h0m-139-114h0m60.5 72.5h0m192.5 752h0m-1177.5-742h0m1008.5-128.5h0m-6.5 104h0m-978.5 101h0m1179 498.5h0m124.5-15h0m-448-690.5h0m-686 189h0m495.5 186h0m48.5-686.5h0m437.5 1169h0m-1074.5-644.5h0m724 479h0m1004-128.5h0m-802-566h0m-204 719h0m-23.5-967.5h0m272.5 1114h0m-1016-714h0m1218 718h0m-234-467.5h0m182 508.5h0m-290.5-445h0m-667.5-178.5h0m1004.5 434h0m-1240.5-509.5h0m6-88h0m1088 804.5h0m-253-631.5h0m-436.5 431h0m801-629h0m-1239.5 159.5h0m1295.5 532.5h0m-573.5-402.5h0m284 20.5h0m-922.5-191.5h0m358.5 219.5h0m-315.5-265.5h0m289.5-15.5h0m-122 266.5h0m157.5-212h0m-296 109h0m927 410h0m-133-613h0m-863 71.5h0m170.5 202h0m985.5-303.5h0m-346 386.5h0m-299 239h0m-549-384h0m867-235.5h0m305.5 814.5h0m-936.5-438h0m-126-250h0m342 544h0m285.5-38.5h0m-562-489h0m721 85h0m496.5-176.5h0m-463-135h0m-871.5 128.5h0m1734 405.5h0m-1709.5 305.5h0m1011-466h0m-772 1.5h0m887.5-321.5h0m11.5 672h0m-647.5 7.5h0m821-666h0m-392.5 334h0m-608.5-250.5h0m-287.5 36h0m596-468.5h0m-676.5 502h0m795-177.5h0m-20 652.5h0m713-928h0m-677.5 230h0m-210.5-132h0m475 994.5h0m-67-813.5h0m735 496h0m-632-174.5h0m-734.5 365.5h0m672 135h0m-542-168.5h0m399.5-750.5h0m106.5 183.5h0m152 662h0m-618-374.5h0m392-414h0m-547.5 717h0m557-755h0m-782.5 427.5h0m492-8.5h0m443 470.5h0m-80-0.5h0m82.5-752.5h0m-440.5 299h0m-585.5-47.5h0m64.5-200h0m853.5-31.5h0m-900 83h0m1058.5 522h0m-8.5 130h0m-432-1143h0m123.5 259h0m-181.5 408h0m-612.5-260.5h0m164 121h0m-229-49h0m287 216.5h0m-47-183h0m146.5 25.5h0m31 492.5h0m597.5-692.5h0m-221 648.5h0m436 79h0m-1227.5-501.5h0m672-573.5h0m-303.5 989h0m1398-147.5h0m-669.5 199h0m-750.5-102h0m803.5-252.5h0m-145-260h0m74.5 726h0m-1085-743.5h0m55.5 182.5h0m708 407.5h0m225-82h0m-1034.5-418h0m656.5 230.5h0m158-660h0m-539 585.5h0m1257-605.5h0m-573.5 268h0m-696 363h0m529.5-495h0m299 268h0m-482 611h0m518 81.5h0m195.5-790.5h0m-336 66h0m-298 266h0m119-674h0m160.5 60h0m-163.5 935h0m-204 16.5h0m150.5-296h0m-496.5-341h0m431 295h0m-520.5-178.5h0m-132-92.5h0m932-59.5h0m113 380h0m61.5-291h0m184.5-69.5h0m-165.5 348.5h0m-309-731h0m261 1032h0m-1099.5-481h0m1223.5 609.5h0m-763-692h0m465 290.5h0m63.5-462.5h0m20.5 105.5h0m-915 133.5h0m825-173.5h0m400.5 620.5h0m-1205-376.5h0m768.5-580h0m55.5 391h0m-841 101h0m414 154h0m-262.5-258.5h0m827 749h0m-648.5-136h0m453-689h0m-887.5 278h0m829 373h0m-644-338h0m-127-16.5h0m1007.5-266h0m-1018.5 52h0m1675 423.5h0m-238.5-462h0m-1385 259h0m123.5-22.5h0m286 32.5h0m-259.5-113h0m742.5-170h0m-364 385.5h0m173-73.5h0m448-234h0m25.5 588.5h0m-503.5-300.5h0m290.5-369.5h0m346.5 0h0m-1371.5 127h0m150-16.5h0m824 458.5h0m-442 153.5h0m-227-497h0m1208.5-518h0m-561.5 1083.5h0m-335.5-1010h0m202.5-66.5h0m1019 773h0m-1010-535h0m586 130h0m-996 15h0m640 271h0m-1095.5-142h0m239 34h0m590.5-526.5h0m-633 458.5h0m403 545h0m599.5-65h0m-865-442.5h0m-185.5 536.5h0m1054.5-689h0m-616 560.5h0m-495.5-447.5h0m961.5-187h0m-1070.5 139.5h0m131 80.5h0m729.5 79h0m-798-237h0m656.5 301.5h0m435-301h0m-109.5-126h0m39 424.5h0m-34-359h0m-882 232.5h0m-121-108h0m871-418.5h0m-661 401h0m545 527h0m277-610.5h0m187 702h0m-651.5-125h0m678-576.5h0m-152.5 303h0m-1016-194.5h0m1047.5 704.5h0m301-829.5h0m-1264 158h0m775-129.5h0m-563-187.5h0m399-210.5h0m101.5 355.5h0m17-270h0m290 963h0m9.5-353.5h0m52 465.5h0m-506.5-173h0m-386.5-49h0m628.5-533h0m-1009.5 32.5h0m124.5 2.5h0m839.5-151.5h0m-526.5 709.5h0m839 7.5h0m-1129.5-429h0m63 99.5h0m-217.5-122.5h0m29.5-140.5h0m874.5-267.5h0m3.5 435h0m37-536h0m99.5 662.5h0m-141-425h0m-20 272h0m407.5-187.5h0m-1144.5 56h0m340 210.5h0m-209-26h0m364 89h0m424 35h0m-917.5-192h0m784.5-141.5h0m-329 590.5h0m603.5-580.5h0m-771 40.5h0m-142.5 242.5h0m1246.5-630.5h0m-397.5 317h0m-1136 73h0m738.5 242h0m85 285h0m-494-476h0m914-94h0m-487.5 276h0m452 511.5h0m-1070.5-612h0m1009.5 106h0m-892-485.5h0m-144 239h0m493.5 509.5h0m536.5-547.5h0m41.5 789h0m-1173-743h0m250.5-58h0m668.5 205h0m647-544h0m-343 1020.5h0m98.5-85.5h0m-393.5-878.5h0m219.5 623h0m-698.5 287.5h0m303.5-996.5h0m-639 543h0m931-128.5h0m28.5 251h0m-483 324h0m500.5 166.5h0m-872-622h0m-151 65.5h0m129-102.5h0m301.5 537.5h0m664-327h0m-524-1h0m600.5 396.5h0m-1066.5-553.5h0m430 439.5h0m799-671.5h0m-274 47h0m-339.5 611.5h0m466 69.5h0m-349-672.5h0m-756 161.5h0m996-269h0m-413.5-155.5h0m-219.5 930h0m-401-629h0m804.5-385.5h0m-633.5 628.5h0m828.5-309h0m-328.5-184.5h0m299.5 215h0m-641 600h0m642-568h0m-318-444h0m251.5 298h0m-288-294.5h0m271 266h0m-979.5 225h0m966 233h0m-606.5 203h0m372-895h0m-50 658h0m-260.5 339h0m740 96h0m-1131-595h0m602 176h0m245-354.5h0m299 820h0m-317-862.5h0m160.5 621h0m-959-448.5h0m1467-419.5h0m-730.5 20.5h0m345.5 1112h0m107.5-103.5h0m-180.5 114h0m-3-750.5h0m724.5 405h0m-592.5-419.5h0m-569.5-280h0m344.5 282.5h0m304 657.5h0m-672-392h0m1180 155h0m-1309-209h0m494.5-277h0m-498.5 604.5h0m495-544h0m-399.5 665.5h0m246-972h0m-707.5 436h0m-14 25.5h0m-54-184h0m848-124.5h0m135 163.5h0m-1016 70h0m801.5-385h0m345.5 338h0m-64-51.5h0m-875.5 77.5h0m938.5 704.5h0m-203.5-458h0m-13.5-407.5h0m-889.5 220h0m1090 635h0m-219-564h0m-140.5 370.5h0m474.5 84.5h0m-141-617.5h0m-392.5-472h0m-530 696.5h0m1602.5 160.5h0m-632-134.5h0m-387.5 290h0m-429.5-262h0m1089-388.5h0m-176 20.5h0m-62 68h0m-1070.5 58h0m-120 36h0m296-72.5h0m860-122.5h0m-249.5-293h0m463.5 294.5h0m-904 708h0m1005.5-586h0m-901.5 548.5h0m299-429.5h0m-306 128h0m-460.5-168.5h0m1021 134h0m-1020.5-52h0m1114.5 587h0m-475-192.5h0m264 140h0m-769-718h0m-135 18.5h0m1409-390.5h0m-710 937.5h0m126.5-704.5h0m-913 304h0m1143 597h0m-756-191.5h0m98 53h0m1367.5-219h0m-928.5-455h0m-379.5 593h0m20-310h0m376.5-311h0m108.5 31.5h0m-229-35h0m-613 268.5h0m-258.5-114.5h0m163 24.5h0m1217-95h0m-387.5-34h0m99 755h0m-1059.5-554h0m511.5 386h0m451.5-663h0m200.5 360.5h0m-773-12.5h0m-340-42h0m1447.5-544.5h0m-484.5 108h0m-601.5 792h0m-39-270h0m856.5-340h0m-1230 241.5h0m79-126.5h0m656-393.5h0m-500 515h0m762.5-187.5h0m-238 579h0m1089-160h0m-730-397h0m103 745h0m600-358.5h0m-1068.5-795h0m-331.5 895h0m457.5-573h0m-451.5 92.5h0m-278.5 179.5h0m125 128h0m814.5 267.5h0m-302-1036h0m-720.5 642.5h0m672-632h0m-609 440.5h0m935 281.5h0m-680.5 260.5h0m1170.5-907h0m-1047.5 961.5h0m236.5-32h0m51.5-361.5h0m329.5-299h0m-313.5 659h0m-427-35.5h0m849.5 34.5h0m-22 163h0m-567-471h0m-504.5-245.5h0m217.5-202h0m1451 587h0m-652.5-410.5h0m-587 664.5h0m-569.5-661.5h0m166-0.5h0m374.5 660.5h0m56-421h0m416-359h0m-300 709.5h0m-544.5-489.5h0m1127 468h0m-112-309h0m-52-221h0m25.5-58.5h0m-649.5 607.5h0m432.5-681.5h0m68 36.5h0m-803 54h0m1286-327.5h0m-514.5 278h0m124 804.5h0m-997.5-578.5h0m337 29.5h0m780 344h0m-936.5-210.5h0m318.5-19h0m-463.5-119.5h0m1113.5 351.5h0m-1058-407h0m696-194h0m-500 621h0m866 85.5h0m-249.5-354h0m83.5-276h0m133.5 592.5h0m-237.5-785.5h0m281 883h0m-1290.5-584h0m138-63.5h0m921.5 422.5h0m-456.5-166h0m384.5-411h0m-80.5 415.5h0m-860-246.5h0m1055.5-215h0m194 709h0m-1128.5-459.5h0m290.5 467.5h0m-465.5-539h0m843.5 514.5h0m242-596h0m85.5 785.5h0m-807.5-599h0m-331 36.5h0m1084 548.5h0m-875-534h0m699-303.5h0m-30 438h0m-911.5-300h0m86.5 1h0m294.5-198h0m826 406.5h0m-54.5 63.5h0m17.5-57.5h0m-86-285.5h0m-480 672.5h0m135.5-1053h0m272 1140h0m-407.5-481h0m424-388h0m-78.5 62h0m-836 179.5h0m950-256h0m-781.5 460.5h0m-206-252h0m72 49h0m31-16.5h0m0-81h0m734-147.5h0m-512.5 212.5h0m671-173h0m-1070 223.5h0m627.5 538.5h0m-598.5-555h0m1092.5-176h0m-699 625.5h0m686.5-291h0m-56-295.5h0m-30 294h0m417.5-250.5h0m-1443.5 1h0m314 164h0m469-551.5h0m-516.5 633.5h0m1585 173h0m-1099-829.5h0m496.5 993.5h0m191-580h0m-1307 120h0m1042-108h0m-568 261.5h0m142-666.5h0m17 22.5h0m533 1091.5h0m-274-433.5h0m208.5 428h0m-237.5-793h0m-510 204.5h0m111.5 440.5h0m305.5-693.5h0m156 76h0m-61-90.5h0m146 153h0m-104.5-7h0m-467 636h0m-364-610.5h0m728-94.5h0m-27 211h0m307 480.5h0m57.5-638.5h0m-1182.5 196.5h0m662 71.5h0m-127.5 28.5h0m318-616.5h0m585.5-16h0m-428 269h0m-948 246h0m1414-181h0m-989.5 624.5h0m518.5-754h0m-645 701h0m-399.5-581h0m359 524.5h0m727 251h0m-308-1156h0m208.5 624h0m119-221h0m-906.5 182h0m215-31h0m550-158h0m-951-12.5h0m484 582.5h0m233-1032.5h0m-185 694.5h0m545.5 56.5h0m-375.5-544h0m411.5 273h0m-883 236.5h0m-200.5-198h0m328 54.5h0m40 459h0m1371-178.5h0m-1580-168.5h0m83.5 107h0m48 176.5h0m343-927h0m230.5 253.5h0m283 137h0m-344.5 361h0m22.5-633h0m-789 313h0m-70.5 96.5h0m543 537h0m383-359h0m66.5 435.5h0m-776.5-534h0m755 25.5h0m-298.5-466h0m-264.5 363.5h0m-208-44.5h0m-42 96.5h0m371.5 389h0m-300-311h0m509 6.5h0m562 295h0m511.5-132.5h0m-1446.5 110.5h0m731.5 3h0m-210-855h0m-822.5 394.5h0m755-475h0m229 1005.5h0m-667-487h0m713.5-188h0m25.5 368.5h0m15-289.5h0m-319-117.5h0m-667 242.5h0m1145.5-221h0m-1214.5 182.5h0m-136.5 45.5h0m1038-144h0m65 605.5h0m418-566h0m-361.5 710.5h0m-1072.5-745h0m-2.5 117h0m691 141.5h0m517.5 417.5h0m-431-995h0m-815 342.5h0m757.5-413h0m20.5 967h0m377-616.5h0m-610 599h0m154-257.5h0m404-60.5h0m716.5 171h0m-1407.5 169.5h0m415.5-677h0m-875 203h0m1161 665.5h0m-100-278h0m-398.5-773.5h0m334.5 182h0m846 523.5h0m-1398-307.5h0m-446.5-17.5h0m523 519.5h0m-509.5-453h0m22.5-146.5h0m442.5 15.5h0m480.5-77h0m-358 364h0m184.5-687h0m563 370h0m-529.5 554.5h0m-774-409h0m171.5-74.5h0m-225 37h0m1049-354.5h0m-784.5 397.5h0m849-125.5h0m-364.5 270h0m499.5 262.5h0m-20 213.5h0m309-744.5h0m-1404 39h0m538.5-323h0m-670 353.5h0m1003-274h0m-687.5 524h0m244.5-104.5h0m-89 351h0m401-933.5h0m-195 54.5h0m483.5 1030.5h0m121-738.5h0m275-387.5h0m-1540.5 435.5h0m77.5-59.5h0m537 319h0m517-3h0m-221.5-153.5h0m-2.5-531h0m258.5 969.5h0m-640 25.5h0m-367-407.5h0m499-470h0m373.5 544h0m-11-277.5h0m-589 95h0m492.5-277.5h0m935.5 586.5h0m-735-433h0m-1039 43.5h0m327 548.5h0m635-662h0m-447 657.5h0m190-868.5h0m149 481h0m79.5-223.5h0m-674.5 357.5h0m791-32.5h0m-974.5-99.5h0m214.5-63h0m323 177h0m-190-75.5h0m-94 322h0m813.5 175h0m-466-1153h0m450 692.5h0m-600 57h0m-365-199h0m295.5 534h0m623.5-357h0m-1107.5-288h0m230 340.5h0m1001.5 232.5h0m-100-630h0m-713 263h0m-395.5-110h0m569.5 182h0m511 6h0m-1150.5-222h0m1214.5-115h0m-1073.5 242.5h0m659.5-599.5h0m-212.5 958h0m-474-502.5h0m975-35.5h0m-465 287.5h0m569.5-35.5h0m-1027.5-65h0m804.5 110.5h0m-688.5-21.5h0m1221-617.5h0m-733.5 902h0m170.5-679.5h0m303 871.5h0m-275-839h0m-706 319.5h0m358 70h0m419-407.5h0m-997.5 60h0m-18 116h0m-1-55.5h0m860.5 309.5h0m-846.5-304.5h0m677-314.5h0m-552.5 444h0m-41 537.5h0m-53-552h0m1099.5-188.5h0m-160 325.5h0m-788-88h0m818-338h0m-984 150h0m662.5 571.5h0m386.5 199h0m218-227.5h0m-932-476.5h0m750 566.5h0m-189-752.5h0m-126-286h0m-383.5 532h0m-360.5 47.5h0m1190.5 535h0m-185.5-700.5h0m-365-419h0m-395.5 559.5h0m1507.5 257.5h0m-677 306h0m-893-433.5h0m-110-267h0m642.5 541h0m436 30.5h0m-1052-593.5h0m1061-67h0m-313.5-247h0m96.5 584h0m-255.5-515h0m371.5 1018h0m-941.5-752h0m1064.5 702h0m-1182-558h0m1041-231.5h0m-903.5 187h0m-174-98.5h0m1117.5 224h0m387-633h0m-498.5 284h0m-262.5-364h0m440.5 428.5h0m507 441.5h0m-476-402h0m-295 282h0m-608-62h0m46-441h0m105.5 856h0m-530-486.5h0m578 489h0m128.5-381.5h0m-111.5 268.5h0m-425.5-308h0m900.5-271.5h0m-896.5 98.5h0m874.5-123.5h0m-886.5 148h0m1051 193.5h0m-286.5-96h0m-54-46h0m-740.5-29.5h0m826.5-128.5h0m-690.5 308h0m1566 123.5h0m-1805.5-281.5h0m376 169.5h0m1438.5 130h0m-278.5-408h0m-462.5-18h0m-389.5 246.5h0m34-499.5h0m-400 489.5h0m-50 103h0m-205.5-240h0m974.5 187h0m-854-96.5h0m972-218h0m-64.5 52h0m36.5 239.5h0m747 158.5h0m-840-459h0m-21-201.5h0m-754.5 263h0m657.5 316h0m891 93.5h0m-529.5 137.5h0m-150.5 163h0m403-1091h0m-650.5-38h0m456.5 327.5h0m-384 235h0m198 90.5h0m68-237h0m-465.5-430h0m-639 554.5h0m-58.5 3h0m433 76.5h0m386-75h0m686.5-503h0m-428.5 1105.5h0m-687-176h0m329-1014h0m497.5 1092.5h0m-467-70h0m-340 36.5h0m10-400.5h0m68.5 341.5h0m278.5 6.5h0m-171.5-826.5h0m-361 549h0m549-43.5h0m96.5-350.5h0m-32 51.5h0m68.5-268h0m-103.5 665.5h0m-604-68h0m-192-269h0m1498-356h0m-1206.5 497.5h0m615-211h0m-987.5 71.5h0m1268 765h0m-809.5-549.5h0m432-541.5h0m-213.5 59.5h0m518 559h0m-75 418h0m8-440h0m-960.5-112.5h0m582-578h0m178 381h0m-546.5 555h0m1141.5-891.5h0m-1396.5 411.5h0m1236.5-101.5h0m-986 289h0m808.5-313.5h0m-608.5 408.5h0m503.5-374.5h0m-54.5 7h0m-755 20.5h0m431.5 284h0m396-222h0m-147.5 132h0m-61-286.5h0m-385 751h0m392-476h0m273.5 118h0m-174.5-445h0m256 167h0m558 404.5h0m-275.5-765.5h0m-715.5 52.5h0m-85.5 902.5h0m1100-159.5h0m-1336 205h0m665.5 128.5h0m-911-588.5h0m1074-181h0m-1181 136h0m973.5-125.5h0m136.5 595h0m-79-344h0m-548 56.5h0m517.5 322h0m-747.5-169h0m-184.5-433h0m195.5 231.5h0m25.5 330.5h0m691-557.5h0m-740.5 493.5h0m586.5-592h0m-718.5 187.5h0m1307.5-498h0m-547 110.5h0m-628.5 752h0m1447.5-66.5h0m-922.5-256.5h0m263.5 578.5h0m-17.5-485h0m-560-28.5h0m-88 369.5h0m211-1017h0m213 239.5h0m-88 730.5h0m-548-211h0m281 309.5h0m617.5-380h0m-407.5 295.5h0m451.5 5.5h0m-36.5 183h0m-525-160.5h0m528-575h0m125-120h0m-806 749.5h0m60-386h0m478.5-241.5h0m-299-471h0m-428 733.5h0m811-263.5h0m-985 163h0m1030.5 63h0m-1055.5-171h0m1024 676h0m215-815.5h0m-493.5-63.5h0m-780.5 314h0m1052.5 110h0m-282-702.5h0m405.5 336h0m-677 330h0m435 7h0m-25-385h0m-105 276h0m-59-573.5h0m-784.5 381h0m613.5-223.5h0m-374 594h0m188 268h0m499-739.5h0m117 144.5h0m-147.5-326.5h0m-724 403.5h0m131.5 207h0m-182.5-189.5h0m-27 84h0m1671.5 209h0m-9 7.5h0m-1727.5-267h0m453.5 461h0m321.5-471.5h0m-510-68h0m562 114h0m-915.5-70h0m735.5 167h0m456 499h0m-517-538h0m571.5 488h0m-33-167h0m-332.5-415h0m-794-49.5h0m1158 639.5h0m-681.5-70.5h0m342.5-493.5h0m-562.5 140.5h0m153.5 0h0m-332.5-90h0m865.5 80.5h0m81-275h0m24 21.5h0m-344.5-447h0m-351.5 993.5h0m-357-394.5h0m744.5 373.5h0m-293.5 70h0m459.5-652.5h0m-305 318.5h0m-547-116h0m-52-188.5h0m616 548h0m-408-379h0m412-457.5h0m418 266h0m-838.5 365h0m704.5-504h0m40.5 83h0m-297.5 328h0m-478.5 25h0m336 291.5h0m-582.5-534h0m1538-30.5h0m-234 558h0m-216-595h0m90.5 304h0m-229-332.5h0m222.5 810h0m-493.5-505h0m123-671h0m337.5 409.5h0m-1101 117.5h0m356 12h0m299.5 184h0m-681-241h0m967 226h0m396-358.5h0m-338-125.5h0m114 492h0m-327 270.5h0m-85-796h0m-725.5 422.5h0m1138 128.5h0m-208.5-383h0m-842.5 148.5h0m1409-53.5h0m-1265 224h0m778.5 26.5h0m-858.5-165.5h0m-178 40h0m1015.5 148h0m-589 297.5h0m34-380h0m99 106.5h0m259.5 234.5h0m192-549h0m30-26h0m123 292h0m-877-30h0m-256.5-187.5h0m627 253h0m-493-81.5h0m950.5-258h0m-88-207h0m135 209.5h0m-997 186.5h0m1323-220h0m-349 348.5h0m-575 366h0m-556-545h0m1822 298.5h0m-572.5-393h0m-424 223h0m-18-550h0m61 649.5h0m-174.5-620h0m767.5 239h0m-982 253h0m-400-46.5h0m1041.5-167h0m-369-238h0m-255.5 520.5h0m-492-228h0m233 79.5h0m-66 56.5h0m933-258h0m-721.5 602h0m1185-890.5h0m-302.5 1010.5h0m-325.5-685h0m-828 169.5h0m-90.5-66h0m141.5 41h0m701 235.5h0m943.5 91.5h0m-1031.5 130.5h0m-606-443h0m704.5-224.5h0m-818 233h0m695.5-369h0m94.5-86h0m239.5 307h0m209 588.5h0m-274-306.5h0m77 439.5h0m-1003-658h0m-91 107h0m899 178.5h0m-656-551.5h0m892.5 514.5h0m-995.5 396h0m737.5-1055h0m-29.5 604h0m-796-247.5h0m1779 422.5h0m-296.5-792h0m-510.5 657h0m-23.5-281h0m-576.5 589h0m406-925h0m370.5 1080h0m-985-543h0m-115.5-136h0m953-135h0m174.5 26h0m-860.5 311.5h0m815.5 333h0m-1154-406h0m1174 368h0m-863.5-463h0m-329.5-64.5h0m1040.5-172.5h0m-562 738.5h0m-453-445h0m739.5 432h0m226-309h0m-144 80h0m-303 208h0m-431-428.5h0m887.5 359.5h0m-280-225.5h0m505.5-314h0m-1115 246h0m1172.5-291h0m-216.5 78.5h0m475-351h0m-1424.5 402h0m655-308.5h0m-186 578h0m773.5-376.5h0m-533.5-265.5h0m-721.5 490.5h0m697-496h0m-361.5 943.5h0m-296.5-464.5h0m-165-34h0m1197-136h0m-9 808h0m-62-865.5h0m-130-4.5h0m815.5 510.5h0m-896.5-471.5h0m150.5-39.5h0m22.5 110h0m-354-448h0m14.5 90h0m274 214h0m-425 717.5h0m452-311h0m-302-696h0m-154 645h0m971-611h0m-1017.5 598.5h0m211-575h0m-344 932.5h0m690.5 205h0m-993.5-641.5h0m720.5-436h0m434 223.5h0m-1193 240.5h0m1122.5 600.5h0m-818.5-514.5h0m787 478.5h0m-678.5-122.5h0m-87.5-63.5h0m-404.5-384.5h0m525.5 448h0m-399.5-421h0m831-338h0m-648.5 325.5h0m790-205h0m744.5 446h0m-402.5-400.5h0m-1117.5 309h0m805.5-410h0m-123.5 13.5h0m-881 778h0m1682.5-300.5h0m61 9.5h0m-1714-380.5h0m1056-80h0m-653.5 361h0m-376.5-214.5h0m1057-98h0m245.5-79.5h0m-1326 64.5h0m939.5 602h0m89-581h0m-276-102h0m347.5 839h0m-126-834.5h0m-1037.5 194h0m207.5 140.5h0m835.5 43.5h0m188 264h0m-1119.5-370h0m943 123h0m-190-119h0m324.5-179h0m-701 522.5h0m726 39.5h0m233-947.5h0m-162.5 304h0m-1238.5 143.5h0m984 675.5h0m-972-658h0m757-450.5h0m-744.5 498.5h0m729 5h0m-530.5-277h0m1142.5 162.5h0m-754 219.5h0m-165 393h0m-574-469.5h0m286-120.5h0m767 239.5h0m150.5 464.5h0m-723-156.5h0m263-1050h0m557.5 1103h0m-167-768h0m-21 130.5h0m-203.5 318h0m-896.5-227h0m644-381h0m119-119h0m263.5 383h0m-224 564h0m458 15.5h0m-1250.5-441.5h0m217-351h0m-71.5 338h0m491.5-399.5h0m569.5 224h0m-1079.5 73.5h0m123 223.5h0m887 371.5h0m-1153-605h0m941.5-94.5h0m-355 646.5h0m338-729h0m651-167.5h0m-1480.5 363.5h0m-7 8.5h0m186.5 154.5h0m302 402h0m-398-393.5h0m436.5 97h0m-252.5-40h0m412 318.5h0m-700.5-472.5h0m1114 505.5h0m-43.5-313.5h0m-760.5-43.5h0m-288.5-188.5h0m405 565h0m-191.5-294h0m429-761.5h0m163 132.5h0m227.5 560h0m234.5-247.5h0m-96 572h0m-41-17.5h0m-440.5 20.5h0m-733-481.5h0m209.5 66.5h0m476-413.5h0m1103 667.5h0m-1116-847h0m-349.5 708.5h0m809.5 450h0m-1160-672.5h0m539 226.5h0m551 381.5h0m-719.5-551h0m1404 280h0m-822.5-240.5h0m58-367.5h0m-919 359.5h0m-92.5-36.5h0m1228.5 486.5h0m-386.5-685h0m534 29.5h0m-165.5 26.5h0m322.5-344.5h0m-691.5 33.5h0m118.5 636h0m254 485.5h0m-456-1230.5h0m452.5 1026h0m-839.5-113h0m452.5-334.5h0m-833-63.5h0m934 91h0m-809-17h0m933-159h0m-318.5-275.5h0m-651.5 501h0m-48.5-197h0m1162 719h0m-17.5-153.5h0m-1106.5-470h0m1005.5 643h0m333-744h0m-431-63.5h0m265.5 68.5h0m-1238-24.5h0m1218.5-63.5h0m-266 49.5h0m-708.5 368h0m367-596h0m123.5 10h0m384 516h0m-72-368.5h0m-857.5 179.5h0m901 643h0m-917.5-558h0m712.5-305h0m182.5 107.5h0m-157.5-106h0m-194.5-276.5h0m373 347.5h0m-67 800.5h0m-660-943.5h0m141.5 865h0m229-897h0m127-86.5h0m-32 250h0m552.5 82.5h0m-232.5 264.5h0m-1027-145.5h0m-185-22h0m755-522h0m537.5 403h0m-132.5 277.5h0m206.5-348.5h0m-1218.5 269.5h0m1088.5 570h0m-1173.5-697.5h0m839-395.5h0m-79.5-7h0m-721.5 433h0m681.5-344h0m-704.5 371h0m920-225h0m247.5 833h0m-292.5-1022.5h0m211 916h0m-1153-596h0m1058-85h0m52.5 89.5h0m-600 513h0m-370-418h0m430.5 526h0m112-900h0m-443.5 455.5h0m989 541.5h0m-30-484h0m-414-610h0m509.5 997.5h0m-791.5-14.5h0m-293.5-623h0m-133 183h0m137.5-26h0m889-272h0m-657.5 689h0m-393-416.5h0m1134 140h0m-330-655h0m96.5 534.5h0m50-4.5h0m-747-118.5h0m918 717.5h0m-1161.5-670h0m256.5 13.5h0m1010.5 465.5h0m-538-315.5h0m284-258.5h0m443.5-77.5h0m-1410 205h0m1033-234h0m250.5 0h0m549 509h0m-602.5 150.5h0m-555-970h0m-687.5 405.5h0m1107.5 772.5h0m-954-560h0m1332-548h0m-430 294.5h0m-117-47h0m-955.5 259.5h0m899.5-243h0m172.5 542h0m-56-209.5h0m144.5-18h0m79 408.5h0m-1054-463.5h0m-209-153h0m1153-142.5h0m-847.5 277h0m512 382h0m-234 98h0m625 115h0m-259.5-442.5h0m-155.5-725h0m458 989.5h0m-598-309.5h0m1193.5 151h0m-544.5-511.5h0m-459 647h0m415-629.5h0m-1164.5 131h0m305 445h0m339.5-927h0m438 362h0m-41.5 800h0m69.5-472h0m-346.5 316.5h0m164.5-654h0m-89.5 21.5h0m-860.5 63.5h0m293 132h0m900.5 438.5h0m-852-499h0m338.5-442h0m6.5-34.5h0m-323.5 523h0m84.5 495.5h0m484-622.5h0m134.5 10h0m114 559.5h0m-943-243.5h0m1154.5-375.5h0m-327 813h0m-996.5-660.5h0m1195.5 452.5h0m-300.5-595.5h0m548-346h0m-688.5 45.5h0m372.5 1070h0m32.5-808.5h0m-276-59h0m113 50h0m-351-306.5h0m650.5 379h0m-664.5-344h0m168 183h0m370 746h0m-109.5 16.5h0m-26-628.5h0m-679.5 606.5h0m1318.5-169.5h0m-1193.5-168.5h0m595.5 319.5h0m-856-494h0m-308.5 119h0m1083.5-189h0m-1033 39.5h0m877 127h0m251-210h0m-992 82h0m709-147h0m-145-140h0m465 1018h0m193-816h0m-162.5-10.5h0m-980 398.5h0m1202.5-659h0m-1260 332.5h0m-98.5 188h0m994.5 411h0m-935.5-401.5h0m485.5 40h0m431.5 343h0m442-937.5h0m-316 955.5h0m-1064.5-473.5h0m-22.5-30h0m94 183.5h0m932 388.5h0m-1061.5-658h0m805-88h0m209 862h0m23 5h0m-835-759.5h0m800.5 487.5h0m67.5 181h0m-1012-659h0m-111.5 43.5h0m768-415.5h0m383.5 1111.5h0m-483-1027h0m-45 490h0m492.5 43h0m-710.5 235h0m584 206.5h0m-210-495h0m-194 38.5h0m206-141h0m-772-64.5h0m164 89.5h0m124 357.5h0m769-523.5h0m-1031 108.5h0m469.5 171h0m522-3.5h0m-217.5-116.5h0m431-221h0m-437.5-32h0m-176-309h0m122 636.5h0m993.5 203.5h0m-886-243h0m-875.5-45h0m644-551.5h0m-430.5 709.5h0m818.5-267h0m-1063 51.5h0m131-54.5h0m95.5 269h0m871.5-33h0m-869.5-154.5h0m982.5 456h0m-1023.5-482h0m791 203h0m39-278h0m-914.5 685.5h0m937.5-836.5h0m87.5 861h0m-791-218.5h0m216.5 19.5h0m703.5 41.5h0m-5.5-634h0m-436.5-207h0m243.5 157.5h0m-549 763h0m417-796h0m-406 385h0m-500.5-138.5h0m466.5 526h0m749-619h0m-733 592.5h0m1026.5-970h0m-776.5-29h0m-200 667.5h0m699 442.5h0m542.5-291h0m-1687-420h0m109 248.5h0m344.5 412h0m511 115h0m-735.5-639h0m811.5-228h0m-109.5 33h0m-326.5-359.5h0m-554 456.5h0m387 255.5h0m134.5-5h0m177.5-672h0m312 964.5h0m-366-322h0m-24.5-591h0m-65.5 40.5h0m-487 612h0m770.5-403.5h0m-334-161.5h0m-639 376.5h0m1098.5-251h0m366-240h0m-1194.5 425.5h0m-261.5 76.5h0m1042.5 632.5h0m344-795.5h0m-575.5 377.5h0m159-411.5h0m-94-112.5h0m-104.5 744h0m-586.5-274h0m994 454.5h0m-644-207.5h0m762.5-599h0m-965.5 334h0m-288-234h0m308.5 61.5h0m-362.5 71h0m1004.5 100.5h0m518-630.5h0m-1554.5 401.5h0m573.5 182.5h0m502.5 536h0m50.5-500.5h0m-1083-219.5h0m1075 200.5h0m-155-402.5h0m4 121h0m299 753h0m-562-168h0m-705.5-418h0m805 424h0m-663.5-443h0m875-251h0m104 434.5h0m94.5 297.5h0m-294-730.5h0m-16-37h0m78.5 445.5h0m57 211.5h0m210.5 101h0m-1151-409h0m1005.5 103.5h0m103.5-349.5h0m-1166.5 51.5h0m1765.5 416h0m-1052.5-774.5h0m399.5 630.5h0m-515 5.5h0m-523.5-210.5h0m-102-8h0m940.5-181.5h0m-662.5 476.5h0m1096-389.5h0m-1415.5 194h0m490.5-19.5h0m-168.5 211h0m778.5 266h0m-1000.5-434.5h0m220-86.5h0m955 582h0m4 36h0m-968-360h0m259.5 289h0m129-387h0m115-567h0m-227 629h0m-196.5-19h0m755 7h0m-1019-165h0m180 213h0m351.5-609.5h0m368.5 257h0m-304.5-409h0m-114.5 739.5h0m-292.5-269h0m713.5-120h0m-90-287h0m-912 512h0m-37.5-36h0m1374.5-203h0m-29 648h0m-310-570h0m-283.5-395.5h0m836 37h0m-509.5 652h0m-462 383.5h0m626.5-64h0m-892-297h0m410.5-715.5h0m167 286h0m-648 225h0m965 521.5h0m-102-602.5h0m-211-87h0m-161-303.5h0m353 636.5h0m-215-114.5h0m218 561h0m-884.5-447h0m-64.5-134h0m696-475.5h0m-764.5 333h0m1388.5 29.5h0m-849.5 253h0m785-261.5h0m-1368.5-32h0m798-306.5h0m-832.5 325h0m964-139h0m157.5 885.5h0m-1077.5-569.5h0m1089 106h0m-879-257h0m112.5 217.5h0m341-516.5h0m26-69h0m-10.5-96.5h0m-568 454.5h0m443 218.5h0m1260.5 177.5h0m-1361 154.5h0m616 224.5h0m70.5-69h0m117.5-153.5h0m-473.5-961.5h0m-183.5 119h0m551.5 1053.5h0m-113.5-21.5h0m-539.5-198.5h0m268.5-949h0m987.5 811h0m-1487-257h0m852.5 616h0m-334.5-208.5h0m300 192h0m-662-233.5h0m-256.5-321.5h0m331.5 450h0m-294-434.5h0m989 338h0m-426 7.5h0m390-570h0m-1170.5 81.5h0m458.5 225h0m538-304.5h0m114.5 293.5h0m-475.5-547h0m235 426.5h0m-180.5-593.5h0m413.5 666h0m11.5-296h0m-1054 70h0m1477-384.5h0m-355.5 1066h0m-343-832h0m-878 311.5h0m1012-185h0m-37 728h0m122.5 11.5h0m64.5-160.5h0m-294-330h0m-811.5-137h0m1354.5-99.5h0m-1439 119.5h0m35.5 12.5h0m1100-101.5h0m-965.5 111.5h0m27-59.5h0m1095 624h0m-273-447.5h0m177.5 415h0m-943-573.5h0m815.5-193h0m-124-246h0m178 249h0m-182.5 54.5h0m-162.5-424.5h0m-509 598.5h0m493-571.5h0m303 359.5h0m-179.5 418h0m4-451.5h0m-139-302.5h0m524 1083.5h0m-763-59.5h0m53.5 42.5h0m43-367h0m-567.5-174.5h0m-32 5.5h0m770-361h0m-20.5-206h0m233 595.5h0m16 112h0m-894.5-275.5h0m-48 181h0m144 0.5h0m287-133h0m154 281.5h0m-240.5 182.5h0m1175.5-873.5h0m-1289.5 668h0m426-51.5h0m-597-171h0m200.5 220.5h0m861 475h0m-1017-568.5h0m903.5-189.5h0m80 298h0m-337 254h0m-656-556h0m517.5-267h0m-162.5 853h0m275.5-851h0m-23.5 1.5h0m426.5 1030.5h0m55.5-15h0m-714-155h0m559.5-651.5h0m-289-412.5h0m162.5 395h0m-937 104h0m1245 721.5h0m-1110-577.5h0m1117 584h0m-1038-507h0m131 13h0m445 288h0m358 182h0m-1061-608h0m812-478h0m13 667h0m-285.5-25.5h0m-570-137.5h0m1008.5 124.5h0m-245.5 282.5h0m-441-49h0m788 249h0m-1143-689.5h0m756.5-321h0m-105.5 483.5h0m-158.5 4.5h0m-381-140.5h0m1128.5 450.5h0m218.5-576.5h0m-71-60.5h0m-398.5 573h0m-25.5-542.5h0m-1019.5 78.5h0m1105 696h0m-708-427.5h0m871-290.5h0m-1030 105h0m1061 542.5h0m-29.5 81.5h0m563-311h0m-837-486.5h0m-105.5 3h0m299 362h0m-183-411h0m-109 249h0m-683 74.5h0m-37 1h0m955-191h0m-519 578h0m842.5-623h0m-251.5 28h0m-51 746h0m-313.5-172h0m-43.5-11h0m142.5-725h0m-8 72.5h0m-877.5 184.5h0m127.5 27.5h0m783-160h0m21.5-64h0m-663.5 440h0m837-73h0m-219.5-378h0m-261.5-160h0m-430.5 391h0m357 449h0m181.5-1008.5h0m626.5 385h0m-1419.5 124.5h0m1026-230h0m-53.5-200.5h0m-709.5 375.5h0m760 696.5h0m-409.5-132.5h0m503.5-691h0m-281-236.5h0m22.5 23.5h0m346.5 334.5h0m-951 146.5h0m860-233.5h0m-62.5 291h0m171.5 24h0m-807 229.5h0m-136.5-506h0m401-240.5h0m413 297h0m-472 571h0m320.5-952.5h0m-415 994h0m764.5-41.5h0m-1256-578.5h0m1118.5 582h0m437-973.5h0m-650.5 283.5h0m-283.5 391.5h0m496 0.5h0m-987.5 401.5h0m923-695.5h0m-568.5 620.5h0m132-315.5h0m-452.5-113.5h0m1005.5 520.5h0m-1044-536.5h0m1088.5-170h0m-281.5-122.5h0m249 364h0m-145.5-280.5h0m-614.5 136h0m-333.5-94.5h0m261 234h0m1154.5-575.5h0m-360 1105.5h0m-3-766.5h0m12.5-79h0m643 481.5h0m-1612-378h0m-88.5 87h0m841.5 60.5h0m-554.5 301h0m615.5-591.5h0m-58.5-238h0m-871 548.5h0m701.5-613h0m-373 948.5h0m562-672.5h0m48.5 109.5h0m-662.5-222.5h0m733 169.5h0m-74.5 54.5h0m246.5 609.5h0m-227 136h0m206.5-135h0m-588-276.5h0m274.5-144.5h0m106.5-285h0m-318.5 361h0m679.5-183.5h0m-411.5-117.5h0m-988.5 133h0m780-503.5h0m-680.5 503.5h0m1085.5 711h0m-114-897.5h0m-132-50.5h0m7.5 4h0m617-197.5h0m-1203.5 667h0m914.5 408.5h0m-255.5-981.5h0m-83 433h0m653.5-530.5h0m-1441.5 402h0m504.5-312h0m24.5 863h0m-570-506h0m490 563h0m-336-548h0m493.5-536.5h0m128 117.5h0m-88-120h0m-767 583.5h0m1329.5-144h0m-1084 148h0m493-458h0m431 876.5h0m-924.5-446h0m127 409.5h0m-143-277.5h0m1280-600h0m-498 257.5h0m119 14.5h0m-250 402h0m-6 5h0m28.5-159.5h0m-24.5-319h0m-235.5-120.5h0m64 520h0m-381.5-150h0m616 81.5h0m129.5 119h0m-1052.5-294h0m-24-1.5h0"/>
<path stroke="#2c115f" d="M813.5 839.5h0"/>
<path stroke="#08071e" d="M1644.5 638.5h0"/>
<path stroke="#440f76" d="M2125 584.5h0m-705.5 286.5h0m-906.5-85h0"/>
<path stroke="#180f3d" d="M1366.5 645h0"/>
<path stroke="#2c115f" d="M674.5 720.5h0m601.5-456h0"/>
<path stroke="#08071e" d="M1812 757h0"/>
<path stroke="#9c2e7f" d="M2141.5 649h0"/>
<path stroke="#08071e" d="M1353 531h0"/>
<path stroke="#f8765c" d="M1931 628.5h0"/>
<path stroke="#440f76" d="M1326 400.5h0"/>
<path stroke="#701f81" d="M771 794h0"/>
<path stroke="#2c115f" d="M755.5 786.5h0"/>
<path stroke="#440f76" d="M756.5 774.5h0"/>
<path stroke="#5a167e" d="M731 732.5h0"/>
<path stroke="#440f76" d="M2058 595h0"/>
<path stroke="#ca3e72" d="M2102.5 601h0"/>
<path stroke="#08071e" d="M1968.5 716.5h0"/>
<path stroke="#feaa74" d="M2040.5 602h0"/>
<path stroke="#5a167e" d="M1886.5 682.5h0"/>
<path stroke="#180f3d" d="M1872.5 664h0m-422 49.5h0m-991 104h0"/>
<path stroke="#08071e" d="M430 819h0"/>
<path stroke="#f8765c" d="M2174 624h0"/>
<path stroke="#08071e" d="M1881.5 717.5h0m-1340 69h0m17.5-45.5h0"/>
<path stroke="#df4a68" d="M2183 612.5h0"/>
<path stroke="#9c2e7f" d="M905 832.5h0"/>
<path stroke="#862781" d="M892.5 912h0"/>
<path stroke="#08071e" d="M1381 638.5h0"/>
<path stroke="#180f3d" d="M491.5 829.5h0"/>
<path stroke="#08071e" d="M1266.5 328h0"/>
<path stroke="#5a167e" d="M1430.5 659.5h0"/>
<path stroke="#9c2e7f" d="M880.5 833h0"/>
<path stroke="#df4a68" d="M885.5 897h0"/>
<path stroke="#180f3d" d="M1782.5 623h0"/>
<path stroke="#440f76" d="M1919.5 632.5h0"/>
<path stroke="#9c2e7f" d="M785 768h0"/>
<path stroke="#b3367a" d="M1982.5 627.5h0"/>
<path stroke="#180f3d" d="M1848.5 624h0"/>
<path stroke="#fec488" d="M2044 598h0"/>
<path stroke="#180f3d" d="M1618.5 1306.5h0"/>
<path stroke="#f8765c" d="M2125.5 587h0"/>
<path stroke="#180f3d" d="M1594 941.5h0m-711-116.5h0"/>
<path stroke="#08071e" d="M1149 416h0"/>
<path stroke="#9c2e7f" d="M1883 658h0"/>
<path stroke="#5a167e" d="M1730.5 627.5h0"/>
<path stroke="#180f3d" d="M1604 955h0"/>
<path stroke="#440f76" d="M1295.5 283h0"/>
<path stroke="#08071e" d="M1507.5 647h0"/>
<path stroke="#ca3e72" d="M1937 622.5h0"/>
<path stroke="#08071e" d="M698 744.5h0m827-60h0m-211-286h0"/>
<path stroke="#862781" d="M698 843h0"/>
<path stroke="#180f3d" d="M1336.5 377h0"/>
<path stroke="#ca3e72" d="M2100 592h0"/>
<path stroke="#440f76" d="M547 908h0"/>
<path stroke="#df4a68" d="M739.5 740.5h0"/>
<path stroke="#5a167e" d="M1822.5 759.5h0"/>
<path stroke="#180f3d" d="M1491.5 669.5h0m-772 213.5h0"/>
<path stroke="#9c2e7f" d="M2188 641h0"/>
<path stroke="#180f3d" d="M681.5 705.5h0m764.5 9h0"/>
<path stroke="#9c2e7f" d="M2077 601.5h0"/>
<path stroke="#180f3d" d="M702.5 669h0"/>
<path stroke="#5a167e" d="M1941.5 635h0m-511.5-36.5h0"/>
<path stroke="#701f81" d="M890 816h0"/>
<path stroke="#440f76" d="M1591.5 960h0"/>
<path stroke="#08071e" d="M1510.5 626.5h0"/>
<path stroke="#180f3d" d="M1878 626.5h0"/>
<path stroke="#feaa74" d="M2098.5 597.5h0"/>
<path stroke="#08071e" d="M1584 557.5h0"/>
<path stroke="#862781" d="M2066.5 596h0"/>
<path stroke="#ef5d5e" d="M2138.5 597.5h0"/>
<path stroke="#ca3e72" d="M2153.5 673h0"/>
<path stroke="#440f76" d="M1892 653h0"/>
<path stroke="#fec488" d="M1975.5 655.5h0"/>
<path stroke="#08071e" d="M1566 726h0"/>
<path stroke="#5a167e" d="M959.5 916.5h0"/>
<path stroke="#180f3d" d="M1573 716.5h0"/>
<path stroke="#ef5d5e" d="M2178 603.5h0"/>
<path stroke="#180f3d" d="M1561 1003.5h0m-196-327.5h0"/>
<path stroke="#fc9065" d="M2068 642.5h0"/>
<path stroke="#2c115f" d="M1584.5 701.5h0"/>
<path stroke="#180f3d" d="M717.5 707.5h0"/>
<path stroke="#08071e" d="M1397.5 590.5h0"/>
<path stroke="#440f76" d="M781.5 756h0"/>
<path stroke="#df4a68" d="M944 922h0"/>
<path stroke="#08071e" d="M505 819.5h0"/>
<path stroke="#5a167e" d="M788 760h0"/>
<path stroke="#df4a68" d="M760.5 763.5h0"/>
<path stroke="#440f76" d="M1601 678.5h0"/>
<path stroke="#08071e" d="M618.5 750h0"/>
<path stroke="#440f76" d="M461.5 770.5h0"/>
<path stroke="#862781" d="M1714.5 612.5h0"/>
<path stroke="#08071e" d="M1494 662.5h0"/>
<path stroke="#440f76" d="M905 837h0"/>
<path stroke="#08071e" d="M1540.5 665h0"/>
<path stroke="#440f76" d="M1496.5 610.5h0m-690.5 162.5h0"/>
<path stroke="#b3367a" d="M882.5 822.5h0"/>
<path stroke="#5a167e" d="M746 826.5h0"/>
<path stroke="#862781" d="M2061 643.5h0"/>
<path stroke="#5a167e" d="M1484.5 570h0"/>
<path stroke="#08071e" d="M1975 685.5h0"/>
<path stroke="#9c2e7f" d="M2165.5 593h0"/>
<path stroke="#180f3d" d="M1597.5 661h0"/>
<path stroke="#fc9065" d="M2155 655.5h0"/>
<path stroke="#180f3d" d="M1257.5 339h0"/>
<path stroke="#2c115f" d="M910 825h0"/>
<path stroke="#440f76" d="M412 793.5h0"/>
<path stroke="#2c115f" d="M530.5 858h0"/>
<path stroke="#440f76" d="M1570.5 1018.5h0"/>
<path stroke="#08071e" d="M1413 542h0"/>
<path stroke="#2c115f" d="M1623.5 637h0"/>
<path stroke="#9c2e7f" d="M1252.5 341.5h0"/>
<path stroke="#440f76" d="M1902 716h0"/>
<path stroke="#180f3d" d="M1416 564h0"/>
<path stroke="#ef5d5e" d="M2204 610h0"/>
<path stroke="#08071e" d="M1306.5 300h0"/>
<path stroke="#2c115f" d="M1329 394h0"/>
<path stroke="#180f3d" d="M1190.5 342.5h0m438.5 331h0"/>
<path stroke="#701f81" d="M1928.5 612h0"/>
<path stroke="#9c2e7f" d="M774 458.5h0"/>
<path stroke="#5a167e" d="M1279.5 388h0"/>
<path stroke="#08071e" d="M1373.5 561.5h0"/>
<path stroke="#2c115f" d="M921 917.5h0"/>
<path stroke="#08071e" d="M1206.5 458h0"/>
<path stroke="#ca3e72" d="M2081.5 670h0"/>
<path stroke="#180f3d" d="M1430.5 670h0m220 698h0"/>
<path stroke="#440f76" d="M1847 749h0"/>
<path stroke="#9c2e7f" d="M792 772.5h0"/>
<path stroke="#08071e" d="M1173 448.5h0"/>
<path stroke="#180f3d" d="M1395 547.5h0"/>
<path stroke="#08071e" d="M714.5 706h0"/>
<path stroke="#ca3e72" d="M2142.5 1109h0"/>
<path stroke="#2c115f" d="M1835.5 636h0"/>
<path stroke="#fec488" d="M2122 589.5h0"/>
<path stroke="#701f81" d="M875.5 819h0"/>
<path stroke="#08071e" d="M1266 299h0"/>
<path stroke="#440f76" d="M1984 668h0"/>
<path stroke="#2c115f" d="M1235.5 250.5h0"/>
<path stroke="#ca3e72" d="M2019 600h0"/>
<path stroke="#5a167e" d="M1477 642h0"/>
<path stroke="#701f81" d="M2102 603.5h0"/>
<path stroke="#08071e" d="M1458 634.5h0"/>
<path stroke="#fec488" d="M2181 627h0"/>
<path stroke="#08071e" d="M842.5 817h0"/>
<path stroke="#180f3d" d="M1607.5 1468h0"/>
<path stroke="#08071e" d="M809 841.5h0"/>
<path stroke="#440f76" d="M1319.5 350.5h0"/>
<path stroke="#180f3d" d="M1421.5 861h0"/>
<path stroke="#5a167e" d="M737.5 781.5h0"/>
<path stroke="#08071e" d="M1167.5 298.5h0m715.5 324.5h0m-537.5 20.5h0m-36.5-278h0"/>
<path stroke="#440f76" d="M590.5 893h0m157-165h0"/>
<path stroke="#fc9065" d="M2071.5 594h0"/>
<path stroke="#2c115f" d="M1503.5 724.5h0"/>
<path stroke="#862781" d="M1427.5 658h0"/>
<path stroke="#440f76" d="M554 756.5h0"/>
<path stroke="#2c115f" d="M1349 624.5h0m-718 136.5h0"/>
<path stroke="#701f81" d="M1973.5 618h0"/>
<path stroke="#2c115f" d="M1461.5 547h0"/>
<path stroke="#701f81" d="M1875.5 654h0"/>
<path stroke="#08071e" d="M1412.5 705h0"/>
<path stroke="#fc9065" d="M2049.5 601.5h0"/>
<path stroke="#180f3d" d="M1240 263h0m305 421.5h0m-995 46.5h0"/>
<path stroke="#5a167e" d="M1929 622.5h0"/>
<path stroke="#180f3d" d="M1413 670h0"/>
<path stroke="#08071e" d="M1565 734h0m-264.5-362.5h0"/>
<path stroke="#180f3d" d="M1691 1335.5h0"/>
<path stroke="#440f76" d="M1529 617h0"/>
<path stroke="#5a167e" d="M692 740.5h0"/>
<path stroke="#9c2e7f" d="M865.5 843h0"/>
<path stroke="#2c115f" d="M1322.5 370h0m-621 522h0"/>
<path stroke="#701f81" d="M2148 672h0"/>
<path stroke="#08071e" d="M856 820h0"/>
<path stroke="#440f76" d="M2221 690.5h0"/>
<path stroke="#180f3d" d="M1505 638.5h0"/>
<path stroke="#440f76" d="M1895.5 638.5h0"/>
<path stroke="#701f81" d="M1381 550.5h0"/>
<path stroke="#2c115f" d="M1627 961h0"/>
<path stroke="#fec488" d="M2146 652h0"/>
<path stroke="#5a167e" d="M1851 628.5h0"/>
<path stroke="#180f3d" d="M702.5 709h0"/>
<path stroke="#df4a68" d="M2026.5 610.5h0"/>
<path stroke="#180f3d" d="M1437.5 621.5h0"/>
<path stroke="#fc9065" d="M2072.5 599h0"/>
<path stroke="#2c115f" d="M1378 367.5h0"/>
<path stroke="#b3367a" d="M1859 627.5h0"/>
<path stroke="#440f76" d="M752 765.5h0"/>
<path stroke="#fec488" d="M2066 607.5h0"/>
<path stroke="#df4a68" d="M2176.5 677h0"/>
<path stroke="#2c115f" d="M1259 328.5h0"/>
<path stroke="#5a167e" d="M1198.5 453.5h0"/>
<path stroke="#180f3d" d="M1474.5 566.5h0m349.5 146.5h0"/>
<path stroke="#f8765c" d="M2119.5 604h0"/>
<path stroke="#ca3e72" d="M1846 627.5h0"/>
<path stroke="#2c115f" d="M1979.5 335h0"/>
<path stroke="#701f81" d="M1856.5 642h0"/>
<path stroke="#08071e" d="M701 718.5h0"/>
<path stroke="#5a167e" d="M1477 725.5h0"/>
<path stroke="#2c115f" d="M713.5 729.5h0"/>
<path stroke="#08071e" d="M1258 368.5h0"/>
<path stroke="#5a167e" d="M1909.5 716h0"/>
<path stroke="#f8765c" d="M2080.5 599h0"/>
<path stroke="#180f3d" d="M402.5 800h0m917.5-404.5h0"/>
<path stroke="#2c115f" d="M1640.5 715.5h0"/>
<path stroke="#9c2e7f" d="M2135 670h0"/>
<path stroke="#180f3d" d="M1544.5 579h0"/>
<path stroke="#2c115f" d="M1530.5 739.5h0"/>
<path stroke="#ef5d5e" d="M2008.5 609.5h0"/>
<path stroke="#08071e" d="M1385.5 561.5h0"/>
<path stroke="#701f81" d="M1898 721.5h0"/>
<path stroke="#fc9065" d="M2123 602h0"/>
<path stroke="#180f3d" d="M733.5 739.5h0"/>
<path stroke="#2c115f" d="M694.5 713.5h0"/>
<path stroke="#ca3e72" d="M738.5 750.5h0"/>
<path stroke="#2c115f" d="M463.5 737.5h0"/>
<path stroke="#08071e" d="M1403.5 702h0m-129-319h0"/>
<path stroke="#440f76" d="M2011.5 678h0"/>
<path stroke="#9c2e7f" d="M1990.5 676.5h0"/>
<path stroke="#701f81" d="M1956.5 720h0"/>
<path stroke="#5a167e" d="M2127.5 604.5h0"/>
<path stroke="#2c115f" d="M1320.5 592h0m179.5-11.5h0"/>
<path stroke="#5a167e" d="M1375 339h0"/>
<path stroke="#440f76" d="M890.5 839h0"/>
<path stroke="#5a167e" d="M1925 671h0"/>
<path stroke="#2c115f" d="M1565.5 1422h0m-930.5-686h0"/>
<path stroke="#5a167e" d="M1322.5 310h0"/>
<path stroke="#180f3d" d="M1374.5 528.5h0m273.5 435h0"/>
<path stroke="#fec488" d="M2169.5 621.5h0"/>
<path stroke="#08071e" d="M1855.5 665h0"/>
<path stroke="#2c115f" d="M1886.5 640.5h0m-1427.5 223h0"/>
<path stroke="#440f76" d="M780 760.5h0m777.5 205.5h0"/>
<path stroke="#2c115f" d="M1635 990.5h0"/>
<path stroke="#fc9065" d="M2136.5 594h0"/>
<path stroke="#2c115f" d="M1303.5 324h0"/>
<path stroke="#fc9065" d="M2190.5 600.5h0"/>
<path stroke="#701f81" d="M2152 656h0"/>
<path stroke="#180f3d" d="M1454.5 697.5h0"/>
<path stroke="#701f81" d="M1958 678h0"/>
<path stroke="#5a167e" d="M783.5 761.5h0"/>
<path stroke="#862781" d="M2062.5 679.5h0"/>
<path stroke="#08071e" d="M1521 738h0"/>
<path stroke="#fcf7b9" d="M2167 644h0"/>
<path stroke="#08071e" d="M713 740.5h0"/>
<path stroke="#f8765c" d="M920.5 812.5h0"/>
<path stroke="#b3367a" d="M2174 679.5h0"/>
<path stroke="#862781" d="M915.5 818.5h0"/>
<path stroke="#df4a68" d="M874.5 830.5h0"/>
<path stroke="#2c115f" d="M518.5 707.5h0"/>
<path stroke="#08071e" d="M624.5 802.5h0m1145-183h0"/>
<path stroke="#5a167e" d="M749 796h0"/>
<path stroke="#f8765c" d="M2061.5 595.5h0"/>
<path stroke="#08071e" d="M1311.5 395h0m293.5 960.5h0"/>
<path stroke="#df4a68" d="M2215.5 626.5h0"/>
<path stroke="#08071e" d="M1391 628.5h0m-783.5 251h0"/>
<path stroke="#440f76" d="M1993 609h0m-1232 188h0"/>
<path stroke="#f8765c" d="M2075 673.5h0m-67-74h0"/>
<path stroke="#701f81" d="M1921 692h0"/>
<path stroke="#9c2e7f" d="M2161.5 666h0"/>
<path stroke="#701f81" d="M780 816h0m1155-133h0"/>
<path stroke="#2c115f" d="M1380 539.5h0"/>
<path stroke="#701f81" d="M794.5 822.5h0"/>
<path stroke="#f8765c" d="M2052 607.5h0"/>
<path stroke="#08071e" d="M1753.5 640.5h0"/>
<path stroke="#440f76" d="M1652.5 704h0"/>
<path stroke="#180f3d" d="M1577.5 666h0"/>
<path stroke="#5a167e" d="M831 790.5h0"/>
<path stroke="#440f76" d="M1430 678h0"/>
<path stroke="#2c115f" d="M1310 649h0"/>
<path stroke="#180f3d" d="M1326 383.5h0"/>
<path stroke="#2c115f" d="M688 719.5h0"/>
<path stroke="#180f3d" d="M667 863h0m710-287.5h0m68 130h0"/>
<path stroke="#fc9065" d="M2156 603h0"/>
<path stroke="#2c115f" d="M1490 645.5h0"/>
<path stroke="#ca3e72" d="M2159.5 597.5h0"/>
<path stroke="#08071e" d="M1453 670.5h0m-787 43.5h0"/>
<path stroke="#2c115f" d="M738.5 874h0"/>
<path stroke="#08071e" d="M688.5 888.5h0m1228-237h0"/>
<path stroke="#862781" d="M1952.5 672.5h0"/>
<path stroke="#2c115f" d="M1296 353h0"/>
<path stroke="#5a167e" d="M1864.5 738h0"/>
<path stroke="#180f3d" d="M1280.5 610h0m591 45.5h0m-49-42.5h0"/>
<path stroke="#701f81" d="M2001 698h0"/>
<path stroke="#2c115f" d="M1247.5 305h0"/>
<path stroke="#ca3e72" d="M2178 599h0"/>
<path stroke="#08071e" d="M1557.5 971h0m-237-587h0"/>
<path stroke="#180f3d" d="M1361.5 359.5h0"/>
<path stroke="#701f81" d="M1949 617h0"/>
<path stroke="#5a167e" d="M1991 603.5h0"/>
<path stroke="#180f3d" d="M1296.5 366h0"/>
<path stroke="#08071e" d="M1896.5 625.5h0m-351 107h0m8-41.5h0"/>
<path stroke="#ef5d5e" d="M2034.5 600h0"/>
<path stroke="#701f81" d="M1936 731h0"/>
<path stroke="#08071e" d="M419.5 749h0"/>
<path stroke="#440f76" d="M2156 586.5h0"/>
<path stroke="#180f3d" d="M848.5 837.5h0"/>
<path stroke="#fec488" d="M2158.5 604h0"/>
<path stroke="#180f3d" d="M1445.5 451h0"/>
<path stroke="#08071e" d="M1885 729.5h0"/>
<path stroke="#180f3d" d="M1253.5 386.5h0m229.5 277h0"/>
<path stroke="#5a167e" d="M708 719.5h0"/>
<path stroke="#f8765c" d="M2100.5 665h0"/>
<path stroke="#180f3d" d="M1551 1428h0"/>
<path stroke="#ef5d5e" d="M2078 596.5h0"/>
<path stroke="#180f3d" d="M1986.5 346h0"/>
<path stroke="#08071e" d="M1459 643.5h0"/>
<path stroke="#ef5d5e" d="M2208 630h0"/>
<path stroke="#180f3d" d="M1913.5 644.5h0"/>
<path stroke="#08071e" d="M1330.5 380h0"/>
<path stroke="#180f3d" d="M1599 939h0"/>
<path stroke="#701f81" d="M2153 676.5h0"/>
<path stroke="#08071e" d="M1320 614.5h0"/>
<path stroke="#9c2e7f" d="M865 804h0"/>
<path stroke="#440f76" d="M1390 683h0"/>
<path stroke="#ef5d5e" d="M2179 606.5h0"/>
<path stroke="#5a167e" d="M1254 257h0"/>
<path stroke="#2c115f" d="M838 830.5h0"/>
<path stroke="#08071e" d="M1516 674.5h0"/>
<path stroke="#df4a68" d="M1971 633h0"/>
<path stroke="#440f76" d="M1888.5 642.5h0"/>
<path stroke="#08071e" d="M703.5 774h0"/>
<path stroke="#df4a68" d="M2183.5 616h0"/>
<path stroke="#08071e" d="M686 737.5h0"/>
<path stroke="#5a167e" d="M1463.5 645h0"/>
<path stroke="#180f3d" d="M818.5 1006h0"/>
<path stroke="#ca3e72" d="M816 808h0"/>
<path stroke="#b3367a" d="M2051 597h0"/>
<path stroke="#5a167e" d="M1892.5 708.5h0"/>
<path stroke="#ef5d5e" d="M2143 590h0"/>
<path stroke="#feaa74" d="M1956.5 620.5h0"/>
<path stroke="#440f76" d="M1381.5 430h0"/>
<path stroke="#862781" d="M1997.5 701h0"/>
<path stroke="#180f3d" d="M549.5 691.5h0"/>
<path stroke="#08071e" d="M1542.5 595.5h0m318 29.5h0"/>
<path stroke="#440f76" d="M1525.5 589.5h0"/>
<path stroke="#fddea0" d="M2063 605.5h0"/>
<path stroke="#180f3d" d="M826.5 779h0"/>
<path stroke="#ef5d5e" d="M2113.5 596.5h0"/>
<path stroke="#08071e" d="M1334 605.5h0"/>
<path stroke="#180f3d" d="M1824 713h0"/>
<path stroke="#f8765c" d="M2109 589h0"/>
<path stroke="#701f81" d="M1322.5 577h0"/>
<path stroke="#2c115f" d="M1767 625.5h0"/>
<path stroke="#08071e" d="M1348.5 363.5h0"/>
<path stroke="#440f76" d="M705.5 1009h0"/>
<path stroke="#f8765c" d="M2184.5 677h0"/>
<path stroke="#180f3d" d="M1356 360.5h0m-14.5 295h0"/>
<path stroke="#440f76" d="M1097 434.5h0m239-40h0"/>
<path stroke="#08071e" d="M1781 611.5h0"/>
<path stroke="#2c115f" d="M953.5 1322h0"/>
<path stroke="#08071e" d="M1321.5 327.5h0"/>
<path stroke="#180f3d" d="M1208.5 1022h0"/>
<path stroke="#5a167e" d="M1346 378.5h0"/>
<path stroke="#fc9065" d="M2173 607.5h0"/>
<path stroke="#180f3d" d="M1531 643.5h0"/>
<path stroke="#862781" d="M1307.5 337h0"/>
<path stroke="#440f76" d="M766 746.5h0"/>
<path stroke="#fc9065" d="M2116 635.5h0"/>
<path stroke="#180f3d" d="M641 811.5h0"/>
<path stroke="#5a167e" d="M1942 616.5h0"/>
<path stroke="#df4a68" d="M1968.5 611.5h0"/>
<path stroke="#2c115f" d="M674.5 713.5h0"/>
<path stroke="#08071e" d="M1562 689.5h0"/>
<path stroke="#180f3d" d="M908.5 909h0"/>
<path stroke="#fec488" d="M2106.5 587h0"/>
<path stroke="#180f3d" d="M778 754h0"/>
<path stroke="#fddea0" d="M2158 666h0"/>
<path stroke="#2c115f" d="M1368 650.5h0"/>
<path stroke="#f8765c" d="M2147.5 645h0"/>
<path stroke="#df4a68" d="M942.5 921h0"/>
<path stroke="#440f76" d="M745 869.5h0"/>
<path stroke="#ca3e72" d="M2043.5 611h0"/>
<path stroke="#08071e" d="M1297.5 410h0"/>
<path stroke="#180f3d" d="M1612.5 990.5h0m-376-558.5h0"/>
<path stroke="#5a167e" d="M1302 641.5h0"/>
<path stroke="#9c2e7f" d="M1902.5 638.5h0"/>
<path stroke="#862781" d="M1808.5 762h0"/>
<path stroke="#180f3d" d="M1403 599h0"/>
<path stroke="#fddea0" d="M2178 639h0"/>
<path stroke="#fc9065" d="M2024 606.5h0"/>
<path stroke="#fec488" d="M2083 621.5h0"/>
<path stroke="#08071e" d="M1822.5 650h0m-1401.5 113.5h0"/>
<path stroke="#5a167e" d="M1258.5 335h0"/>
<path stroke="#440f76" d="M1903.5 615h0"/>
<path stroke="#180f3d" d="M1843 630h0"/>
<path stroke="#f8765c" d="M896 835h0"/>
<path stroke="#df4a68" d="M2148 647.5h0"/>
<path stroke="#701f81" d="M2155.5 590.5h0"/>
<path stroke="#2c115f" d="M1377.5 628h0"/>
<path stroke="#5a167e" d="M1576.5 686h0"/>
<path stroke="#fddea0" d="M2190.5 612.5h0"/>
<path stroke="#2c115f" d="M1845.5 752h0m25-62.5h0"/>
<path stroke="#180f3d" d="M537.5 890.5h0"/>
<path stroke="#f8765c" d="M2046.5 638.5h0"/>
<path stroke="#180f3d" d="M1374.5 369.5h0"/>
<path stroke="#5a167e" d="M1290 625h0"/>
<path stroke="#440f76" d="M1442.5 587.5h0"/>
<path stroke="#08071e" d="M1585 739.5h0m-191.5-216.5h0"/>
<path stroke="#9c2e7f" d="M1345.5 410.5h0"/>
<path stroke="#5a167e" d="M1853 659h0m-66.5-54h0"/>
<path stroke="#08071e" d="M858 721.5h0"/>
<path stroke="#df4a68" d="M2075 600h0"/>
<path stroke="#08071e" d="M1446.5 546.5h0"/>
<path stroke="#180f3d" d="M769 769h0m495.5-435.5h0"/>
<path stroke="#5a167e" d="M1466.5 629h0"/>
<path stroke="#2c115f" d="M773.5 770.5h0"/>
<path stroke="#440f76" d="M1375 579h0"/>
<path stroke="#f8765c" d="M2169.5 680.5h0"/>
<path stroke="#440f76" d="M1263.5 301h0"/>
<path stroke="#08071e" d="M561 1399.5h0m828-713.5h0"/>
<path stroke="#862781" d="M1921 616h0"/>
<path stroke="#9c2e7f" d="M2200 614h0"/>
<path stroke="#fddea0" d="M2198.5 624.5h0"/>
<path stroke="#df4a68" d="M1694.5 1277h0"/>
<path stroke="#701f81" d="M900 911h0"/>
<path stroke="#862781" d="M672.5 705.5h0m1359-21.5h0"/>
<path stroke="#5a167e" d="M1973 674h0"/>
<path stroke="#180f3d" d="M1578.5 627h0"/>
<path stroke="#862781" d="M1994 688h0"/>
<path stroke="#701f81" d="M1899.5 682.5h0"/>
<path stroke="#fc9065" d="M2161 590.5h0"/>
<path stroke="#440f76" d="M907.5 910.5h0"/>
<path stroke="#701f81" d="M1590.5 643h0"/>
<path stroke="#b3367a" d="M2058.5 625.5h0"/>
<path stroke="#5a167e" d="M1257.5 379.5h0"/>
<path stroke="#180f3d" d="M1822 618h0"/>
<path stroke="#f8765c" d="M1950 621h0"/>
<path stroke="#180f3d" d="M554 722h0m61 48h0"/>
<path stroke="#08071e" d="M549.5 706.5h0m732-434h0m409.5 384h0"/>
<path stroke="#fc9065" d="M2127 596h0"/>
<path stroke="#5a167e" d="M1433 534h0"/>
<path stroke="#08071e" d="M1374.5 670h0m-830 131.5h0m953.5-88h0"/>
<path stroke="#862781" d="M705.5 708.5h0"/>
<path stroke="#180f3d" d="M1323 363h0"/>
<path stroke="#ca3e72" d="M2061.5 615.5h0"/>
<path stroke="#08071e" d="M530.5 790.5h0"/>
<path stroke="#180f3d" d="M1339.5 307h0"/>
<path stroke="#862781" d="M2039 606.5h0"/>
<path stroke="#180f3d" d="M526 788.5h0m1367.5-63h0"/>
<path stroke="#862781" d="M866 838.5h0"/>
<path stroke="#08071e" d="M1334.5 330h0"/>
<path stroke="#9c2e7f" d="M2174 633h0"/>
<path stroke="#180f3d" d="M1309 282h0"/>
<path stroke="#701f81" d="M1875 730h0"/>
<path stroke="#440f76" d="M576 817h0"/>
<path stroke="#9c2e7f" d="M723 884h0"/>
<path stroke="#440f76" d="M2125 584.5h0"/>
<path stroke="#ca3e72" d="M1940 621.5h0"/>
<path stroke="#862781" d="M1986.5 623h0"/>
<path stroke="#9c2e7f" d="M1337.5 386h0"/>
<path stroke="#5a167e" d="M945.5 914h0m-260.5-189.5h0"/>
<path stroke="#9c2e7f" d="M2165.5 658h0"/>
<path stroke="#5a167e" d="M1250.5 349.5h0"/>
<path stroke="#9c2e7f" d="M899 844h0"/>
<path stroke="#2c115f" d="M685.5 887.5h0"/>
<path stroke="#180f3d" d="M1465.5 595h0m-733 158h0"/>
<path stroke="#440f76" d="M1383 393.5h0"/>
<path stroke="#08071e" d="M1528 711.5h0"/>
<path stroke="#180f3d" d="M1460.5 580h0"/>
<path stroke="#862781" d="M2000.5 672h0"/>
<path stroke="#5a167e" d="M809 818h0"/>
<path stroke="#ef5d5e" d="M907 835.5h0"/>
<path stroke="#180f3d" d="M778.5 794.5h0"/>
<path stroke="#2c115f" d="M1375.5 534h0"/>
<path stroke="#440f76" d="M1884 626h0"/>
<path stroke="#ca3e72" d="M2205.5 604.5h0"/>
<path stroke="#5a167e" d="M2151.5 653.5h0"/>
<path stroke="#180f3d" d="M1393 561h0"/>
<path stroke="#440f76" d="M1254 334.5h0m414 1087h0"/>
<path stroke="#701f81" d="M738 755h0"/>
<path stroke="#180f3d" d="M1651.5 638.5h0"/>
<path stroke="#862781" d="M2024 611h0"/>
<path stroke="#180f3d" d="M749.5 863.5h0"/>
<path stroke="#2c115f" d="M1331 305h0"/>
<path stroke="#08071e" d="M1398.5 696h0"/>
<path stroke="#2c115f" d="M900.5 740.5h0"/>
<path stroke="#08071e" d="M1554 613.5h0"/>
<path stroke="#180f3d" d="M1851 620h0"/>
<path stroke="#08071e" d="M676 703.5h0m975 5h0"/>
<path stroke="#b3367a" d="M1437.5 440.5h0"/>
<path stroke="#2c115f" d="M1419 994.5h0"/>
<path stroke="#440f76" d="M899.5 919h0"/>
<path stroke="#ef5d5e" d="M2058 635.5h0"/>
<path stroke="#5a167e" d="M740 779h0"/>
<path stroke="#180f3d" d="M1861 666.5h0"/>
<path stroke="#feaa74" d="M2181 626h0"/>
<path stroke="#701f81" d="M1996 662.5h0"/>
<path stroke="#440f76" d="M691 992h0"/>
<path stroke="#08071e" d="M1411.5 679h0"/>
<path stroke="#ca3e72" d="M893.5 892.5h0"/>
<path stroke="#9c2e7f" d="M870 818h0"/>
<path stroke="#180f3d" d="M478 770h0"/>
<path stroke="#ca3e72" d="M882 840h0"/>
<path stroke="#08071e" d="M721 724h0m551.5-409h0"/>
<path stroke="#ca3e72" d="M2014.5 615.5h0"/>
<path stroke="#862781" d="M1874.5 638h0"/>
<path stroke="#f8765c" d="M2113.5 586h0"/>
<path stroke="#ca3e72" d="M760 733h0"/>
<path stroke="#180f3d" d="M896.5 912h0"/>
<path stroke="#440f76" d="M1322.5 586h0"/>
<path stroke="#ef5d5e" d="M2045.5 606.5h0"/>
<path stroke="#fc9065" d="M2057.5 609.5h0"/>
<path stroke="#ca3e72" d="M2119 594h0"/>
<path stroke="#ef5d5e" d="M2075 595h0"/>
<path stroke="#180f3d" d="M462.5 882.5h0"/>
<path stroke="#08071e" d="M1291.5 596h0"/>
<path stroke="#ca3e72" d="M2067.5 601.5h0"/>
<path stroke="#08071e" d="M1511 656h0"/>
<path stroke="#ca3e72" d="M853.5 795.5h0"/>
<path stroke="#440f76" d="M1268.5 271h0m-497 476h0"/>
<path stroke="#180f3d" d="M482 703.5h0m453 599h0"/>
<path stroke="#08071e" d="M1852 674h0"/>
<path stroke="#440f76" d="M1212 1275h0"/>
<path stroke="#b3367a" d="M888.5 916.5h0"/>
<path stroke="#5a167e" d="M1546.5 1440.5h0m319-798h0"/>
<path stroke="#df4a68" d="M2050 615h0"/>
<path stroke="#ca3e72" d="M2140 586.5h0"/>
<path stroke="#08071e" d="M1244 316.5h0"/>
<path stroke="#ef5d5e" d="M2020.5 604.5h0"/>
<path stroke="#08071e" d="M665 717h0m33.5 5h0"/>
<path stroke="#180f3d" d="M1309 328.5h0"/>
<path stroke="#701f81" d="M866 827.5h0"/>
<path stroke="#f8765c" d="M2007 669.5h0"/>
<path stroke="#701f81" d="M1947 730h0m-537-61.5h0"/>
<path stroke="#5a167e" d="M2025.5 691h0"/>
<path stroke="#2c115f" d="M1451.5 566.5h0"/>
<path stroke="#180f3d" d="M1194 465h0m-300 451.5h0m-417.5-152h0m831.5-370h0"/>
<path stroke="#701f81" d="M724.5 745.5h0"/>
<path stroke="#180f3d" d="M780.5 855.5h0"/>
<path stroke="#2c115f" d="M817 1237.5h0"/>
<path stroke="#5a167e" d="M677 940.5h0"/>
<path stroke="#180f3d" d="M653 855.5h0m897 465.5h0"/>
<path stroke="#2c115f" d="M1447.5 705.5h0"/>
<path stroke="#f8765c" d="M2124 656.5h0"/>
<path stroke="#180f3d" d="M1585 721.5h0"/>
<path stroke="#2c115f" d="M1908.5 650h0"/>
<path stroke="#701f81" d="M1260 363.5h0"/>
<path stroke="#180f3d" d="M1287.5 642h0"/>
<path stroke="#862781" d="M1803 767h0"/>
<path stroke="#9c2e7f" d="M2197.5 604.5h0"/>
<path stroke="#440f76" d="M876 765h0"/>
<path stroke="#2c115f" d="M1611 731.5h0m-718.5 164.5h0"/>
<path stroke="#ef5d5e" d="M2039.5 627.5h0"/>
<path stroke="#2c115f" d="M1635.5 1301h0"/>
<path stroke="#08071e" d="M1906.5 658.5h0m-614-385.5h0"/>
<path stroke="#180f3d" d="M1478 610.5h0"/>
<path stroke="#b3367a" d="M1460 600.5h0"/>
<path stroke="#862781" d="M1911.5 702h0"/>
<path stroke="#180f3d" d="M863.5 1265.5h0"/>
<path stroke="#08071e" d="M994.5 1344.5h0m754.5-736.5h0"/>
<path stroke="#5a167e" d="M1884.5 718.5h0"/>
<path stroke="#08071e" d="M1300 401h0"/>
<path stroke="#180f3d" d="M686 715.5h0"/>
<path stroke="#fddea0" d="M2183 605.5h0"/>
<path stroke="#9c2e7f" d="M2153 592h0"/>
<path stroke="#180f3d" d="M1303 582h0"/>
<path stroke="#08071e" d="M1411.5 594.5h0"/>
<path stroke="#2c115f" d="M1344 640.5h0"/>
<path stroke="#701f81" d="M762.5 733.5h0"/>
<path stroke="#b3367a" d="M892.5 822.5h0m668.5-168h0"/>
<path stroke="#f8765c" d="M2159 658h0"/>
<path stroke="#180f3d" d="M1585 947.5h0m82 539h0"/>
<path stroke="#ca3e72" d="M906 821h0"/>
<path stroke="#08071e" d="M1333.5 373.5h0"/>
<path stroke="#2c115f" d="M1806.5 758.5h0"/>
<path stroke="#08071e" d="M1429.5 713h0"/>
<path stroke="#180f3d" d="M1084.5 979h0m190-651.5h0"/>
<path stroke="#ef5d5e" d="M872.5 838.5h0"/>
<path stroke="#5a167e" d="M1889.5 666h0"/>
<path stroke="#08071e" d="M1288.5 319h0"/>
<path stroke="#701f81" d="M767.5 731h0"/>
<path stroke="#08071e" d="M1533.5 677.5h0m-588 629h0"/>
<path stroke="#180f3d" d="M1291.5 390.5h0"/>
<path stroke="#ef5d5e" d="M2161 600h0"/>
<path stroke="#df4a68" d="M2085 588h0"/>
<path stroke="#180f3d" d="M1818.5 647h0"/>
<path stroke="#2c115f" d="M1590 688.5h0"/>
<path stroke="#440f76" d="M1303.5 320h0"/>
<path stroke="#180f3d" d="M604 919h0"/>
<path stroke="#2c115f" d="M1420 618.5h0"/>
<path stroke="#701f81" d="M1853 634.5h0m-1067 137.5h0"/>
<path stroke="#08071e" d="M1976 321.5h0m-699 45.5h0m510 343.5h0m70.5-63h0"/>
<path stroke="#f8765c" d="M2052.5 616.5h0"/>
<path stroke="#08071e" d="M1206.5 369h0"/>
<path stroke="#180f3d" d="M1277.5 267h0"/>
<path stroke="#440f76" d="M824.5 824h0"/>
<path stroke="#180f3d" d="M1339.5 396h0"/>
<path stroke="#862781" d="M1367.5 360h0"/>
<path stroke="#2c115f" d="M1586.5 1450h0"/>
<path stroke="#180f3d" d="M1447.5 930.5h0"/>
<path stroke="#2c115f" d="M1240 292h0"/>
<path stroke="#08071e" d="M1626 1266h0"/>
<path stroke="#180f3d" d="M727 879.5h0m718.5-249h0m-9-1h0"/>
<path stroke="#440f76" d="M710 713h0"/>
<path stroke="#ca3e72" d="M2192 637h0"/>
<path stroke="#180f3d" d="M1480.5 659.5h0"/>
<path stroke="#08071e" d="M1877.5 662h0"/>
<path stroke="#180f3d" d="M1001 1275h0"/>
<path stroke="#f8765c" d="M877.5 832.5h0"/>
<path stroke="#440f76" d="M730 874.5h0m1171.5-252h0"/>
<path stroke="#180f3d" d="M1568.5 1212h0"/>
<path stroke="#df4a68" d="M2195 609h0"/>
<path stroke="#2c115f" d="M1134.5 944.5h0"/>
<path stroke="#5a167e" d="M900 810.5h0"/>
<path stroke="#fc9065" d="M2137.5 601.5h0"/>
<path stroke="#9c2e7f" d="M2030.5 646h0"/>
<path stroke="#feaa74" d="M2096.5 587.5h0"/>
<path stroke="#180f3d" d="M1239 271.5h0"/>
<path stroke="#2c115f" d="M824 813.5h0"/>
<path stroke="#fec488" d="M2199.5 697h0"/>
<path stroke="#862781" d="M2064 593h0"/>
<path stroke="#180f3d" d="M1324.5 354h0m439 915.5h0"/>
<path stroke="#ef5d5e" d="M2135 657h0"/>
<path stroke="#fc9065" d="M2179.5 680h0"/>
<path stroke="#df4a68" d="M2047.5 599.5h0"/>
<path stroke="#08071e" d="M1158 290.5h0"/>
<path stroke="#2c115f" d="M2014 689.5h0m-1483 226.5h0"/>
<path stroke="#180f3d" d="M720.5 817h0"/>
<path stroke="#08071e" d="M848 840h0"/>
<path stroke="#701f81" d="M707.5 711.5h0"/>
<path stroke="#440f76" d="M1521 691.5h0"/>
<path stroke="#180f3d" d="M1282 308h0m594 373.5h0"/>
<path stroke="#08071e" d="M1557 1441.5h0"/>
<path stroke="#ef5d5e" d="M2215 617.5h0"/>
<path stroke="#df4a68" d="M2116.5 604.5h0"/>
<path stroke="#b3367a" d="M715 710h0"/>
<path stroke="#df4a68" d="M2196.5 621.5h0"/>
<path stroke="#180f3d" d="M1783.5 617h0"/>
<path stroke="#701f81" d="M1914 661h0"/>
<path stroke="#ca3e72" d="M2183 640h0"/>
<path stroke="#180f3d" d="M1838.5 621h0"/>
<path stroke="#2c115f" d="M1411.5 612h0"/>
<path stroke="#b3367a" d="M2167.5 594.5h0"/>
<path stroke="#180f3d" d="M1913 625.5h0"/>
<path stroke="#2c115f" d="M933.5 1319h0"/>
<path stroke="#440f76" d="M1960 618h0"/>
<path stroke="#feaa74" d="M2220.5 615h0"/>
<path stroke="#2c115f" d="M1363.5 597h0"/>
<path stroke="#440f76" d="M1687.5 1475h0"/>
<path stroke="#2c115f" d="M1382.5 537.5h0"/>
<path stroke="#08071e" d="M1875 624.5h0"/>
<path stroke="#2c115f" d="M775 757h0"/>
<path stroke="#08071e" d="M1320.5 554.5h0m-28.5-251.5h0"/>
<path stroke="#5a167e" d="M1466 695.5h0"/>
<path stroke="#440f76" d="M749 740.5h0"/>
<path stroke="#180f3d" d="M1740.5 1277.5h0m-1173.5-504.5h0"/>
<path stroke="#2c115f" d="M1261.5 340.5h0m332.5 336.5h0"/>
<path stroke="#9c2e7f" d="M867 822.5h0"/>
<path stroke="#440f76" d="M1265 282.5h0m559.5 365h0"/>
<path stroke="#ef5d5e" d="M2179.5 614h0"/>
<path stroke="#2c115f" d="M894 907.5h0"/>
<path stroke="#701f81" d="M1960.5 681h0"/>
<path stroke="#08071e" d="M1269 398h0"/>
<path stroke="#b3367a" d="M1965 630h0"/>
<path stroke="#2c115f" d="M695.5 984.5h0"/>
<path stroke="#5a167e" d="M1556.5 720h0"/>
<path stroke="#08071e" d="M717 719h0"/>
<path stroke="#440f76" d="M1278 628h0"/>
<path stroke="#08071e" d="M1457.5 713.5h0"/>
<path stroke="#180f3d" d="M1489 625h0"/>
<path stroke="#2c115f" d="M1045.5 967.5h0"/>
<path stroke="#180f3d" d="M1666 1254.5h0"/>
<path stroke="#440f76" d="M1273 298h0"/>
<path stroke="#2c115f" d="M1679 623.5h0m-26.5 86.5h0"/>
<path stroke="#08071e" d="M1833 648.5h0"/>
<path stroke="#2c115f" d="M777.5 758.5h0m1130-141h0"/>
<path stroke="#180f3d" d="M1465 692h0m-173.5-328.5h0"/>
<path stroke="#440f76" d="M1942.5 713.5h0"/>
<path stroke="#08071e" d="M1573 995.5h0"/>
<path stroke="#2c115f" d="M1922.5 736.5h0"/>
<path stroke="#180f3d" d="M1311 618.5h0"/>
<path stroke="#08071e" d="M1159.5 950.5h0m413-286h0"/>
<path stroke="#9c2e7f" d="M2176.5 616.5h0"/>
<path stroke="#fc9065" d="M2135.5 600h0"/>
<path stroke="#701f81" d="M1932 680.5h0"/>
<path stroke="#2c115f" d="M623 832.5h0"/>
<path stroke="#180f3d" d="M1478 569.5h0m123.5 391h0"/>
<path stroke="#08071e" d="M1347.5 341.5h0m252 673.5h0"/>
<path stroke="#180f3d" d="M883 877.5h0"/>
<path stroke="#5a167e" d="M1977.5 675.5h0"/>
<path stroke="#feaa74" d="M2188 618h0"/>
<path stroke="#180f3d" d="M669 740h0"/>
<path stroke="#440f76" d="M1313.5 566h0"/>
<path stroke="#ef5d5e" d="M2061.5 602.5h0"/>
<path stroke="#b3367a" d="M1905 620.5h0m170-23h0"/>
<path stroke="#440f76" d="M1941 674.5h0m-481.5 269h0"/>
<path stroke="#f8765c" d="M2070 604.5h0"/>
<path stroke="#701f81" d="M1929.5 673.5h0"/>
<path stroke="#9c2e7f" d="M1910.5 707.5h0"/>
<path stroke="#feaa74" d="M2185 685.5h0"/>
<path stroke="#862781" d="M771 757h0"/>
<path stroke="#f8765c" d="M2035.5 612.5h0"/>
<path stroke="#08071e" d="M1540.5 735.5h0"/>
<path stroke="#180f3d" d="M1811 767.5h0"/>
<path stroke="#2c115f" d="M1408.5 679.5h0"/>
<path stroke="#fddea0" d="M2199.5 655.5h0"/>
<path stroke="#fc9065" d="M1128 975.5h0"/>
<path stroke="#ef5d5e" d="M888.5 825h0"/>
<path stroke="#9c2e7f" d="M826.5 789.5h0"/>
<path stroke="#2c115f" d="M1520 740.5h0"/>
<path stroke="#ca3e72" d="M2043.5 602.5h0"/>
<path stroke="#2c115f" d="M1342 598h0"/>
<path stroke="#df4a68" d="M1884.5 667.5h0"/>
<path stroke="#08071e" d="M1916.5 635h0"/>
<path stroke="#440f76" d="M893.5 837h0"/>
<path stroke="#180f3d" d="M913.5 914h0"/>
<path stroke="#2c115f" d="M1963 698h0"/>
<path stroke="#701f81" d="M760.5 752h0"/>
<path stroke="#440f76" d="M1159.5 451h0"/>
<path stroke="#08071e" d="M1364 540h0"/>
<path stroke="#fddea0" d="M2063 600.5h0"/>
<path stroke="#5a167e" d="M1381 647.5h0"/>
<path stroke="#9c2e7f" d="M794 504.5h0"/>
<path stroke="#180f3d" d="M1382 674.5h0m-490 249.5h0"/>
<path stroke="#2c115f" d="M615.5 877h0"/>
<path stroke="#9c2e7f" d="M1290 378h0"/>
<path stroke="#5a167e" d="M715.5 723.5h0"/>
<path stroke="#ca3e72" d="M876.5 825h0"/>
<path stroke="#5a167e" d="M1391 604h0m-5-216h0"/>
<path stroke="#f8765c" d="M2193 681h0"/>
<path stroke="#440f76" d="M2024 690.5h0"/>
<path stroke="#862781" d="M1369.5 375.5h0"/>
<path stroke="#fec488" d="M2054 595.5h0"/>
<path stroke="#2c115f" d="M1945.5 690.5h0"/>
<path stroke="#08071e" d="M1431.5 688h0"/>
<path stroke="#5a167e" d="M1695.5 641h0"/>
<path stroke="#b3367a" d="M1416 686.5h0"/>
<path stroke="#440f76" d="M815 787.5h0"/>
<path stroke="#df4a68" d="M2089 600.5h0"/>
<path stroke="#fc9065" d="M2055 612.5h0"/>
<path stroke="#180f3d" d="M961.5 1333.5h0"/>
<path stroke="#9c2e7f" d="M2060 676.5h0"/>
<path stroke="#180f3d" d="M1847 661h0"/>
<path stroke="#08071e" d="M1385.5 615h0"/>
<path stroke="#b3367a" d="M886 816h0"/>
<path stroke="#180f3d" d="M1170 447h0"/>
<path stroke="#b3367a" d="M864 835.5h0"/>
<path stroke="#701f81" d="M1988 609h0"/>
<path stroke="#ef5d5e" d="M2202 633h0"/>
<path stroke="#df4a68" d="M2101 589.5h0"/>
<path stroke="#ef5d5e" d="M2173 648.5h0"/>
<path stroke="#180f3d" d="M789 849.5h0"/>
<path stroke="#5a167e" d="M1626.5 713.5h0"/>
<path stroke="#440f76" d="M1971.5 715.5h0m-414.5 286h0"/>
<path stroke="#180f3d" d="M748.5 719.5h0m708.5-49.5h0"/>
<path stroke="#5a167e" d="M1473.5 570.5h0"/>
<path stroke="#180f3d" d="M848 831h0m-49.5-68h0"/>
<path stroke="#440f76" d="M1329 309.5h0"/>
<path stroke="#180f3d" d="M1260 354h0"/>
<path stroke="#08071e" d="M1733 623.5h0"/>
<path stroke="#862781" d="M1810 764h0"/>
<path stroke="#ca3e72" d="M2163.5 659.5h0"/>
<path stroke="#180f3d" d="M755 738h0"/>
<path stroke="#08071e" d="M1370.5 394h0"/>
<path stroke="#180f3d" d="M1347.5 545.5h0"/>
<path stroke="#fc9065" d="M2177 623h0"/>
<path stroke="#df4a68" d="M2209 607.5h0"/>
<path stroke="#fec488" d="M2036.5 605.5h0"/>
<path stroke="#08071e" d="M1251 317h0m-19.5-21h0"/>
<path stroke="#5a167e" d="M1736 635.5h0"/>
<path stroke="#ca3e72" d="M2002.5 601.5h0"/>
<path stroke="#2c115f" d="M1281.5 641.5h0m-616.5 209h0"/>
<path stroke="#862781" d="M1898.5 653.5h0"/>
<path stroke="#2c115f" d="M1666.5 716h0"/>
<path stroke="#440f76" d="M1345.5 655.5h0"/>
<path stroke="#fddea0" d="M2043.5 605.5h0"/>
<path stroke="#df4a68" d="M2086.5 666.5h0"/>
<path stroke="#08071e" d="M773 754h0"/>
<path stroke="#440f76" d="M1569.5 685h0"/>
<path stroke="#df4a68" d="M885 911h0"/>
<path stroke="#fec488" d="M2102.5 634h0"/>
<path stroke="#180f3d" d="M1569.5 977.5h0"/>
<path stroke="#08071e" d="M749 753.5h0"/>
<path stroke="#701f81" d="M758 741.5h0"/>
<path stroke="#08071e" d="M1560.5 671h0"/>
<path stroke="#5a167e" d="M1125 1296.5h0"/>
<path stroke="#862781" d="M2156.5 593h0"/>
<path stroke="#2c115f" d="M1612.5 1000.5h0"/>
<path stroke="#ca3e72" d="M1825 605h0"/>
<path stroke="#08071e" d="M1380 381h0"/>
<path stroke="#180f3d" d="M1421.5 862h0"/>
<path stroke="#5a167e" d="M753.5 746h0"/>
<path stroke="#862781" d="M891.5 828.5h0"/>
<path stroke="#08071e" d="M1463 637h0"/>
<path stroke="#9c2e7f" d="M611 694h0"/>
<path stroke="#5a167e" d="M1249.5 387.5h0"/>
<path stroke="#fc9065" d="M2193.5 603.5h0"/>
<path stroke="#08071e" d="M458.5 733.5h0"/>
<path stroke="#2c115f" d="M1437 704.5h0"/>
<path stroke="#5a167e" d="M1987 649h0"/>
<path stroke="#2c115f" d="M1348 308.5h0"/>
<path stroke="#5a167e" d="M622 710h0"/>
<path stroke="#ef5d5e" d="M2178 651h0"/>
<path stroke="#440f76" d="M1273.5 333h0"/>
<path stroke="#180f3d" d="M2011.5 695.5h0"/>
<path stroke="#f8765c" d="M2149 589.5h0"/>
<path stroke="#180f3d" d="M1576.5 672h0"/>
<path stroke="#2c115f" d="M1602 951h0m-240-375h0"/>
<path stroke="#5a167e" d="M1873 669h0"/>
<path stroke="#180f3d" d="M1253 337.5h0m150 211h0m-611.5 216h0"/>
<path stroke="#08071e" d="M1557.5 634.5h0"/>
<path stroke="#440f76" d="M2019 689.5h0m-204.5-34h0"/>
<path stroke="#08071e" d="M1567 730h0"/>
<path stroke="#862781" d="M814 834.5h0"/>
<path stroke="#ca3e72" d="M2045.5 594.5h0"/>
<path stroke="#701f81" d="M1276 621h0"/>
<path stroke="#df4a68" d="M898 909h0"/>
<path stroke="#08071e" d="M1668 637.5h0"/>
<path stroke="#180f3d" d="M1544.5 1433.5h0m-843-704h0m705.5-32.5h0"/>
<path stroke="#440f76" d="M1849 636h0"/>
<path stroke="#08071e" d="M1719.5 1271h0"/>
<path stroke="#ca3e72" d="M2213 697.5h0"/>
<path stroke="#b3367a" d="M2207.5 1112.5h0"/>
<path stroke="#5a167e" d="M1473.5 725.5h0"/>
<path stroke="#ef5d5e" d="M2155 599h0"/>
<path stroke="#5a167e" d="M1999.5 612h0m17 77.5h0"/>
<path stroke="#2c115f" d="M1885 644h0"/>
<path stroke="#180f3d" d="M841.5 894h0"/>
<path stroke="#b3367a" d="M1886 637.5h0"/>
<path stroke="#5a167e" d="M1527 952h0"/>
<path stroke="#180f3d" d="M1280 282.5h0"/>
<path stroke="#9c2e7f" d="M884.5 820.5h0"/>
<path stroke="#b3367a" d="M777.5 828.5h0"/>
<path stroke="#180f3d" d="M1501 589.5h0"/>
<path stroke="#ca3e72" d="M2211.5 621h0"/>
<path stroke="#180f3d" d="M1601 719.5h0"/>
<path stroke="#08071e" d="M1871 715h0"/>
<path stroke="#f8765c" d="M2080.5 607.5h0"/>
<path stroke="#440f76" d="M780 1016.5h0"/>
<path stroke="#862781" d="M1931 615.5h0"/>
<path stroke="#2c115f" d="M1703.5 622h0m-1003 262h0"/>
<path stroke="#701f81" d="M1995.5 614h0"/>
<path stroke="#2c115f" d="M610 799.5h0"/>
<path stroke="#5a167e" d="M1871 671.5h0"/>
<path stroke="#862781" d="M830 787h0"/>
<path stroke="#ef5d5e" d="M2193.5 690.5h0"/>
<path stroke="#180f3d" d="M1396 673.5h0m256.5-11.5h0"/>
<path stroke="#701f81" d="M743.5 724h0"/>
<path stroke="#b3367a" d="M869.5 829h0"/>
<path stroke="#2c115f" d="M1275 340h0"/>
<path stroke="#701f81" d="M852.5 821h0"/>
<path stroke="#180f3d" d="M742 791h0"/>
<path stroke="#fec488" d="M2123.5 595.5h0"/>
<path stroke="#08071e" d="M1295 595.5h0"/>
<path stroke="#2c115f" d="M1785 748.5h0"/>
<path stroke="#440f76" d="M1383.5 582h0m117 18h0m420.5 135.5h0"/>
<path stroke="#2c115f" d="M1382.5 542.5h0"/>
<path stroke="#fc9065" d="M1934 617h0"/>
<path stroke="#180f3d" d="M838.5 1242h0m402-925h0"/>
<path stroke="#feaa74" d="M2067 626h0"/>
<path stroke="#9c2e7f" d="M879.5 840h0"/>
<path stroke="#08071e" d="M488.5 769h0m918.5-109h0"/>
<path stroke="#2c115f" d="M2156 586.5h0"/>
<path stroke="#ca3e72" d="M2174.5 683.5h0m-1271.5 157h0"/>
<path stroke="#08071e" d="M1285.5 289.5h0"/>
<path stroke="#440f76" d="M1278.5 382.5h0"/>
<path stroke="#5a167e" d="M1842 622.5h0"/>
<path stroke="#862781" d="M1889.5 697.5h0"/>
<path stroke="#180f3d" d="M1118.5 1023h0m-615-213.5h0m456 544.5h0"/>
<path stroke="#2c115f" d="M1878 618.5h0"/>
<path stroke="#08071e" d="M1313 410h0m240.5 194h0"/>
<path stroke="#701f81" d="M936 918h0"/>
<path stroke="#180f3d" d="M743 794h0"/>
<path stroke="#08071e" d="M1643 1292.5h0m-240-727h0m79.5 161.5h0m75-20.5h0"/>
<path stroke="#180f3d" d="M879.5 1302.5h0"/>
<path stroke="#08071e" d="M628.5 769.5h0"/>
<path stroke="#2c115f" d="M976.5 950h0"/>
<path stroke="#180f3d" d="M1303 395.5h0"/>
<path stroke="#08071e" d="M1320.5 322.5h0"/>
<path stroke="#180f3d" d="M1924 718h0"/>
<path stroke="#ef5d5e" d="M878.5 823.5h0"/>
<path stroke="#2c115f" d="M1779.5 608.5h0"/>
<path stroke="#180f3d" d="M751.5 751.5h0"/>
<path stroke="#08071e" d="M1579 727h0"/>
<path stroke="#2c115f" d="M1306.5 399.5h0"/>
<path stroke="#f8765c" d="M2047.5 614.5h0"/>
<path stroke="#9c2e7f" d="M759 725.5h0"/>
<path stroke="#08071e" d="M1301 317.5h0"/>
<path stroke="#180f3d" d="M1554.5 1444h0"/>
<path stroke="#440f76" d="M1351 357h0"/>
<path stroke="#ef5d5e" d="M896.5 825.5h0"/>
<path stroke="#862781" d="M716 783h0"/>
<path stroke="#180f3d" d="M1609 692.5h0m-80.5-17h0"/>
<path stroke="#ef5d5e" d="M2186.5 678h0"/>
<path stroke="#2c115f" d="M1113.5 422h0"/>
<path stroke="#fc9065" d="M2195 634.5h0"/>
<path stroke="#5a167e" d="M528.5 763h0"/>
<path stroke="#08071e" d="M1393.5 556.5h0"/>
<path stroke="#180f3d" d="M1293.5 348.5h0m26-42.5h0"/>
<path stroke="#2c115f" d="M1589.5 697.5h0"/>
<path stroke="#b3367a" d="M2089.5 587.5h0"/>
<path stroke="#180f3d" d="M1331.5 397.5h0"/>
<path stroke="#440f76" d="M1375.5 386h0"/>
<path stroke="#2c115f" d="M716 726h0"/>
<path stroke="#180f3d" d="M1422 877h0"/>
<path stroke="#ca3e72" d="M2161.5 681.5h0"/>
<path stroke="#440f76" d="M1325 308h0"/>
<path stroke="#180f3d" d="M1613 661.5h0"/>
<path stroke="#08071e" d="M498.5 862h0m913.5-189h0"/>
<path stroke="#440f76" d="M846 793.5h0"/>
<path stroke="#180f3d" d="M923.5 817h0"/>
<path stroke="#2c115f" d="M1509 605h0"/>
<path stroke="#9c2e7f" d="M1919.5 720.5h0"/>
<path stroke="#ef5d5e" d="M2054 592h0"/>
<path stroke="#440f76" d="M586 828h0"/>
<path stroke="#b3367a" d="M790 802h0"/>
<path stroke="#f8765c" d="M1940 618.5h0"/>
<path stroke="#180f3d" d="M1510 616.5h0"/>
<path stroke="#08071e" d="M1430 963.5h0m-94-361.5h0"/>
<path stroke="#701f81" d="M1628.5 970h0"/>
<path stroke="#180f3d" d="M717.5 769h0"/>
<path stroke="#df4a68" d="M2023.5 598h0"/>
<path stroke="#180f3d" d="M1561 615.5h0"/>
<path stroke="#fc9065" d="M2187 689h0m-113-26.5h0"/>
<path stroke="#ef5d5e" d="M2200.5 619.5h0"/>
<path stroke="#5a167e" d="M886.5 843.5h0m605-267.5h0m32 85.5h0"/>
<path stroke="#08071e" d="M1369.5 398h0"/>
<path stroke="#180f3d" d="M652.5 910h0"/>
<path stroke="#2c115f" d="M1431 698h0"/>
<path stroke="#5a167e" d="M2011.5 688h0"/>
<path stroke="#08071e" d="M1487.5 621.5h0"/>
<path stroke="#feaa74" d="M2187.5 627h0"/>
<path stroke="#180f3d" d="M1295 604.5h0"/>
<path stroke="#ef5d5e" d="M2138 592h0"/>
<path stroke="#08071e" d="M1483.5 550.5h0"/>
<path stroke="#5a167e" d="M1588.5 611.5h0"/>
<path stroke="#180f3d" d="M614 761h0"/>
<path stroke="#f8765c" d="M2109.5 666.5h0"/>
<path stroke="#2c115f" d="M617 758h0"/>
<path stroke="#701f81" d="M1568 738.5h0"/>
<path stroke="#08071e" d="M1618 689.5h0"/>
<path stroke="#5a167e" d="M1412.5 555h0m578.5 92h0"/>
<path stroke="#b3367a" d="M2032.5 615.5h0"/>
<path stroke="#9c2e7f" d="M1932.5 634.5h0"/>
<path stroke="#ef5d5e" d="M2073 607h0"/>
<path stroke="#5a167e" d="M1959 611h0"/>
<path stroke="#440f76" d="M923.5 812h0"/>
<path stroke="#2c115f" d="M877 1305.5h0"/>
<path stroke="#180f3d" d="M1477.5 684.5h0"/>
<path stroke="#9c2e7f" d="M1845.5 623.5h0"/>
<path stroke="#440f76" d="M743 739h0"/>
<path stroke="#fec488" d="M2045.5 601h0"/>
<path stroke="#440f76" d="M1249 274h0"/>
<path stroke="#180f3d" d="M1340.5 408h0m90 588h0"/>
<path stroke="#ca3e72" d="M2189 638h0"/>
<path stroke="#2c115f" d="M1284.5 591h0"/>
<path stroke="#5a167e" d="M1948 631.5h0"/>
<path stroke="#2c115f" d="M1318 386h0"/>
<path stroke="#df4a68" d="M1980 625.5h0"/>
<path stroke="#180f3d" d="M1444 447.5h0"/>
<path stroke="#08071e" d="M1287 295h0"/>
<path stroke="#2c115f" d="M400 818.5h0"/>
<path stroke="#08071e" d="M1296.5 293.5h0"/>
<path stroke="#ef5d5e" d="M2192 695h0"/>
<path stroke="#701f81" d="M1760 642h0"/>
<path stroke="#08071e" d="M1567 621h0"/>
<path stroke="#440f76" d="M1510 681h0"/>
<path stroke="#180f3d" d="M1366 630h0"/>
<path stroke="#440f76" d="M1385.5 638.5h0"/>
<path stroke="#5a167e" d="M1429.5 432.5h0"/>
<path stroke="#08071e" d="M1222.5 329h0"/>
<path stroke="#180f3d" d="M1487 555.5h0m-690 215.5h0"/>
<path stroke="#5a167e" d="M1855.5 744h0"/>
<path stroke="#ca3e72" d="M1344.5 355.5h0"/>
<path stroke="#862781" d="M765.5 754.5h0"/>
<path stroke="#2c115f" d="M1515 679h0"/>
<path stroke="#180f3d" d="M1867 678h0"/>
<path stroke="#f8765c" d="M2186.5 609.5h0"/>
<path stroke="#5a167e" d="M482.5 763h0"/>
<path stroke="#08071e" d="M1903 681.5h0"/>
<path stroke="#180f3d" d="M1320.5 403.5h0"/>
<path stroke="#08071e" d="M691 485.5h0m834.5 124.5h0"/>
<path stroke="#180f3d" d="M509 867h0"/>
<path stroke="#f8765c" d="M2130.5 599.5h0"/>
<path stroke="#08071e" d="M736.5 764.5h0"/>
<path stroke="#180f3d" d="M813.5 844.5h0"/>
<path stroke="#b3367a" d="M884.5 841.5h0"/>
<path stroke="#2c115f" d="M1841.5 755.5h0"/>
<path stroke="#08071e" d="M1899.5 712h0"/>
<path stroke="#ef5d5e" d="M2163 594h0"/>
<path stroke="#08071e" d="M1420 707h0"/>
<path stroke="#180f3d" d="M1562 747h0"/>
<path stroke="#08071e" d="M1617 639.5h0m-184-110h0"/>
<path stroke="#180f3d" d="M1244.5 251.5h0m554.5 352.5h0"/>
<path stroke="#08071e" d="M1365 395.5h0"/>
<path stroke="#2c115f" d="M1388.5 597.5h0"/>
<path stroke="#180f3d" d="M1350.5 408h0"/>
<path stroke="#2c115f" d="M1598.5 593.5h0"/>
<path stroke="#5a167e" d="M1868.5 738h0"/>
<path stroke="#08071e" d="M1861 740.5h0"/>
<path stroke="#2c115f" d="M1578.5 1019.5h0m-920.5-122.5h0"/>
<path stroke="#180f3d" d="M1841 662h0"/>
<path stroke="#ef5d5e" d="M2041.5 607h0m120 62.5h0"/>
<path stroke="#701f81" d="M1826.5 623.5h0"/>
<path stroke="#fddea0" d="M2092 597.5h0"/>
<path stroke="#5a167e" d="M1160 445h0"/>
<path stroke="#180f3d" d="M1532.5 689.5h0"/>
<path stroke="#feaa74" d="M2055 606.5h0"/>
<path stroke="#5a167e" d="M880 842.5h0"/>
<path stroke="#b3367a" d="M817 781h0"/>
<path stroke="#feaa74" d="M2203 682.5h0"/>
<path stroke="#440f76" d="M1237 272.5h0"/>
<path stroke="#2c115f" d="M1440.5 623.5h0"/>
<path stroke="#701f81" d="M838.5 824.5h0"/>
<path stroke="#feaa74" d="M2182 609h0"/>
<path stroke="#f8765c" d="M898 813.5h0m1299.5-178h0"/>
<path stroke="#701f81" d="M880 864.5h0"/>
<path stroke="#440f76" d="M1275 285.5h0"/>
<path stroke="#701f81" d="M483 878.5h0"/>
<path stroke="#ef5d5e" d="M2184 600.5h0"/>
<path stroke="#08071e" d="M510.5 721.5h0"/>
<path stroke="#180f3d" d="M1142.5 302.5h0"/>
<path stroke="#ef5d5e" d="M2026.5 614h0"/>
<path stroke="#df4a68" d="M916 914.5h0"/>
<path stroke="#5a167e" d="M551.5 921.5h0m1375-303h0"/>
<path stroke="#08071e" d="M1230.5 258h0"/>
<path stroke="#5a167e" d="M711 1027.5h0"/>
<path stroke="#440f76" d="M1373 600.5h0"/>
<path stroke="#862781" d="M725.5 713.5h0"/>
<path stroke="#180f3d" d="M1277 297h0"/>
<path stroke="#ef5d5e" d="M1985 616h0"/>
<path stroke="#9c2e7f" d="M1553 666h0"/>
<path stroke="#08071e" d="M962.5 1285h0"/>
<path stroke="#862781" d="M792 757h0"/>
<path stroke="#2c115f" d="M1038.5 998.5h0"/>
<path stroke="#180f3d" d="M1579.5 706h0"/>
<path stroke="#08071e" d="M1345.5 589.5h0"/>
<path stroke="#5a167e" d="M1429 567.5h0"/>
<path stroke="#180f3d" d="M1865 620h0"/>
<path stroke="#2c115f" d="M1667 625.5h0"/>
<path stroke="#440f76" d="M1538.5 739.5h0"/>
<path stroke="#2c115f" d="M1498.5 707.5h0"/>
<path stroke="#440f76" d="M668.5 960.5h0"/>
<path stroke="#ef5d5e" d="M2206.5 618h0"/>
<path stroke="#2c115f" d="M1027 970h0"/>
<path stroke="#440f76" d="M1858.5 633.5h0"/>
<path stroke="#180f3d" d="M1588 1017h0"/>
<path stroke="#701f81" d="M1922 699.5h0"/>
<path stroke="#2c115f" d="M1376.5 638.5h0"/>
<path stroke="#180f3d" d="M1584.5 1459h0"/>
<path stroke="#701f81" d="M1998.5 669h0"/>
<path stroke="#f8765c" d="M2210 692h0"/>
<path stroke="#08071e" d="M1239.5 298.5h0"/>
<path stroke="#ef5d5e" d="M2200 629h0"/>
<path stroke="#2c115f" d="M673.5 845.5h0"/>
<path stroke="#08071e" d="M1909.5 657.5h0"/>
<path stroke="#180f3d" d="M1610 1458.5h0"/>
<path stroke="#440f76" d="M1286 329.5h0"/>
<path stroke="#2c115f" d="M1547.5 1478.5h0m-1105-715.5h0"/>
<path stroke="#08071e" d="M1599.5 727h0"/>
<path stroke="#862781" d="M1977 627.5h0"/>
<path stroke="#440f76" d="M1835 640h0"/>
<path stroke="#862781" d="M1742.5 639h0"/>
<path stroke="#180f3d" d="M1225 305.5h0"/>
<path stroke="#2c115f" d="M1511 710.5h0"/>
<path stroke="#b3367a" d="M2026.5 600.5h0"/>
<path stroke="#fec488" d="M2064 597.5h0"/>
<path stroke="#862781" d="M1958 616h0"/>
<path stroke="#fc9065" d="M2048 603.5h0"/>
<path stroke="#08071e" d="M1446 965h0m78.5-266h0"/>
<path stroke="#180f3d" d="M822 721.5h0"/>
<path stroke="#440f76" d="M1253.5 284h0"/>
<path stroke="#9c2e7f" d="M1821 641.5h0"/>
<path stroke="#08071e" d="M705 762.5h0"/>
<path stroke="#5a167e" d="M2025.5 681h0"/>
<path stroke="#701f81" d="M1602 990.5h0"/>
<path stroke="#440f76" d="M879 856h0"/>
<path stroke="#701f81" d="M1279.5 336h0m644.5 285.5h0"/>
<path stroke="#180f3d" d="M1361 626h0"/>
<path stroke="#fec488" d="M2213 624h0"/>
<path stroke="#180f3d" d="M1336.5 403.5h0"/>
<path stroke="#2c115f" d="M738 722.5h0"/>
<path stroke="#08071e" d="M1554 669h0"/>
<path stroke="#862781" d="M2210.5 686.5h0"/>
<path stroke="#5a167e" d="M1630 982h0"/>
<path stroke="#180f3d" d="M740 879h0"/>
<path stroke="#701f81" d="M1653.5 617h0"/>
<path stroke="#180f3d" d="M1839 740.5h0m-1175.5-28h0"/>
<path stroke="#2c115f" d="M746 756h0"/>
<path stroke="#df4a68" d="M2105 597.5h0"/>
<path stroke="#9c2e7f" d="M1894 704.5h0"/>
<path stroke="#08071e" d="M1366 373h0m-76 246.5h0"/>
<path stroke="#862781" d="M693 765h0"/>
<path stroke="#701f81" d="M698.5 758.5h0"/>
<path stroke="#180f3d" d="M1383 655.5h0"/>
<path stroke="#ca3e72" d="M2022 614h0"/>
<path stroke="#08071e" d="M1899 716h0"/>
<path stroke="#440f76" d="M893 899.5h0"/>
<path stroke="#2c115f" d="M1567.5 996.5h0"/>
<path stroke="#b3367a" d="M1932.5 610.5h0"/>
<path stroke="#440f76" d="M1292.5 290.5h0"/>
<path stroke="#180f3d" d="M1285 392.5h0m-528.5 473h0"/>
<path stroke="#f8765c" d="M2173 604.5h0"/>
<path stroke="#08071e" d="M1514 710.5h0"/>
<path stroke="#2c115f" d="M1170.5 276.5h0"/>
<path stroke="#862781" d="M875.5 841.5h0"/>
<path stroke="#440f76" d="M587.5 870.5h0"/>
<path stroke="#08071e" d="M1238.5 268.5h0"/>
<path stroke="#701f81" d="M1653.5 651.5h0"/>
<path stroke="#fddea0" d="M2006 604h0"/>
<path stroke="#180f3d" d="M1621 667h0m237.5 6.5h0"/>
<path stroke="#df4a68" d="M2157.5 678h0"/>
<path stroke="#180f3d" d="M1519 682.5h0"/>
<path stroke="#fec488" d="M2192 648.5h0"/>
<path stroke="#180f3d" d="M1532 713h0"/>
<path stroke="#440f76" d="M1876.5 642h0"/>
<path stroke="#180f3d" d="M1911.5 635h0m-323 349.5h0"/>
<path stroke="#2c115f" d="M1543.5 1007.5h0"/>
<path stroke="#180f3d" d="M1986 332h0"/>
<path stroke="#df4a68" d="M2198.5 608.5h0"/>
<path stroke="#b3367a" d="M2130 677h0"/>
<path stroke="#9c2e7f" d="M1415.5 680h0"/>
<path stroke="#180f3d" d="M1734 631h0m-210.5 8.5h0"/>
<path stroke="#5a167e" d="M1819 650.5h0"/>
<path stroke="#180f3d" d="M1591 736h0"/>
<path stroke="#fec488" d="M2093 616h0"/>
<path stroke="#440f76" d="M1658 1478.5h0"/>
<path stroke="#08071e" d="M1336.5 407.5h0m13.5-27.5h0"/>
<path stroke="#180f3d" d="M1253.5 305.5h0"/>
<path stroke="#701f81" d="M1364 388h0"/>
<path stroke="#08071e" d="M1574.5 625h0m-165-41.5h0"/>
<path stroke="#2c115f" d="M862 824h0"/>
<path stroke="#440f76" d="M1318.5 373h0"/>
<path stroke="#180f3d" d="M714 733.5h0m1187.5-70.5h0"/>
<path stroke="#440f76" d="M1485.5 719.5h0"/>
<path stroke="#08071e" d="M1319.5 370h0"/>
<path stroke="#180f3d" d="M1867 671.5h0"/>
<path stroke="#2c115f" d="M1826.5 633.5h0"/>
<path stroke="#9c2e7f" d="M1914.5 633.5h0"/>
<path stroke="#701f81" d="M1560.5 608.5h0"/>
<path stroke="#180f3d" d="M1563 730h0"/>
<path stroke="#2c115f" d="M1274 311.5h0m689 406.5h0"/>
<path stroke="#180f3d" d="M1358 569h0m-106.5-294.5h0m197 325.5h0"/>
<path stroke="#08071e" d="M1349 330h0"/>
<path stroke="#180f3d" d="M1202 399h0"/>
<path stroke="#440f76" d="M1352 372h0"/>
<path stroke="#2c115f" d="M1700 703h0"/>
<path stroke="#5a167e" d="M1888.5 618h0"/>
<path stroke="#fc9065" d="M1929.5 644h0"/>
<path stroke="#2c115f" d="M1307 315.5h0"/>
<path stroke="#b3367a" d="M1380.5 348.5h0"/>
<path stroke="#ca3e72" d="M2200 690h0m-910.5-265.5h0"/>
<path stroke="#08071e" d="M549 767h0m875.5-198.5h0"/>
<path stroke="#701f81" d="M1554.5 716h0"/>
<path stroke="#440f76" d="M1265.5 396.5h0"/>
<path stroke="#2c115f" d="M1340.5 575.5h0"/>
<path stroke="#feaa74" d="M2161 655.5h0"/>
<path stroke="#180f3d" d="M1733.5 655.5h0"/>
<path stroke="#440f76" d="M1347.5 585h0"/>
<path stroke="#08071e" d="M1294 373.5h0"/>
<path stroke="#2c115f" d="M1865.5 646.5h0"/>
<path stroke="#08071e" d="M1256 342h0"/>
<path stroke="#f8765c" d="M2012 600.5h0"/>
<path stroke="#180f3d" d="M1791.5 636.5h0"/>
<path stroke="#440f76" d="M1895 718h0"/>
<path stroke="#df4a68" d="M2093 607h0"/>
<path stroke="#180f3d" d="M1353.5 347h0"/>
<path stroke="#862781" d="M811.5 786h0"/>
<path stroke="#440f76" d="M693.5 718h0"/>
<path stroke="#180f3d" d="M1403 676h0"/>
<path stroke="#701f81" d="M1498.5 639h0"/>
<path stroke="#2c115f" d="M1837 652h0"/>
<path stroke="#5a167e" d="M1549 661h0"/>
<path stroke="#2c115f" d="M1496.5 678.5h0"/>
<path stroke="#5a167e" d="M933.5 917h0"/>
<path stroke="#440f76" d="M765.5 866.5h0"/>
<path stroke="#2c115f" d="M1801 763.5h0"/>
<path stroke="#5a167e" d="M807 777.5h0"/>
<path stroke="#440f76" d="M743.5 795h0"/>
<path stroke="#ca3e72" d="M2087 610h0"/>
<path stroke="#180f3d" d="M1853 668h0"/>
<path stroke="#5a167e" d="M1567 632.5h0m-976.5 134.5h0"/>
<path stroke="#180f3d" d="M1662 1273.5h0"/>
<path stroke="#440f76" d="M1249.5 312.5h0"/>
<path stroke="#180f3d" d="M1774.5 638h0"/>
<path stroke="#5a167e" d="M1904.5 689h0"/>
<path stroke="#701f81" d="M1849 632h0"/>
<path stroke="#fec488" d="M2217 608h0"/>
<path stroke="#5a167e" d="M1433.5 564h0"/>
<path stroke="#862781" d="M2037 688h0"/>
<path stroke="#08071e" d="M790.5 777h0m541-454.5h0"/>
<path stroke="#2c115f" d="M1463 688h0"/>
<path stroke="#701f81" d="M1628 628.5h0"/>
<path stroke="#fddea0" d="M2150.5 646.5h0"/>
<path stroke="#180f3d" d="M1244.5 270.5h0"/>
<path stroke="#fc9065" d="M2052 602.5h0"/>
<path stroke="#9c2e7f" d="M1958.5 628.5h0"/>
<path stroke="#862781" d="M877 830h0"/>
<path stroke="#701f81" d="M893.5 904h0"/>
<path stroke="#5a167e" d="M1805 764h0"/>
<path stroke="#08071e" d="M1516.5 650h0"/>
<path stroke="#440f76" d="M1437 635h0"/>
<path stroke="#180f3d" d="M624.5 908.5h0"/>
<path stroke="#440f76" d="M1927 715h0"/>
<path stroke="#180f3d" d="M1942.5 688h0m-1000.5 646.5h0"/>
<path stroke="#5a167e" d="M1866.5 711h0m-98.5-66.5h0"/>
<path stroke="#08071e" d="M1409.5 590.5h0"/>
<path stroke="#2c115f" d="M563.5 726h0"/>
<path stroke="#ca3e72" d="M2010.5 611h0"/>
<path stroke="#df4a68" d="M907.5 921h0"/>
<path stroke="#ef5d5e" d="M1831.5 656.5h0"/>
<path stroke="#440f76" d="M1726.5 608.5h0"/>
<path stroke="#180f3d" d="M1290 330h0"/>
<path stroke="#b3367a" d="M1941 609.5h0"/>
<path stroke="#2c115f" d="M1435 607.5h0"/>
<path stroke="#180f3d" d="M650.5 905.5h0"/>
<path stroke="#440f76" d="M1983 329.5h0"/>
<path stroke="#df4a68" d="M2058.5 605h0"/>
<path stroke="#180f3d" d="M1803.5 609.5h0"/>
<path stroke="#440f76" d="M2008 605.5h0"/>
<path stroke="#180f3d" d="M687.5 712.5h0m873-73.5h0"/>
<path stroke="#08071e" d="M790 848.5h0"/>
<path stroke="#5a167e" d="M1494.5 668h0"/>
<path stroke="#08071e" d="M1478.5 625.5h0"/>
<path stroke="#ef5d5e" d="M1926.5 636h0m239.5 32.5h0"/>
<path stroke="#180f3d" d="M822.5 720h0"/>
<path stroke="#08071e" d="M1495.5 616h0m52.5 129.5h0"/>
<path stroke="#2c115f" d="M1059.5 988.5h0"/>
<path stroke="#ca3e72" d="M2166.5 597h0"/>
<path stroke="#08071e" d="M719.5 715.5h0"/>
<path stroke="#2c115f" d="M1455 676h0"/>
<path stroke="#180f3d" d="M1821.5 623.5h0"/>
<path stroke="#08071e" d="M1284.5 368.5h0"/>
<path stroke="#5a167e" d="M1534.5 597.5h0"/>
<path stroke="#2c115f" d="M794 994h0"/>
<path stroke="#5a167e" d="M1646 691.5h0"/>
<path stroke="#440f76" d="M1332.5 593h0"/>
<path stroke="#2c115f" d="M1339.5 330.5h0"/>
<path stroke="#701f81" d="M417.5 764h0"/>
<path stroke="#180f3d" d="M679.5 717.5h0"/>
<path stroke="#862781" d="M1905 684h0"/>
<path stroke="#440f76" d="M1883.5 685h0"/>
<path stroke="#862781" d="M1923.5 679h0"/>
<path stroke="#08071e" d="M1329 639.5h0"/>
<path stroke="#180f3d" d="M1357 351.5h0"/>
<path stroke="#2c115f" d="M592 850h0m118.5-126.5h0"/>
<path stroke="#180f3d" d="M1281.5 393.5h0"/>
<path stroke="#9c2e7f" d="M2048.5 681h0"/>
<path stroke="#2c115f" d="M560 785.5h0"/>
<path stroke="#180f3d" d="M1873.5 670h0"/>
<path stroke="#2c115f" d="M1614.5 973.5h0"/>
<path stroke="#ef5d5e" d="M886 827h0"/>
<path stroke="#08071e" d="M1926 703.5h0m-596.5-334h0m-31 226h0"/>
<path stroke="#ef5d5e" d="M2075 612.5h0"/>
<path stroke="#180f3d" d="M735.5 797.5h0"/>
<path stroke="#701f81" d="M785 783h0"/>
<path stroke="#180f3d" d="M1211.5 270h0"/>
<path stroke="#5a167e" d="M1981.5 607.5h0"/>
<path stroke="#440f76" d="M926 920h0"/>
<path stroke="#5a167e" d="M1955.5 635.5h0"/>
<path stroke="#2c115f" d="M706 803.5h0"/>
<path stroke="#08071e" d="M1866 626.5h0"/>
<path stroke="#180f3d" d="M1516.5 690.5h0"/>
<path stroke="#08071e" d="M855.5 723.5h0"/>
<path stroke="#fec488" d="M2133.5 598.5h0"/>
<path stroke="#180f3d" d="M1465.5 685h0"/>
<path stroke="#2c115f" d="M1845 656.5h0"/>
<path stroke="#9c2e7f" d="M1018.5 977h0"/>
<path stroke="#5a167e" d="M1291.5 404.5h0"/>
<path stroke="#08071e" d="M1257.5 303.5h0"/>
<path stroke="#2c115f" d="M834.5 836h0"/>
<path stroke="#180f3d" d="M1425.5 904.5h0"/>
<path stroke="#08071e" d="M1372.5 651.5h0"/>
<path stroke="#9c2e7f" d="M2060 610h0"/>
<path stroke="#2c115f" d="M1984.5 332h0"/>
<path stroke="#180f3d" d="M744 846.5h0"/>
<path stroke="#5a167e" d="M1209.5 467h0"/>
<path stroke="#862781" d="M788 765.5h0"/>
<path stroke="#180f3d" d="M1328 351.5h0"/>
<path stroke="#ef5d5e" d="M2164 665.5h0"/>
<path stroke="#f8765c" d="M2064.5 613h0"/>
<path stroke="#08071e" d="M1303.5 300.5h0m-66-40h0"/>
<path stroke="#ca3e72" d="M878 821.5h0"/>
<path stroke="#701f81" d="M1814.5 615h0"/>
<path stroke="#ef5d5e" d="M2035 662.5h0"/>
<path stroke="#08071e" d="M1812.5 761.5h0"/>
<path stroke="#b3367a" d="M2201.5 627h0"/>
<path stroke="#2c115f" d="M1362.5 674h0"/>
<path stroke="#440f76" d="M1596.5 993h0"/>
<path stroke="#df4a68" d="M929.5 814h0"/>
<path stroke="#180f3d" d="M1137.5 423h0"/>
<path stroke="#862781" d="M2116 648h0"/>
<path stroke="#5a167e" d="M1441.5 595h0"/>
<path stroke="#180f3d" d="M1992 704h0m-696-428.5h0"/>
<path stroke="#fddea0" d="M2087.5 589.5h0"/>
<path stroke="#f8765c" d="M2084 597h0"/>
<path stroke="#08071e" d="M1253.5 276.5h0"/>
<path stroke="#701f81" d="M1472.5 719.5h0"/>
<path stroke="#df4a68" d="M2150 601h0"/>
<path stroke="#08071e" d="M1486.5 724.5h0"/>
<path stroke="#2c115f" d="M1857.5 624.5h0m-35 0h0"/>
<path stroke="#ef5d5e" d="M2111.5 593h0"/>
<path stroke="#fc9065" d="M2043 595.5h0"/>
<path stroke="#440f76" d="M1312.5 355h0"/>
<path stroke="#5a167e" d="M1451 602h0"/>
<path stroke="#2c115f" d="M1860.5 648.5h0m-1141 82h0m748-7.5h0"/>
<path stroke="#08071e" d="M1681.5 633h0"/>
<path stroke="#180f3d" d="M713 711.5h0"/>
<path stroke="#feaa74" d="M2194.5 629h0"/>
<path stroke="#701f81" d="M940 918h0m590-260h0"/>
<path stroke="#08071e" d="M825 829.5h0"/>
<path stroke="#2c115f" d="M748.5 781.5h0"/>
<path stroke="#5a167e" d="M1904 719h0"/>
<path stroke="#08071e" d="M1824.5 616h0m-134.5-2h0"/>
<path stroke="#ca3e72" d="M2149.5 664.5h0"/>
<path stroke="#862781" d="M895.5 916.5h0"/>
<path stroke="#440f76" d="M1322.5 345.5h0m-602.5 678h0"/>
<path stroke="#180f3d" d="M992 1341h0"/>
<path stroke="#fc9065" d="M2075.5 609h0"/>
<path stroke="#701f81" d="M634 914h0"/>
<path stroke="#2c115f" d="M899.5 815.5h0"/>
<path stroke="#862781" d="M1977 632.5h0"/>
<path stroke="#2c115f" d="M630.5 743h0m919 713.5h0"/>
<path stroke="#180f3d" d="M1454.5 643.5h0"/>
<path stroke="#08071e" d="M1481.5 934h0"/>
<path stroke="#5a167e" d="M1266 317h0"/>
<path stroke="#ca3e72" d="M724 721h0"/>
<path stroke="#440f76" d="M1694.5 1463h0m-57-754h0"/>
<path stroke="#5a167e" d="M1385.5 568.5h0"/>
<path stroke="#08071e" d="M1419 697h0"/>
<path stroke="#180f3d" d="M1604 1338h0"/>
<path stroke="#5a167e" d="M1604.5 970h0"/>
<path stroke="#701f81" d="M1408 892.5h0"/>
<path stroke="#440f76" d="M847.5 833.5h0"/>
<path stroke="#ca3e72" d="M2197.5 695h0"/>
<path stroke="#08071e" d="M1153.5 1255.5h0"/>
<path stroke="#df4a68" d="M915.5 812h0"/>
<path stroke="#08071e" d="M1433 576h0m-265-211h0m103.5-100.5h0"/>
<path stroke="#fec488" d="M2182.5 630h0"/>
<path stroke="#08071e" d="M1956.5 728h0"/>
<path stroke="#2c115f" d="M1328 373h0"/>
<path stroke="#5a167e" d="M1905 700h0"/>
<path stroke="#180f3d" d="M1755 654.5h0"/>
<path stroke="#5a167e" d="M1450 1196h0"/>
<path stroke="#9c2e7f" d="M874 856.5h0"/>
<path stroke="#180f3d" d="M1309 333.5h0"/>
<path stroke="#08071e" d="M1277.5 353.5h0"/>
<path stroke="#5a167e" d="M1901.5 645.5h0"/>
<path stroke="#440f76" d="M1376.5 343.5h0"/>
<path stroke="#08071e" d="M1346.5 408.5h0"/>
<path stroke="#701f81" d="M1635.5 961h0"/>
<path stroke="#2c115f" d="M1257 350.5h0m53 215.5h0"/>
<path stroke="#5a167e" d="M1900.5 702h0"/>
<path stroke="#2c115f" d="M1135 981h0"/>
<path stroke="#862781" d="M784 753.5h0"/>
<path stroke="#9c2e7f" d="M2038.5 611.5h0"/>
<path stroke="#2c115f" d="M699 716.5h0"/>
<path stroke="#f8765c" d="M2168 600h0"/>
<path stroke="#df4a68" d="M2203.5 687.5h0"/>
<path stroke="#180f3d" d="M411.5 836.5h0"/>
<path stroke="#5a167e" d="M752.5 841.5h0"/>
<path stroke="#08071e" d="M1307 622h0"/>
<path stroke="#180f3d" d="M1175.5 296.5h0"/>
<path stroke="#b3367a" d="M2034.5 608.5h0"/>
<path stroke="#180f3d" d="M1713 629.5h0"/>
<path stroke="#9c2e7f" d="M865 813h0"/>
<path stroke="#08071e" d="M1458 663h0m-104-102h0"/>
<path stroke="#f8765c" d="M2218 692h0"/>
<path stroke="#ca3e72" d="M1293 413h0"/>
<path stroke="#180f3d" d="M971.5 1271.5h0"/>
<path stroke="#feaa74" d="M2188.5 601h0"/>
<path stroke="#08071e" d="M1468.5 647h0"/>
<path stroke="#180f3d" d="M1701 645h0"/>
<path stroke="#440f76" d="M1549.5 674h0"/>
<path stroke="#08071e" d="M786.5 854h0"/>
<path stroke="#440f76" d="M1423 527.5h0"/>
<path stroke="#180f3d" d="M703.5 683.5h0"/>
<path stroke="#862781" d="M885 920.5h0"/>
<path stroke="#180f3d" d="M702.5 714h0m968-42.5h0m-85 282h0"/>
<path stroke="#08071e" d="M1864.5 715h0"/>
<path stroke="#5a167e" d="M1770 631.5h0"/>
<path stroke="#440f76" d="M1233.5 256.5h0"/>
<path stroke="#2c115f" d="M1263 321h0"/>
<path stroke="#180f3d" d="M475.5 713.5h0"/>
<path stroke="#2c115f" d="M1140.5 407h0"/>
<path stroke="#df4a68" d="M2195 626h0"/>
<path stroke="#2c115f" d="M680 867.5h0"/>
<path stroke="#180f3d" d="M1279 293h0"/>
<path stroke="#08071e" d="M1411.5 631.5h0"/>
<path stroke="#180f3d" d="M1321.5 399h0"/>
<path stroke="#df4a68" d="M891.5 831h0"/>
<path stroke="#5a167e" d="M820.5 835h0"/>
<path stroke="#9c2e7f" d="M895.5 840.5h0"/>
<path stroke="#440f76" d="M1413.5 653.5h0"/>
<path stroke="#180f3d" d="M587 805.5h0"/>
<path stroke="#08071e" d="M1596.5 688.5h0m-137-23h0"/>
<path stroke="#862781" d="M2146.5 662h0"/>
<path stroke="#2c115f" d="M819 786.5h0"/>
<path stroke="#08071e" d="M1281 401.5h0"/>
<path stroke="#df4a68" d="M1308.5 412h0m-630 292h0"/>
<path stroke="#5a167e" d="M745 766h0"/>
<path stroke="#08071e" d="M1282 331h0"/>
<path stroke="#fc9065" d="M2171.5 602.5h0"/>
<path stroke="#9c2e7f" d="M1973 628.5h0"/>
<path stroke="#180f3d" d="M724.5 732.5h0"/>
<path stroke="#2c115f" d="M732.5 1046h0m690.5-60h0"/>
<path stroke="#df4a68" d="M2090 592.5h0"/>
<path stroke="#2c115f" d="M1721.5 644.5h0"/>
<path stroke="#180f3d" d="M427 863h0"/>
<path stroke="#ca3e72" d="M903 820.5h0"/>
<path stroke="#180f3d" d="M754.5 732.5h0"/>
<path stroke="#ef5d5e" d="M2182.5 634.5h0"/>
<path stroke="#5a167e" d="M1495 711.5h0"/>
<path stroke="#180f3d" d="M783.5 846.5h0"/>
<path stroke="#ca3e72" d="M2168.5 682.5h0"/>
<path stroke="#08071e" d="M1263 311.5h0"/>
<path stroke="#180f3d" d="M1419.5 638.5h0"/>
<path stroke="#08071e" d="M1427.5 560h0"/>
<path stroke="#180f3d" d="M1395 569h0"/>
<path stroke="#08071e" d="M1843 605h0"/>
<path stroke="#862781" d="M1929 737h0"/>
<path stroke="#ca3e72" d="M2177 630h0"/>
<path stroke="#ef5d5e" d="M2199 686h0"/>
<path stroke="#440f76" d="M1869.5 727.5h0"/>
<path stroke="#08071e" d="M1290 287.5h0"/>
<path stroke="#ef5d5e" d="M2150.5 669h0"/>
<path stroke="#f8765c" d="M2148.5 598h0"/>
<path stroke="#2c115f" d="M1402.5 639.5h0"/>
<path stroke="#df4a68" d="M2136.5 588h0"/>
<path stroke="#2c115f" d="M1051.5 986h0"/>
<path stroke="#feaa74" d="M2183.5 620.5h0"/>
<path stroke="#ca3e72" d="M2140.5 593.5h0"/>
<path stroke="#08071e" d="M565 893.5h0m860.5-273.5h0"/>
<path stroke="#440f76" d="M768.5 1026.5h0"/>
<path stroke="#2c115f" d="M1479 598h0"/>
<path stroke="#fc9065" d="M2222 622.5h0"/>
<path stroke="#ef5d5e" d="M2107 591.5h0"/>
<path stroke="#9c2e7f" d="M2204.5 678.5h0"/>
<path stroke="#180f3d" d="M468 755h0"/>
<path stroke="#f8765c" d="M887.5 819h0"/>
<path stroke="#5a167e" d="M1359 556.5h0"/>
<path stroke="#180f3d" d="M883 901h0"/>
<path stroke="#08071e" d="M1950 732h0"/>
<path stroke="#f8765c" d="M2157 672h0"/>
<path stroke="#180f3d" d="M1273 355h0"/>
<path stroke="#08071e" d="M1611 728.5h0m238.5-53h0"/>
<path stroke="#fec488" d="M2194.5 698h0"/>
<path stroke="#180f3d" d="M1511.5 964h0"/>
<path stroke="#440f76" d="M1149.5 422h0"/>
<path stroke="#2c115f" d="M742 831h0"/>
<path stroke="#440f76" d="M1368.5 676.5h0"/>
<path stroke="#5a167e" d="M813 775h0"/>
<path stroke="#b3367a" d="M1426.5 867h0"/>
<path stroke="#180f3d" d="M1482 700.5h0"/>
<path stroke="#5a167e" d="M1942.5 683h0"/>
<path stroke="#440f76" d="M670 699.5h0"/>
<path stroke="#b3367a" d="M2188.5 624h0"/>
<path stroke="#feaa74" d="M2168.5 658h0"/>
<path stroke="#180f3d" d="M572 911.5h0"/>
<path stroke="#df4a68" d="M1949 676.5h0"/>
<path stroke="#f8765c" d="M2134.5 603.5h0"/>
<path stroke="#9c2e7f" d="M2192.5 632h0"/>
<path stroke="#2c115f" d="M1836.5 753h0"/>
<path stroke="#b3367a" d="M1293 328h0"/>
<path stroke="#2c115f" d="M1082.5 447.5h0"/>
<path stroke="#08071e" d="M1730.5 645h0m-446-318.5h0m141 302.5h0"/>
<path stroke="#701f81" d="M1938.5 685h0"/>
<path stroke="#180f3d" d="M1303.5 329.5h0"/>
<path stroke="#f8765c" d="M1927 653.5h0"/>
<path stroke="#5a167e" d="M712.5 951.5h0"/>
<path stroke="#2c115f" d="M772 738.5h0"/>
<path stroke="#b3367a" d="M2143 664h0"/>
<path stroke="#ef5d5e" d="M868.5 843h0"/>
<path stroke="#5a167e" d="M1922 628.5h0"/>
<path stroke="#f8765c" d="M2112 671h0"/>
<path stroke="#9c2e7f" d="M886.5 835.5h0"/>
<path stroke="#2c115f" d="M1909.5 696h0"/>
<path stroke="#08071e" d="M1520 654.5h0"/>
<path stroke="#180f3d" d="M1546.5 675.5h0"/>
<path stroke="#2c115f" d="M1287 278.5h0"/>
<path stroke="#fc9065" d="M1971 622h0"/>
<path stroke="#9c2e7f" d="M813.5 799.5h0"/>
<path stroke="#5a167e" d="M1862 610.5h0m-1390.5 93.5h0"/>
<path stroke="#b3367a" d="M1974.5 624h0"/>
<path stroke="#5a167e" d="M1618.5 600h0"/>
<path stroke="#180f3d" d="M1514.5 701h0"/>
<path stroke="#440f76" d="M1468 635.5h0"/>
<path stroke="#feaa74" d="M2166.5 623.5h0"/>
<path stroke="#b3367a" d="M1403.5 655h0"/>
<path stroke="#440f76" d="M717.5 738h0"/>
<path stroke="#180f3d" d="M1277 300h0m20 307h0"/>
<path stroke="#fc9065" d="M2062.5 610h0"/>
<path stroke="#08071e" d="M1367.5 610.5h0"/>
<path stroke="#180f3d" d="M736.5 787h0"/>
<path stroke="#ef5d5e" d="M2038 594.5h0"/>
<path stroke="#180f3d" d="M1011 1301h0"/>
<path stroke="#5a167e" d="M1795.5 637h0"/>
<path stroke="#180f3d" d="M1370 385.5h0"/>
<path stroke="#08071e" d="M1299.5 307h0"/>
<path stroke="#2c115f" d="M828.5 791h0"/>
<path stroke="#08071e" d="M1165.5 457h0"/>
<path stroke="#b3367a" d="M2070.5 590h0"/>
<path stroke="#5a167e" d="M803 781.5h0m521-132.5h0"/>
<path stroke="#08071e" d="M1265.5 354.5h0"/>
<path stroke="#df4a68" d="M896 830.5h0"/>
<path stroke="#08071e" d="M1366.5 639.5h0m231-66.5h0m-248-203h0"/>
<path stroke="#2c115f" d="M909.5 814.5h0"/>
<path stroke="#08071e" d="M1575 735.5h0"/>
<path stroke="#5a167e" d="M1082.5 419.5h0"/>
<path stroke="#2c115f" d="M1205 420h0"/>
<path stroke="#08071e" d="M1506.5 712.5h0"/>
<path stroke="#df4a68" d="M1943 631.5h0"/>
<path stroke="#180f3d" d="M1713.5 1425h0"/>
<path stroke="#fcf7b9" d="M2168.5 619h0"/>
<path stroke="#701f81" d="M831 830.5h0"/>
<path stroke="#ca3e72" d="M1311.5 305.5h0"/>
<path stroke="#180f3d" d="M1435.5 572h0"/>
<path stroke="#440f76" d="M690 713.5h0"/>
<path stroke="#08071e" d="M1268 395h0"/>
<path stroke="#2c115f" d="M724 810.5h0"/>
<path stroke="#701f81" d="M1356.5 650.5h0"/>
<path stroke="#08071e" d="M1293 278h0"/>
<path stroke="#9c2e7f" d="M1875.5 660h0"/>
<path stroke="#180f3d" d="M1458 719.5h0m87.5-72.5h0"/>
<path stroke="#f8765c" d="M894 811.5h0"/>
<path stroke="#fddea0" d="M2221.5 623h0"/>
<path stroke="#9c2e7f" d="M1869 628h0"/>
<path stroke="#180f3d" d="M1795.5 604.5h0m-443-199.5h0"/>
<path stroke="#5a167e" d="M1402 673h0"/>
<path stroke="#440f76" d="M1302 585h0"/>
<path stroke="#862781" d="M727.5 726.5h0"/>
<path stroke="#2c115f" d="M1335 563h0m257.5 166h0m-1099 138.5h0"/>
<path stroke="#440f76" d="M2009 675.5h0"/>
<path stroke="#2c115f" d="M1365.5 523.5h0"/>
<path stroke="#180f3d" d="M1674 1461h0"/>
<path stroke="#fec488" d="M2041 613.5h0"/>
<path stroke="#08071e" d="M1287.5 406h0"/>
<path stroke="#df4a68" d="M2122 605.5h0"/>
<path stroke="#180f3d" d="M762 1025.5h0"/>
<path stroke="#df4a68" d="M2015 671.5h0"/>
<path stroke="#fc9065" d="M2134 607h0"/>
<path stroke="#df4a68" d="M2191 678h0"/>
<path stroke="#2c115f" d="M1448.5 687h0"/>
<path stroke="#180f3d" d="M1391 652h0"/>
<path stroke="#5a167e" d="M1332 377h0"/>
<path stroke="#2c115f" d="M522 828h0"/>
<path stroke="#fec488" d="M2116.5 586h0"/>
<path stroke="#5a167e" d="M804 840h0"/>
<path stroke="#08071e" d="M1465 674.5h0"/>
<path stroke="#ca3e72" d="M2130.5 595h0"/>
<path stroke="#fc9065" d="M2194 619h0"/>
<path stroke="#440f76" d="M1996.5 610.5h0"/>
<path stroke="#2c115f" d="M1893 697h0"/>
<path stroke="#180f3d" d="M1155 455h0"/>
<path stroke="#5a167e" d="M524 805.5h0"/>
<path stroke="#08071e" d="M1331.5 359h0"/>
<path stroke="#9c2e7f" d="M2068 613.5h0"/>
<path stroke="#862781" d="M1867 638h0"/>
<path stroke="#5a167e" d="M1616.5 947h0"/>
<path stroke="#440f76" d="M1475.5 702h0"/>
<path stroke="#fec488" d="M2171 682.5h0"/>
<path stroke="#08071e" d="M1420 601h0m42.5-34.5h0"/>
<path stroke="#180f3d" d="M1510.5 592.5h0"/>
<path stroke="#08071e" d="M1528.5 623.5h0"/>
<path stroke="#ca3e72" d="M745 758.5h0"/>
<path stroke="#2c115f" d="M814 968h0"/>
<path stroke="#fddea0" d="M2073.5 589h0"/>
<path stroke="#2c115f" d="M1324 580h0"/>
<path stroke="#180f3d" d="M1587 695h0"/>
<path stroke="#701f81" d="M1500 681.5h0"/>
<path stroke="#180f3d" d="M1312 635h0"/>
<path stroke="#9c2e7f" d="M899.5 925h0"/>
<path stroke="#2c115f" d="M1504 701h0"/>
<path stroke="#08071e" d="M1426.5 649h0"/>
<path stroke="#701f81" d="M1919.5 655h0"/>
<path stroke="#9c2e7f" d="M1985 625h0"/>
<path stroke="#180f3d" d="M1241.5 460.5h0"/>
<path stroke="#b3367a" d="M1886 648h0"/>
<path stroke="#701f81" d="M2143.5 1112h0"/>
<path stroke="#180f3d" d="M1283.5 353h0m702.5 356.5h0"/>
<path stroke="#5a167e" d="M1342.5 602.5h0"/>
<path stroke="#180f3d" d="M1349 404h0"/>
<path stroke="#df4a68" d="M1835.5 625.5h0"/>
<path stroke="#2c115f" d="M1359 362h0m-309.5 642h0"/>
<path stroke="#08071e" d="M1507.5 687.5h0"/>
<path stroke="#180f3d" d="M1556.5 681.5h0"/>
<path stroke="#f8765c" d="M2015.5 609h0"/>
<path stroke="#5a167e" d="M1988.5 617h0"/>
<path stroke="#9c2e7f" d="M1482.5 628.5h0"/>
<path stroke="#2c115f" d="M1274 319h0"/>
<path stroke="#862781" d="M1884 711.5h0"/>
<path stroke="#fec488" d="M2180 675.5h0"/>
<path stroke="#08071e" d="M1410.5 543h0"/>
<path stroke="#5a167e" d="M1281.5 623.5h0"/>
<path stroke="#fc9065" d="M2094 590h0"/>
<path stroke="#fddea0" d="M2214.5 692.5h0"/>
<path stroke="#5a167e" d="M916.5 816h0m942-121.5h0"/>
<path stroke="#180f3d" d="M1504 713h0"/>
<path stroke="#08071e" d="M1317.5 326h0"/>
<path stroke="#862781" d="M926.5 814.5h0"/>
<path stroke="#2c115f" d="M413.5 847h0"/>
<path stroke="#180f3d" d="M1838 669h0"/>
<path stroke="#08071e" d="M1564 552h0"/>
<path stroke="#440f76" d="M1507.5 643h0m-578.5 273.5h0"/>
<path stroke="#fec488" d="M2190.5 621h0"/>
<path stroke="#5a167e" d="M1206.5 1276h0"/>
<path stroke="#df4a68" d="M2147 592.5h0"/>
<path stroke="#180f3d" d="M477.5 760.5h0"/>
<path stroke="#08071e" d="M1301 314h0"/>
<path stroke="#180f3d" d="M616 813.5h0m818.5 185h0m552-651h0"/>
<path stroke="#440f76" d="M777 741h0"/>
<path stroke="#701f81" d="M991.5 924h0"/>
<path stroke="#f8765c" d="M2003 610h0"/>
<path stroke="#180f3d" d="M1190.5 426h0"/>
<path stroke="#08071e" d="M1366 559h0"/>
<path stroke="#180f3d" d="M1616 997h0"/>
<path stroke="#08071e" d="M1328 625h0"/>
<path stroke="#440f76" d="M763.5 762h0"/>
<path stroke="#08071e" d="M1288.5 634.5h0"/>
<path stroke="#2c115f" d="M1314 615h0"/>
<path stroke="#180f3d" d="M1400 577.5h0"/>
<path stroke="#2c115f" d="M1396 599.5h0"/>
<path stroke="#5a167e" d="M1435.5 697.5h0"/>
<path stroke="#9c2e7f" d="M906.5 813.5h0"/>
<path stroke="#440f76" d="M1235.5 285.5h0"/>
<path stroke="#b3367a" d="M1454.5 567h0"/>
<path stroke="#5a167e" d="M1450.5 719.5h0"/>
<path stroke="#2c115f" d="M706 733.5h0"/>
<path stroke="#5a167e" d="M1974 632.5h0"/>
<path stroke="#180f3d" d="M528 711.5h0"/>
<path stroke="#f8765c" d="M2168.5 676h0"/>
<path stroke="#ef5d5e" d="M2094 658.5h0"/>
<path stroke="#440f76" d="M1542.5 589h0"/>
<path stroke="#5a167e" d="M742.5 974h0"/>
<path stroke="#b3367a" d="M1986.5 604h0"/>
<path stroke="#f8765c" d="M871.5 821.5h0"/>
<path stroke="#862781" d="M2154.5 1112.5h0"/>
<path stroke="#2c115f" d="M501.5 907.5h0"/>
<path stroke="#180f3d" d="M1454 709.5h0"/>
<path stroke="#08071e" d="M1344 400.5h0m-20.5-109.5h0m547 352.5h0"/>
<path stroke="#df4a68" d="M1938 635.5h0"/>
<path stroke="#5a167e" d="M2190.5 617.5h0"/>
<path stroke="#ef5d5e" d="M2021.5 642h0"/>
<path stroke="#08071e" d="M1757 639h0"/>
<path stroke="#440f76" d="M886.5 839.5h0"/>
<path stroke="#180f3d" d="M1986.5 341h0m-625 299.5h0"/>
<path stroke="#08071e" d="M1292.5 383h0"/>
<path stroke="#2c115f" d="M1820 709.5h0"/>
<path stroke="#180f3d" d="M1906.5 643h0m-234.5 66.5h0"/>
<path stroke="#08071e" d="M1700 635.5h0"/>
<path stroke="#180f3d" d="M1302 572.5h0m-538.5 175h0"/>
<path stroke="#ca3e72" d="M2103 674h0"/>
<path stroke="#5a167e" d="M790.5 779.5h0"/>
<path stroke="#180f3d" d="M1738 719h0"/>
<path stroke="#b3367a" d="M2084 605.5h0"/>
<path stroke="#701f81" d="M1957.5 626h0"/>
<path stroke="#f8765c" d="M2130 604.5h0"/>
<path stroke="#fec488" d="M2165.5 607.5h0"/>
<path stroke="#08071e" d="M774 748.5h0"/>
<path stroke="#5a167e" d="M2152.5 1110h0"/>
<path stroke="#ef5d5e" d="M2131 592.5h0"/>
<path stroke="#180f3d" d="M1360 381h0"/>
<path stroke="#701f81" d="M1898.5 641h0"/>
<path stroke="#feaa74" d="M2157 668.5h0"/>
<path stroke="#5a167e" d="M1460.5 669h0"/>
<path stroke="#440f76" d="M872.5 828h0m709-93.5h0"/>
<path stroke="#180f3d" d="M646 787.5h0"/>
<path stroke="#440f76" d="M1990.5 667.5h0"/>
<path stroke="#08071e" d="M1891.5 701h0"/>
<path stroke="#fddea0" d="M2210 623h0"/>
</g>
<rect x="221.9" y="142.3" width="4.3" height="1462.3"/>
<rect x="221.9" y="1600.4" width="2249" height="4.3"/>
<rect x="480.6" y="1602.5" width="4.3" height="14.6"/>
<text x="482.7" y="1666.8" text-anchor="middle" font-size="52">-10</text>
<rect x="873.1" y="1602.5" width="4.3" height="14.6"/>
<text x="875.3" y="1666.8" text-anchor="middle" font-size="52">-5</text>
<rect x="1265.8" y="1602.5" width="4.3" height="14.6"/>
<text x="1267.9" y="1666.8" text-anchor="middle" font-size="52">0</text>
<rect x="1658.2" y="1602.5" width="4.3" height="14.6"/>
<text x="1660.4" y="1666.8" text-anchor="middle" font-size="52">5</text>
<rect x="2050.8" y="1602.5" width="4.3" height="14.6"/>
<text x="2053.0" y="1666.8" text-anchor="middle" font-size="52">10</text>
<rect x="2443.4" y="1602.5" width="4.3" height="14.6"/>
<text x="2445.6" y="1666.8" text-anchor="middle" font-size="52">15</text>
<rect x="209.4" y="422.5" width="14.6" height="4.3"/>
<text x="197.3" y="443.2" text-anchor="end" font-size="52">10</text>
<rect x="209.4" y="850.0" width="14.6" height="4.3"/>
<text x="197.3" y="870.7" text-anchor="end" font-size="52">0</text>
<rect x="209.4" y="1277.4" width="14.6" height="4.3"/>
<text x="197.3" y="1298.2" text-anchor="end" font-size="52">-10</text>
<text x="1342.3" y="1734.2" text-anchor="middle" font-size="61" textLength="201.5" lengthAdjust="spacingAndGlyphs">umap_1</text>
<text transform="translate(95.2 872.6) rotate(-90)" text-anchor="middle" font-size="61" textLength="211.5" lengthAdjust="spacingAndGlyphs">umap_2</text>
<defs><linearGradient id="g" x1="0" y1="1" x2="0" y2="0"><stop offset="0.00" stop-color="#000004"/><stop offset="0.05" stop-color="#06051a"/><stop offset="0.10" stop-color="#140e36"/><stop offset="0.15" stop-color="#251255"/><stop offset="0.20" stop-color="#3b0f70"/><stop offset="0.25" stop-color="#51127c"/><stop offset="0.30" stop-color="#641a80"/><stop offset="0.35" stop-color="#782281"/><stop offset="0.40" stop-color="#8c2981"/><stop offset="0.45" stop-color="#a1307e"/><stop offset="0.50" stop-color="#b73779"/><stop offset="0.55" stop-color="#ca3e72"/><stop offset="0.60" stop-color="#de4968"/><stop offset="0.65" stop-color="#ed5a5f"/><stop offset="0.70" stop-color="#f7705c"/><stop offset="0.75" stop-color="#fc8961"/><stop offset="0.80" stop-color="#fe9f6d"/><stop offset="0.85" stop-color="#feb77e"/><stop offset="0.90" stop-color="#fecf92"/><stop offset="0.95" stop-color="#fde7a9"/><stop offset="1.00" stop-color="#fcfdbf"/></linearGradient></defs>
<rect x="2527.2" y="713.5" width="63.8" height="319.4" fill="url(#g)"/>
<rect x="2527.2" y="1031.4" width="12.7" height="2" fill="#fff"/>
<rect x="2578.3" y="1031.4" width="12.7" height="2" fill="#fff"/>
<text x="2619.5" y="1051.0" font-size="52">0</text>
<rect x="2527.2" y="961.6" width="12.7" height="2" fill="#fff"/>
<rect x="2578.3" y="961.6" width="12.7" height="2" fill="#fff"/>
<text x="2619.5" y="981.2" font-size="52">1</text>
<rect x="2527.2" y="891.1" width="12.7" height="2" fill="#fff"/>
<rect x="2578.3" y="891.1" width="12.7" height="2" fill="#fff"/>
<text x="2619.5" y="910.7" font-size="52">2</text>
<rect x="2527.2" y="821.3" width="12.7" height="2" fill="#fff"/>
<rect x="2578.3" y="821.3" width="12.7" height="2" fill="#fff"/>
<text x="2619.5" y="840.9" font-size="52">3</text>
<rect x="2527.2" y="751.3" width="12.7" height="2" fill="#fff"/>
<rect x="2578.3" y="751.3" width="12.7" height="2" fill="#fff"/>
<text x="2619.5" y="770.9" font-size="52">4</text>
</svg></body></html>
